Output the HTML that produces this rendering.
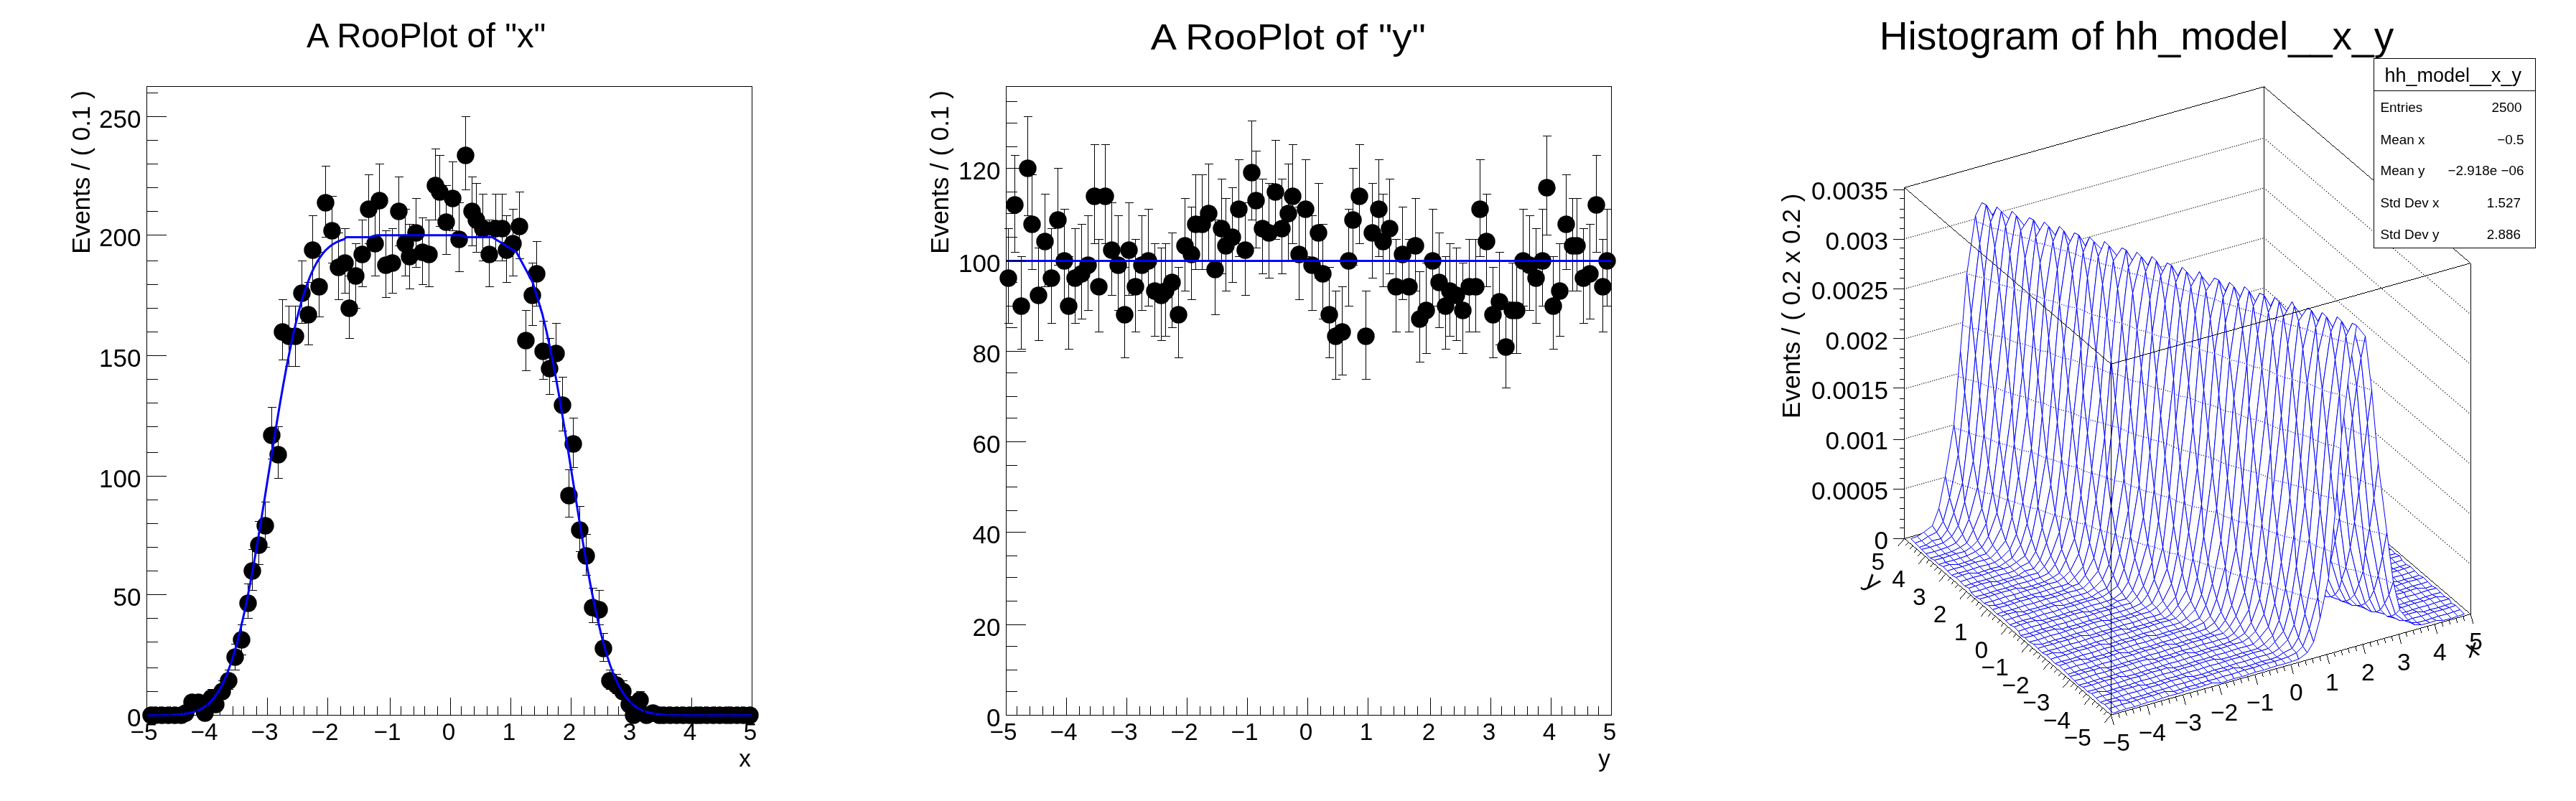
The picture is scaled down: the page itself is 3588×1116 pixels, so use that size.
<!DOCTYPE html>
<html><head><meta charset="utf-8"><title>rf301_composition</title>
<style>html,body{margin:0;padding:0;background:#fff}svg{display:block;will-change:transform}text{font-family:"Liberation Sans",sans-serif}</style></head>
<body>
<svg width="3588" height="1116" viewBox="0 0 3588 1116">
<path d="M258.5 984.5V996.5M252.5 984.5H265M252.5 996.5H265M267.5 969.5V987.5M261.5 969.5H274M261.5 987.5H274M276.5 969.5V987.5M270.5 969.5H283M270.5 987.5H283M285.5 984.5V996.5M279.5 984.5H292M279.5 996.5H292M294.5 960.5V981.5M288.5 960.5H301M288.5 981.5H301M300.5 972.5V990.5M294.5 972.5H307M294.5 990.5H307M309.5 948.5V972.5M303.5 948.5H316M303.5 972.5H316M318.5 933.5V960.5M312.5 933.5H325M312.5 960.5H325M327.5 897.5V933.5M321.5 897.5H334M321.5 933.5H334M336.5 870.5V912.5M330.5 870.5H343M330.5 912.5H343M345.5 813.5V861.5M339.5 813.5H352M339.5 861.5H352M351.5 765.5V822.5M345.5 765.5H358M345.5 822.5H358M360.5 726.5V786.5M354.5 726.5H367M354.5 786.5H367M369.5 699.5V762.5M363.5 699.5H376M363.5 762.5H376M378.5 567.5V639.5M372.5 567.5H385M372.5 639.5H385M387.5 594.5V666.5M381.5 594.5H394M381.5 666.5H394M393.5 417.5V501.5M387.5 417.5H400M387.5 501.5H400M402.5 426.5V510.5M396.5 426.5H409M396.5 510.5H409M411.5 426.5V510.5M405.5 426.5H418M405.5 510.5H418M420.5 363.5V450.5M414.5 363.5H427M414.5 450.5H427M429.5 393.5V480.5M423.5 393.5H436M423.5 480.5H436M435.5 300.5V393.5M429.5 300.5H442M429.5 393.5H442M444.5 351.5V441.5M438.5 351.5H451M438.5 441.5H451M453.5 231.5V330.5M447.5 231.5H460M447.5 330.5H460M462.5 273.5V366.5M456.5 273.5H469M456.5 366.5H469M471.5 324.5V417.5M465.5 324.5H478M465.5 417.5H478M480.5 318.5V408.5M474.5 318.5H487M474.5 408.5H487M486.5 384.5V471.5M480.5 384.5H493M480.5 471.5H493M495.5 339.5V429.5M489.5 339.5H502M489.5 429.5H502M504.5 306.5V399.5M498.5 306.5H511M498.5 399.5H511M513.5 243.5V339.5M507.5 243.5H520M507.5 339.5H520M522.5 291.5V384.5M516.5 291.5H529M516.5 384.5H529M528.5 228.5V327.5M522.5 228.5H535M522.5 327.5H535M537.5 321.5V414.5M531.5 321.5H544M531.5 414.5H544M546.5 318.5V408.5M540.5 318.5H553M540.5 408.5H553M555.5 246.5V342.5M549.5 246.5H562M549.5 342.5H562M564.5 291.5V384.5M558.5 291.5H571M558.5 384.5H571M570.5 312.5V402.5M564.5 312.5H577M564.5 402.5H577M579.5 276.5V372.5M573.5 276.5H586M573.5 372.5H586M588.5 303.5V396.5M582.5 303.5H595M582.5 396.5H595M597.5 306.5V399.5M591.5 306.5H604M591.5 399.5H604M606.5 207.5V306.5M600.5 207.5H613M600.5 306.5H613M612.5 216.5V315.5M606.5 216.5H619M606.5 315.5H619M621.5 258.5V354.5M615.5 258.5H628M615.5 354.5H628M630.5 225.5V321.5M624.5 225.5H637M624.5 321.5H637M639.5 282.5V378.5M633.5 282.5H646M633.5 378.5H646M648.5 162.5V264.5M642.5 162.5H655M642.5 264.5H655M657.5 246.5V342.5M651.5 246.5H664M651.5 342.5H664M663.5 255.5V351.5M657.5 255.5H670M657.5 351.5H670M672.5 270.5V363.5M666.5 270.5H679M666.5 363.5H679M681.5 306.5V399.5M675.5 306.5H688M675.5 399.5H688M690.5 270.5V363.5M684.5 270.5H697M684.5 363.5H697M699.5 270.5V363.5M693.5 270.5H706M693.5 363.5H706M705.5 300.5V393.5M699.5 300.5H712M699.5 393.5H712M714.5 291.5V384.5M708.5 291.5H721M708.5 384.5H721M723.5 267.5V360.5M717.5 267.5H730M717.5 360.5H730M732.5 432.5V516.5M726.5 432.5H739M726.5 516.5H739M741.5 366.5V453.5M735.5 366.5H748M735.5 453.5H748M747.5 336.5V426.5M741.5 336.5H754M741.5 426.5H754M756.5 447.5V528.5M750.5 447.5H763M750.5 528.5H763M765.5 471.5V549.5M759.5 471.5H772M759.5 549.5H772M774.5 450.5V531.5M768.5 450.5H781M768.5 531.5H781M783.5 525.5V600.5M777.5 525.5H790M777.5 600.5H790M792.5 654.5V720.5M786.5 654.5H799M786.5 720.5H799M798.5 582.5V651.5M792.5 582.5H805M792.5 651.5H805M807.5 705.5V768.5M801.5 705.5H814M801.5 768.5H814M816.5 744.5V801.5M810.5 744.5H823M810.5 801.5H823M825.5 819.5V867.5M819.5 819.5H832M819.5 867.5H832M834.5 822.5V870.5M828.5 822.5H841M828.5 870.5H841M840.5 882.5V921.5M834.5 882.5H847M834.5 921.5H847M849.5 933.5V960.5M843.5 933.5H856M843.5 960.5H856M858.5 939.5V966.5M852.5 939.5H865M852.5 966.5H865M867.5 948.5V972.5M861.5 948.5H874M861.5 972.5H874M876.5 972.5V990.5M870.5 972.5H883M870.5 990.5H883M891.5 963.5V984.5M885.5 963.5H898M885.5 984.5H898M909.5 984.5V996.5M903.5 984.5H916M903.5 996.5H916" fill="none" stroke="#000" stroke-width="1" shape-rendering="crispEdges"/>
<g fill="#000"><circle cx="210.5" cy="996.5" r="12.2"/><circle cx="216.5" cy="996.5" r="12.2"/><circle cx="225.5" cy="996.5" r="12.2"/><circle cx="234.5" cy="996.5" r="12.2"/><circle cx="243.5" cy="996.5" r="12.2"/><circle cx="252.5" cy="996.5" r="12.2"/><circle cx="258.5" cy="993.5" r="12.2"/><circle cx="267.5" cy="978.5" r="12.2"/><circle cx="276.5" cy="978.5" r="12.2"/><circle cx="285.5" cy="993.5" r="12.2"/><circle cx="294.5" cy="972.5" r="12.2"/><circle cx="300.5" cy="981.5" r="12.2"/><circle cx="309.5" cy="963.5" r="12.2"/><circle cx="318.5" cy="948.5" r="12.2"/><circle cx="327.5" cy="915.5" r="12.2"/><circle cx="336.5" cy="891.5" r="12.2"/><circle cx="345.5" cy="840.5" r="12.2"/><circle cx="351.5" cy="795.5" r="12.2"/><circle cx="360.5" cy="759.5" r="12.2"/><circle cx="369.5" cy="732.5" r="12.2"/><circle cx="378.5" cy="606.5" r="12.2"/><circle cx="387.5" cy="633.5" r="12.2"/><circle cx="393.5" cy="462.5" r="12.2"/><circle cx="402.5" cy="468.5" r="12.2"/><circle cx="411.5" cy="468.5" r="12.2"/><circle cx="420.5" cy="408.5" r="12.2"/><circle cx="429.5" cy="438.5" r="12.2"/><circle cx="435.5" cy="348.5" r="12.2"/><circle cx="444.5" cy="399.5" r="12.2"/><circle cx="453.5" cy="282.5" r="12.2"/><circle cx="462.5" cy="321.5" r="12.2"/><circle cx="471.5" cy="372.5" r="12.2"/><circle cx="480.5" cy="366.5" r="12.2"/><circle cx="486.5" cy="429.5" r="12.2"/><circle cx="495.5" cy="384.5" r="12.2"/><circle cx="504.5" cy="354.5" r="12.2"/><circle cx="513.5" cy="291.5" r="12.2"/><circle cx="522.5" cy="339.5" r="12.2"/><circle cx="528.5" cy="279.5" r="12.2"/><circle cx="537.5" cy="369.5" r="12.2"/><circle cx="546.5" cy="366.5" r="12.2"/><circle cx="555.5" cy="294.5" r="12.2"/><circle cx="564.5" cy="339.5" r="12.2"/><circle cx="570.5" cy="357.5" r="12.2"/><circle cx="579.5" cy="324.5" r="12.2"/><circle cx="588.5" cy="351.5" r="12.2"/><circle cx="597.5" cy="354.5" r="12.2"/><circle cx="606.5" cy="258.5" r="12.2"/><circle cx="612.5" cy="267.5" r="12.2"/><circle cx="621.5" cy="309.5" r="12.2"/><circle cx="630.5" cy="276.5" r="12.2"/><circle cx="639.5" cy="333.5" r="12.2"/><circle cx="648.5" cy="216.5" r="12.2"/><circle cx="657.5" cy="294.5" r="12.2"/><circle cx="663.5" cy="306.5" r="12.2"/><circle cx="672.5" cy="318.5" r="12.2"/><circle cx="681.5" cy="354.5" r="12.2"/><circle cx="690.5" cy="318.5" r="12.2"/><circle cx="699.5" cy="318.5" r="12.2"/><circle cx="705.5" cy="348.5" r="12.2"/><circle cx="714.5" cy="339.5" r="12.2"/><circle cx="723.5" cy="315.5" r="12.2"/><circle cx="732.5" cy="474.5" r="12.2"/><circle cx="741.5" cy="411.5" r="12.2"/><circle cx="747.5" cy="381.5" r="12.2"/><circle cx="756.5" cy="489.5" r="12.2"/><circle cx="765.5" cy="513.5" r="12.2"/><circle cx="774.5" cy="492.5" r="12.2"/><circle cx="783.5" cy="564.5" r="12.2"/><circle cx="792.5" cy="690.5" r="12.2"/><circle cx="798.5" cy="618.5" r="12.2"/><circle cx="807.5" cy="738.5" r="12.2"/><circle cx="816.5" cy="774.5" r="12.2"/><circle cx="825.5" cy="846.5" r="12.2"/><circle cx="834.5" cy="849.5" r="12.2"/><circle cx="840.5" cy="903.5" r="12.2"/><circle cx="849.5" cy="948.5" r="12.2"/><circle cx="858.5" cy="954.5" r="12.2"/><circle cx="867.5" cy="963.5" r="12.2"/><circle cx="876.5" cy="981.5" r="12.2"/><circle cx="882.5" cy="996.5" r="12.2"/><circle cx="891.5" cy="975.5" r="12.2"/><circle cx="900.5" cy="996.5" r="12.2"/><circle cx="909.5" cy="993.5" r="12.2"/><circle cx="918.5" cy="996.5" r="12.2"/><circle cx="924.5" cy="996.5" r="12.2"/><circle cx="933.5" cy="996.5" r="12.2"/><circle cx="942.5" cy="996.5" r="12.2"/><circle cx="951.5" cy="996.5" r="12.2"/><circle cx="960.5" cy="996.5" r="12.2"/><circle cx="969.5" cy="996.5" r="12.2"/><circle cx="975.5" cy="996.5" r="12.2"/><circle cx="984.5" cy="996.5" r="12.2"/><circle cx="993.5" cy="996.5" r="12.2"/><circle cx="1002.5" cy="996.5" r="12.2"/><circle cx="1011.5" cy="996.5" r="12.2"/><circle cx="1017.5" cy="996.5" r="12.2"/><circle cx="1026.5" cy="996.5" r="12.2"/><circle cx="1035.5" cy="996.5" r="12.2"/><circle cx="1044.5" cy="996.5" r="12.2"/></g>
<path d="M205 996.4L209.2 996.4L213.4 996.4L217.7 996.4L221.9 996.4L226.1 996.3L230.3 996.2L234.5 996.1L238.7 996L243 995.8L247.2 995.6L251.4 995.2L255.6 994.8L259.8 994.1L264 993.4L268.2 992.3L272.5 991L276.7 989.3L280.9 987.2L285.1 984.5L289.3 981.3L293.5 977.3L297.8 972.5L302 966.7L306.2 959.9L310.4 951.9L314.6 942.6L318.8 931.9L323.1 919.7L327.3 906L331.5 890.6L335.7 873.7L339.9 855.1L344.1 835.1L348.4 813.5L352.6 790.6L356.8 766.6L361 741.6L365.2 715.8L369.4 689.5L373.6 662.9L377.9 636.4L382.1 610L386.3 584.3L390.5 559.2L394.7 535.2L398.9 512.3L403.2 490.8L407.4 470.7L411.6 452.2L415.8 435.2L420 419.9L424.2 406.1L428.5 394L432.7 383.3L436.9 373.9L441.1 365.9L445.3 359.1L449.5 353.3L453.7 348.5L458 344.6L462.2 341.3L466.4 338.7L470.6 336.5L474.8 334.8L479 333.5L482.1 330.5L515.8 330.5L524.6 327.8L641.8 327.8L651.1 330.5L685.6 330.5L719.3 351.3L741.9 393.3L755.4 437.5L761.5 463.1L765.7 482.6L769.9 503.5L774.2 525.9L778.4 549.5L782.6 574.2L786.8 599.7L791 625.8L795.2 652.3L799.5 678.9L803.7 705.3L807.9 731.3L812.1 756.7L816.3 781.2L820.5 804.5L824.7 826.6L829 847.3L833.2 866.4L837.4 884L841.6 900L845.8 914.4L850 927.2L854.3 938.5L858.5 948.3L862.7 956.8L866.9 964.1L871.1 970.3L875.3 975.5L879.6 979.8L883.8 983.3L888 986.2L892.2 988.5L896.4 990.4L900.6 991.8L904.8 993L909.1 993.9L913.3 994.5L917.5 995L921.7 995.4L925.9 995.7L930.1 995.9L934.4 996.1L938.6 996.2L942.8 996.3L947 996.3L951.2 996.4L955.4 996.4L959.7 996.4L963.9 996.4L968.1 996.4L972.3 996.4L976.5 996.5L980.7 996.5L985 996.5L989.2 996.5L993.4 996.5L997.6 996.5L1001.8 996.5L1006 996.5L1010.2 996.5L1014.5 996.5L1018.7 996.5L1022.9 996.5L1027.1 996.5L1031.3 996.5L1035.5 996.5L1039.8 996.5L1044 996.5L1048.2 996.5" fill="none" stroke="#0000ff" stroke-width="3" stroke-linejoin="round"/>
<path d="M204.5 120.5H1047.5V996.5H204.5ZM204.5 996.5V971.5M222.5 996.5V983.5M237.5 996.5V983.5M255.5 996.5V983.5M273.5 996.5V983.5M288.5 996.5V971.5M306.5 996.5V983.5M324.5 996.5V983.5M339.5 996.5V983.5M357.5 996.5V983.5M372.5 996.5V971.5M390.5 996.5V983.5M408.5 996.5V983.5M423.5 996.5V983.5M441.5 996.5V983.5M456.5 996.5V971.5M474.5 996.5V983.5M492.5 996.5V983.5M507.5 996.5V983.5M525.5 996.5V983.5M543.5 996.5V971.5M558.5 996.5V983.5M576.5 996.5V983.5M591.5 996.5V983.5M609.5 996.5V983.5M627.5 996.5V971.5M642.5 996.5V983.5M660.5 996.5V983.5M678.5 996.5V983.5M693.5 996.5V983.5M711.5 996.5V971.5M726.5 996.5V983.5M744.5 996.5V983.5M762.5 996.5V983.5M777.5 996.5V983.5M795.5 996.5V971.5M813.5 996.5V983.5M828.5 996.5V983.5M846.5 996.5V983.5M861.5 996.5V983.5M879.5 996.5V971.5M897.5 996.5V983.5M912.5 996.5V983.5M930.5 996.5V983.5M948.5 996.5V983.5M963.5 996.5V971.5M981.5 996.5V983.5M996.5 996.5V983.5M1014.5 996.5V983.5M1032.5 996.5V983.5M1047.5 996.5V971.5M204.5 996.5H231.5M204.5 963.5H219.5M204.5 930.5H219.5M204.5 894.5H219.5M204.5 861.5H219.5M204.5 828.5H231.5M204.5 795.5H219.5M204.5 762.5H219.5M204.5 729.5H219.5M204.5 696.5H219.5M204.5 663.5H231.5M204.5 630.5H219.5M204.5 594.5H219.5M204.5 561.5H219.5M204.5 528.5H219.5M204.5 495.5H231.5M204.5 462.5H219.5M204.5 429.5H219.5M204.5 396.5H219.5M204.5 363.5H219.5M204.5 327.5H231.5M204.5 294.5H219.5M204.5 261.5H219.5M204.5 228.5H219.5M204.5 195.5H219.5M204.5 162.5H231.5M204.5 129.5H219.5" fill="none" stroke="#000" stroke-width="1" shape-rendering="crispEdges"/>
<g font-size="35" fill="#000"><text x="200.5" y="1030.5" text-anchor="middle" font-size="33.3">−5</text><text x="284.5" y="1030.5" text-anchor="middle" font-size="33.3">−4</text><text x="368.5" y="1030.5" text-anchor="middle" font-size="33.3">−3</text><text x="452.5" y="1030.5" text-anchor="middle" font-size="33.3">−2</text><text x="539.5" y="1030.5" text-anchor="middle" font-size="33.3">−1</text><text x="625" y="1030.5" text-anchor="middle" font-size="33.3">0</text><text x="709" y="1030.5" text-anchor="middle" font-size="33.3">1</text><text x="793" y="1030.5" text-anchor="middle" font-size="33.3">2</text><text x="877" y="1030.5" text-anchor="middle" font-size="33.3">3</text><text x="961" y="1030.5" text-anchor="middle" font-size="33.3">4</text><text x="1045" y="1030.5" text-anchor="middle" font-size="33.3">5</text><text x="196.5" y="1011.9" text-anchor="end">0</text><text x="196.5" y="843.9" text-anchor="end">50</text><text x="196.5" y="678.9" text-anchor="end">100</text><text x="196.5" y="510.9" text-anchor="end">150</text><text x="196.5" y="342.9" text-anchor="end">200</text><text x="196.5" y="177.9" text-anchor="end">250</text><text x="1046" y="1068" text-anchor="end" font-size="33.3">x</text><text transform="translate(125.3,126.1) rotate(-90)" text-anchor="end">Events / ( 0.1 )</text></g>
<text transform="translate(593.7,65.6) scale(1.0,1)" font-size="47.3" text-anchor="middle" fill="#000">A RooPlot of "x"</text>
<path d="M1404.5 318.5V450.5M1398.5 318.5H1411M1398.5 450.5H1411M1413.5 216.5V351.5M1407.5 216.5H1420M1407.5 351.5H1420M1422.5 357.5V486.5M1416.5 357.5H1429M1416.5 486.5H1429M1431.5 162.5V300.5M1425.5 162.5H1438M1425.5 300.5H1438M1437.5 243.5V375.5M1431.5 243.5H1444M1431.5 375.5H1444M1446.5 345.5V474.5M1440.5 345.5H1453M1440.5 474.5H1453M1455.5 270.5V399.5M1449.5 270.5H1462M1449.5 399.5H1462M1464.5 318.5V450.5M1458.5 318.5H1471M1458.5 450.5H1471M1473.5 234.5V369.5M1467.5 234.5H1480M1467.5 369.5H1480M1482.5 291.5V426.5M1476.5 291.5H1489M1476.5 426.5H1489M1488.5 357.5V486.5M1482.5 357.5H1495M1482.5 486.5H1495M1497.5 318.5V450.5M1491.5 318.5H1504M1491.5 450.5H1504M1506.5 312.5V444.5M1500.5 312.5H1513M1500.5 444.5H1513M1515.5 300.5V432.5M1509.5 300.5H1522M1509.5 432.5H1522M1524.5 201.5V339.5M1518.5 201.5H1531M1518.5 339.5H1531M1530.5 333.5V462.5M1524.5 333.5H1537M1524.5 462.5H1537M1539.5 201.5V339.5M1533.5 201.5H1546M1533.5 339.5H1546M1548.5 282.5V411.5M1542.5 282.5H1555M1542.5 411.5H1555M1557.5 300.5V432.5M1551.5 300.5H1564M1551.5 432.5H1564M1566.5 372.5V498.5M1560.5 372.5H1573M1560.5 498.5H1573M1572.5 282.5V411.5M1566.5 282.5H1579M1566.5 411.5H1579M1581.5 333.5V462.5M1575.5 333.5H1588M1575.5 462.5H1588M1590.5 300.5V432.5M1584.5 300.5H1597M1584.5 432.5H1597M1599.5 291.5V426.5M1593.5 291.5H1606M1593.5 426.5H1606M1608.5 339.5V468.5M1602.5 339.5H1615M1602.5 468.5H1615M1617.5 345.5V474.5M1611.5 345.5H1624M1611.5 474.5H1624M1623.5 339.5V468.5M1617.5 339.5H1630M1617.5 468.5H1630M1632.5 324.5V456.5M1626.5 324.5H1639M1626.5 456.5H1639M1641.5 372.5V498.5M1635.5 372.5H1648M1635.5 498.5H1648M1650.5 276.5V405.5M1644.5 276.5H1657M1644.5 405.5H1657M1659.5 288.5V417.5M1653.5 288.5H1666M1653.5 417.5H1666M1665.5 243.5V375.5M1659.5 243.5H1672M1659.5 375.5H1672M1674.5 243.5V375.5M1668.5 243.5H1681M1668.5 375.5H1681M1683.5 228.5V363.5M1677.5 228.5H1690M1677.5 363.5H1690M1692.5 306.5V438.5M1686.5 306.5H1699M1686.5 438.5H1699M1701.5 249.5V381.5M1695.5 249.5H1708M1695.5 381.5H1708M1707.5 276.5V405.5M1701.5 276.5H1714M1701.5 405.5H1714M1716.5 261.5V393.5M1710.5 261.5H1723M1710.5 393.5H1723M1725.5 222.5V357.5M1719.5 222.5H1732M1719.5 357.5H1732M1734.5 282.5V411.5M1728.5 282.5H1741M1728.5 411.5H1741M1743.5 168.5V306.5M1737.5 168.5H1750M1737.5 306.5H1750M1749.5 210.5V345.5M1743.5 210.5H1756M1743.5 345.5H1756M1758.5 249.5V381.5M1752.5 249.5H1765M1752.5 381.5H1765M1767.5 255.5V387.5M1761.5 255.5H1774M1761.5 387.5H1774M1776.5 195.5V333.5M1770.5 195.5H1783M1770.5 333.5H1783M1785.5 249.5V381.5M1779.5 249.5H1792M1779.5 381.5H1792M1794.5 228.5V363.5M1788.5 228.5H1801M1788.5 363.5H1801M1800.5 201.5V339.5M1794.5 201.5H1807M1794.5 339.5H1807M1809.5 288.5V417.5M1803.5 288.5H1816M1803.5 417.5H1816M1818.5 222.5V357.5M1812.5 222.5H1825M1812.5 357.5H1825M1827.5 300.5V432.5M1821.5 300.5H1834M1821.5 432.5H1834M1836.5 255.5V387.5M1830.5 255.5H1843M1830.5 387.5H1843M1842.5 312.5V444.5M1836.5 312.5H1849M1836.5 444.5H1849M1851.5 372.5V498.5M1845.5 372.5H1858M1845.5 498.5H1858M1860.5 405.5V528.5M1854.5 405.5H1867M1854.5 528.5H1867M1869.5 399.5V522.5M1863.5 399.5H1876M1863.5 522.5H1876M1878.5 291.5V426.5M1872.5 291.5H1885M1872.5 426.5H1885M1884.5 234.5V369.5M1878.5 234.5H1891M1878.5 369.5H1891M1893.5 201.5V339.5M1887.5 201.5H1900M1887.5 339.5H1900M1902.5 405.5V528.5M1896.5 405.5H1909M1896.5 528.5H1909M1911.5 255.5V387.5M1905.5 255.5H1918M1905.5 387.5H1918M1920.5 222.5V357.5M1914.5 222.5H1927M1914.5 357.5H1927M1926.5 270.5V399.5M1920.5 270.5H1933M1920.5 399.5H1933M1935.5 249.5V381.5M1929.5 249.5H1942M1929.5 381.5H1942M1944.5 333.5V462.5M1938.5 333.5H1951M1938.5 462.5H1951M1953.5 288.5V417.5M1947.5 288.5H1960M1947.5 417.5H1960M1962.5 333.5V462.5M1956.5 333.5H1969M1956.5 462.5H1969M1971.5 276.5V405.5M1965.5 276.5H1978M1965.5 405.5H1978M1977.5 378.5V504.5M1971.5 378.5H1984M1971.5 504.5H1984M1986.5 366.5V492.5M1980.5 366.5H1993M1980.5 492.5H1993M1995.5 291.5V426.5M1989.5 291.5H2002M1989.5 426.5H2002M2004.5 324.5V456.5M1998.5 324.5H2011M1998.5 456.5H2011M2013.5 357.5V486.5M2007.5 357.5H2020M2007.5 486.5H2020M2019.5 339.5V468.5M2013.5 339.5H2026M2013.5 468.5H2026M2028.5 345.5V474.5M2022.5 345.5H2035M2022.5 474.5H2035M2037.5 366.5V492.5M2031.5 366.5H2044M2031.5 492.5H2044M2046.5 333.5V462.5M2040.5 333.5H2053M2040.5 462.5H2053M2055.5 333.5V462.5M2049.5 333.5H2062M2049.5 462.5H2062M2061.5 222.5V357.5M2055.5 222.5H2068M2055.5 357.5H2068M2070.5 270.5V399.5M2064.5 270.5H2077M2064.5 399.5H2077M2079.5 372.5V498.5M2073.5 372.5H2086M2073.5 498.5H2086M2088.5 351.5V480.5M2082.5 351.5H2095M2082.5 480.5H2095M2097.5 420.5V540.5M2091.5 420.5H2104M2091.5 540.5H2104M2106.5 366.5V492.5M2100.5 366.5H2113M2100.5 492.5H2113M2112.5 366.5V492.5M2106.5 366.5H2119M2106.5 492.5H2119M2121.5 291.5V426.5M2115.5 291.5H2128M2115.5 426.5H2128M2130.5 300.5V432.5M2124.5 300.5H2137M2124.5 432.5H2137M2139.5 318.5V450.5M2133.5 318.5H2146M2133.5 450.5H2146M2148.5 291.5V426.5M2142.5 291.5H2155M2142.5 426.5H2155M2154.5 189.5V327.5M2148.5 189.5H2161M2148.5 327.5H2161M2163.5 357.5V486.5M2157.5 357.5H2170M2157.5 486.5H2170M2172.5 339.5V468.5M2166.5 339.5H2179M2166.5 468.5H2179M2181.5 243.5V375.5M2175.5 243.5H2188M2175.5 375.5H2188M2190.5 276.5V405.5M2184.5 276.5H2197M2184.5 405.5H2197M2196.5 276.5V405.5M2190.5 276.5H2203M2190.5 405.5H2203M2205.5 318.5V450.5M2199.5 318.5H2212M2199.5 450.5H2212M2214.5 312.5V444.5M2208.5 312.5H2221M2208.5 444.5H2221M2223.5 216.5V351.5M2217.5 216.5H2230M2217.5 351.5H2230M2232.5 333.5V462.5M2226.5 333.5H2239M2226.5 462.5H2239M2238.5 291.5V426.5M2232.5 291.5H2245M2232.5 426.5H2245" fill="none" stroke="#000" stroke-width="1" shape-rendering="crispEdges"/>
<g fill="#000"><circle cx="1404.5" cy="387.5" r="12.2"/><circle cx="1413.5" cy="285.5" r="12.2"/><circle cx="1422.5" cy="426.5" r="12.2"/><circle cx="1431.5" cy="234.5" r="12.2"/><circle cx="1437.5" cy="312.5" r="12.2"/><circle cx="1446.5" cy="411.5" r="12.2"/><circle cx="1455.5" cy="336.5" r="12.2"/><circle cx="1464.5" cy="387.5" r="12.2"/><circle cx="1473.5" cy="306.5" r="12.2"/><circle cx="1482.5" cy="363.5" r="12.2"/><circle cx="1488.5" cy="426.5" r="12.2"/><circle cx="1497.5" cy="387.5" r="12.2"/><circle cx="1506.5" cy="381.5" r="12.2"/><circle cx="1515.5" cy="369.5" r="12.2"/><circle cx="1524.5" cy="273.5" r="12.2"/><circle cx="1530.5" cy="399.5" r="12.2"/><circle cx="1539.5" cy="273.5" r="12.2"/><circle cx="1548.5" cy="348.5" r="12.2"/><circle cx="1557.5" cy="369.5" r="12.2"/><circle cx="1566.5" cy="438.5" r="12.2"/><circle cx="1572.5" cy="348.5" r="12.2"/><circle cx="1581.5" cy="399.5" r="12.2"/><circle cx="1590.5" cy="369.5" r="12.2"/><circle cx="1599.5" cy="363.5" r="12.2"/><circle cx="1608.5" cy="405.5" r="12.2"/><circle cx="1617.5" cy="411.5" r="12.2"/><circle cx="1623.5" cy="405.5" r="12.2"/><circle cx="1632.5" cy="393.5" r="12.2"/><circle cx="1641.5" cy="438.5" r="12.2"/><circle cx="1650.5" cy="342.5" r="12.2"/><circle cx="1659.5" cy="354.5" r="12.2"/><circle cx="1665.5" cy="312.5" r="12.2"/><circle cx="1674.5" cy="312.5" r="12.2"/><circle cx="1683.5" cy="297.5" r="12.2"/><circle cx="1692.5" cy="375.5" r="12.2"/><circle cx="1701.5" cy="318.5" r="12.2"/><circle cx="1707.5" cy="342.5" r="12.2"/><circle cx="1716.5" cy="330.5" r="12.2"/><circle cx="1725.5" cy="291.5" r="12.2"/><circle cx="1734.5" cy="348.5" r="12.2"/><circle cx="1743.5" cy="240.5" r="12.2"/><circle cx="1749.5" cy="279.5" r="12.2"/><circle cx="1758.5" cy="318.5" r="12.2"/><circle cx="1767.5" cy="324.5" r="12.2"/><circle cx="1776.5" cy="267.5" r="12.2"/><circle cx="1785.5" cy="318.5" r="12.2"/><circle cx="1794.5" cy="297.5" r="12.2"/><circle cx="1800.5" cy="273.5" r="12.2"/><circle cx="1809.5" cy="354.5" r="12.2"/><circle cx="1818.5" cy="291.5" r="12.2"/><circle cx="1827.5" cy="369.5" r="12.2"/><circle cx="1836.5" cy="324.5" r="12.2"/><circle cx="1842.5" cy="381.5" r="12.2"/><circle cx="1851.5" cy="438.5" r="12.2"/><circle cx="1860.5" cy="468.5" r="12.2"/><circle cx="1869.5" cy="462.5" r="12.2"/><circle cx="1878.5" cy="363.5" r="12.2"/><circle cx="1884.5" cy="306.5" r="12.2"/><circle cx="1893.5" cy="273.5" r="12.2"/><circle cx="1902.5" cy="468.5" r="12.2"/><circle cx="1911.5" cy="324.5" r="12.2"/><circle cx="1920.5" cy="291.5" r="12.2"/><circle cx="1926.5" cy="336.5" r="12.2"/><circle cx="1935.5" cy="318.5" r="12.2"/><circle cx="1944.5" cy="399.5" r="12.2"/><circle cx="1953.5" cy="354.5" r="12.2"/><circle cx="1962.5" cy="399.5" r="12.2"/><circle cx="1971.5" cy="342.5" r="12.2"/><circle cx="1977.5" cy="444.5" r="12.2"/><circle cx="1986.5" cy="432.5" r="12.2"/><circle cx="1995.5" cy="363.5" r="12.2"/><circle cx="2004.5" cy="393.5" r="12.2"/><circle cx="2013.5" cy="426.5" r="12.2"/><circle cx="2019.5" cy="405.5" r="12.2"/><circle cx="2028.5" cy="411.5" r="12.2"/><circle cx="2037.5" cy="432.5" r="12.2"/><circle cx="2046.5" cy="399.5" r="12.2"/><circle cx="2055.5" cy="399.5" r="12.2"/><circle cx="2061.5" cy="291.5" r="12.2"/><circle cx="2070.5" cy="336.5" r="12.2"/><circle cx="2079.5" cy="438.5" r="12.2"/><circle cx="2088.5" cy="420.5" r="12.2"/><circle cx="2097.5" cy="483.5" r="12.2"/><circle cx="2106.5" cy="432.5" r="12.2"/><circle cx="2112.5" cy="432.5" r="12.2"/><circle cx="2121.5" cy="363.5" r="12.2"/><circle cx="2130.5" cy="369.5" r="12.2"/><circle cx="2139.5" cy="387.5" r="12.2"/><circle cx="2148.5" cy="363.5" r="12.2"/><circle cx="2154.5" cy="261.5" r="12.2"/><circle cx="2163.5" cy="426.5" r="12.2"/><circle cx="2172.5" cy="405.5" r="12.2"/><circle cx="2181.5" cy="312.5" r="12.2"/><circle cx="2190.5" cy="342.5" r="12.2"/><circle cx="2196.5" cy="342.5" r="12.2"/><circle cx="2205.5" cy="387.5" r="12.2"/><circle cx="2214.5" cy="381.5" r="12.2"/><circle cx="2223.5" cy="285.5" r="12.2"/><circle cx="2232.5" cy="399.5" r="12.2"/><circle cx="2238.5" cy="363.5" r="12.2"/></g>
<path d="M1401.5 363.5L2244.5 363.5" fill="none" stroke="#0000ff" stroke-width="3" stroke-linejoin="round"/>
<path d="M1401.5 120.5H2244.5V996.5H1401.5ZM1401.5 996.5V971.5M1416.5 996.5V983.5M1434.5 996.5V983.5M1452.5 996.5V983.5M1467.5 996.5V983.5M1485.5 996.5V971.5M1503.5 996.5V983.5M1518.5 996.5V983.5M1536.5 996.5V983.5M1551.5 996.5V983.5M1569.5 996.5V971.5M1587.5 996.5V983.5M1602.5 996.5V983.5M1620.5 996.5V983.5M1638.5 996.5V983.5M1653.5 996.5V971.5M1671.5 996.5V983.5M1686.5 996.5V983.5M1704.5 996.5V983.5M1722.5 996.5V983.5M1737.5 996.5V971.5M1755.5 996.5V983.5M1773.5 996.5V983.5M1788.5 996.5V983.5M1806.5 996.5V983.5M1821.5 996.5V971.5M1839.5 996.5V983.5M1857.5 996.5V983.5M1872.5 996.5V983.5M1890.5 996.5V983.5M1905.5 996.5V971.5M1923.5 996.5V983.5M1941.5 996.5V983.5M1956.5 996.5V983.5M1974.5 996.5V983.5M1992.5 996.5V971.5M2007.5 996.5V983.5M2025.5 996.5V983.5M2040.5 996.5V983.5M2058.5 996.5V983.5M2076.5 996.5V971.5M2091.5 996.5V983.5M2109.5 996.5V983.5M2127.5 996.5V983.5M2142.5 996.5V983.5M2160.5 996.5V971.5M2175.5 996.5V983.5M2193.5 996.5V983.5M2211.5 996.5V983.5M2226.5 996.5V983.5M2244.5 996.5V971.5M1401.5 996.5H1428.5M1401.5 963.5H1416.5M1401.5 933.5H1416.5M1401.5 900.5H1416.5M1401.5 870.5H1428.5M1401.5 837.5H1416.5M1401.5 804.5H1416.5M1401.5 774.5H1416.5M1401.5 741.5H1428.5M1401.5 711.5H1416.5M1401.5 678.5H1416.5M1401.5 648.5H1416.5M1401.5 615.5H1428.5M1401.5 582.5H1416.5M1401.5 552.5H1416.5M1401.5 519.5H1416.5M1401.5 489.5H1428.5M1401.5 456.5H1416.5M1401.5 426.5H1416.5M1401.5 393.5H1416.5M1401.5 363.5H1428.5M1401.5 330.5H1416.5M1401.5 297.5H1416.5M1401.5 267.5H1416.5M1401.5 234.5H1428.5M1401.5 204.5H1416.5M1401.5 171.5H1416.5M1401.5 141.5H1416.5" fill="none" stroke="#000" stroke-width="1" shape-rendering="crispEdges"/>
<g font-size="35" fill="#000"><text x="1397.5" y="1030.5" text-anchor="middle" font-size="33.3">−5</text><text x="1481.5" y="1030.5" text-anchor="middle" font-size="33.3">−4</text><text x="1565.5" y="1030.5" text-anchor="middle" font-size="33.3">−3</text><text x="1649.5" y="1030.5" text-anchor="middle" font-size="33.3">−2</text><text x="1733.5" y="1030.5" text-anchor="middle" font-size="33.3">−1</text><text x="1819" y="1030.5" text-anchor="middle" font-size="33.3">0</text><text x="1903" y="1030.5" text-anchor="middle" font-size="33.3">1</text><text x="1990" y="1030.5" text-anchor="middle" font-size="33.3">2</text><text x="2074" y="1030.5" text-anchor="middle" font-size="33.3">3</text><text x="2158" y="1030.5" text-anchor="middle" font-size="33.3">4</text><text x="2242" y="1030.5" text-anchor="middle" font-size="33.3">5</text><text x="1393.5" y="1011.9" text-anchor="end">0</text><text x="1393.5" y="885.9" text-anchor="end">20</text><text x="1393.5" y="756.9" text-anchor="end">40</text><text x="1393.5" y="630.9" text-anchor="end">60</text><text x="1393.5" y="504.9" text-anchor="end">80</text><text x="1393.5" y="378.9" text-anchor="end">100</text><text x="1393.5" y="249.9" text-anchor="end">120</text><text x="2243" y="1068" text-anchor="end" font-size="33.3">y</text><text transform="translate(1321.3,126.1) rotate(-90)" text-anchor="end">Events / ( 0.1 )</text></g>
<text transform="translate(1794.3,68.9) scale(1.105,1)" font-size="49.2" text-anchor="middle" fill="#000">A RooPlot of "y"</text>
<path d="M2652.7 750.4L3153.4 609.9M3153.4 609.9L3441.1 855.7M2652.7 261.4L3153.4 120.9M3153.4 120.9L3441.1 366.7M3153.4 609.9L3153.4 120.9M3441.1 855.7L3441.1 366.7" fill="none" stroke="#000" stroke-width="0.99" shape-rendering="crispEdges"/>
<path d="M2652.7 680.8L3153.4 540.3M2652.7 611.2L3153.4 470.7M2652.7 541.6L3153.4 401.1M2652.7 472L3153.4 331.5M2652.7 402.4L3153.4 261.9M2652.7 332.8L3153.4 192.3" fill="none" stroke="#000" stroke-width="1.35" stroke-dasharray="0.01 3.11" stroke-linecap="round"/>
<path d="M3153.4 540.3L3441.1 786.1M3153.4 470.7L3441.1 716.5M3153.4 401.1L3441.1 646.9M3153.4 331.5L3441.1 577.3M3153.4 261.9L3441.1 507.7M3153.4 192.3L3441.1 438.1" fill="none" stroke="#000" stroke-width="1.35" stroke-dasharray="0.01 3.94" stroke-linecap="round"/>
<style>.l{fill:none;stroke-dasharray:0.01 3.2;stroke-width:1.35;stroke-linecap:round;shape-rendering:auto}</style>
<g fill="#fff" stroke="#0000ff" stroke-width="0.99" stroke-linejoin="round" shape-rendering="crispEdges"><path d="M3147.5 621.5L3156.5 618.5L3150.5 612.5L3141.5 615.5z"/><path d="M3135.5 624.5L3147.5 621.5L3141.5 615.5L3132.5 618.5z"/><path d="M3126.5 627.5L3135.5 624.5L3132.5 618.5L3120.5 621.5z"/><path d="M3117.5 630.5L3126.5 627.5L3120.5 621.5L3111.5 624.5z"/><path d="M3105.5 633.5L3117.5 630.5L3111.5 624.5L3102.5 627.5z"/><path d="M3096.5 636.5L3105.5 633.5L3102.5 627.5L3090.5 630.5z"/><path d="M3087.5 639.5L3096.5 636.5L3090.5 630.5L3081.5 633.5z"/><path d="M3075.5 642.5L3087.5 639.5L3081.5 633.5L3072.5 636.5z"/><path d="M3066.5 642.5L3075.5 642.5L3072.5 636.5L3060.5 639.5z"/><path d="M3057.5 645.5L3066.5 642.5L3060.5 639.5L3051.5 642.5z"/><path d="M3045.5 648.5L3057.5 645.5L3051.5 642.5L3042.5 645.5z"/><path d="M3036.5 651.5L3045.5 648.5L3042.5 645.5L3030.5 648.5z"/><path d="M3027.5 654.5L3036.5 651.5L3030.5 648.5L3021.5 651.5z"/><path d="M3015.5 657.5L3027.5 654.5L3021.5 651.5L3012.5 654.5z"/><path d="M3006.5 660.5L3015.5 657.5L3012.5 654.5L3000.5 654.5z"/><path d="M2997.5 663.5L3006.5 660.5L3000.5 654.5L2991.5 657.5z"/><path d="M2985.5 666.5L2997.5 663.5L2991.5 657.5L2982.5 660.5z"/><path d="M2976.5 669.5L2985.5 666.5L2982.5 660.5L2970.5 663.5z"/><path d="M2967.5 672.5L2976.5 669.5L2970.5 663.5L2961.5 666.5z"/><path d="M2955.5 675.5L2967.5 672.5L2961.5 666.5L2949.5 669.5z"/><path d="M2946.5 678.5L2955.5 675.5L2949.5 669.5L2940.5 672.5z"/><path d="M2937.5 681.5L2946.5 678.5L2940.5 672.5L2931.5 675.5z"/><path d="M2925.5 684.5L2937.5 681.5L2931.5 675.5L2919.5 678.5z"/><path d="M2916.5 687.5L2925.5 684.5L2919.5 678.5L2910.5 681.5z"/><path d="M2907.5 687.5L2916.5 687.5L2910.5 681.5L2901.5 684.5z"/><path d="M2895.5 690.5L2907.5 687.5L2901.5 684.5L2889.5 687.5z"/><path d="M2886.5 693.5L2895.5 690.5L2889.5 687.5L2880.5 690.5z"/><path d="M2877.5 696.5L2886.5 693.5L2880.5 690.5L2871.5 693.5z"/><path d="M2865.5 699.5L2877.5 696.5L2871.5 693.5L2859.5 696.5z"/><path d="M2856.5 702.5L2865.5 699.5L2859.5 696.5L2850.5 696.5z"/><path d="M2847.5 702.5L2856.5 702.5L2850.5 696.5L2841.5 699.5z"/><path d="M2835.5 696.5L2847.5 702.5L2841.5 699.5L2829.5 696.5z"/><path d="M2826.5 678.5L2835.5 696.5L2829.5 696.5L2820.5 687.5z"/><path d="M2817.5 642.5L2826.5 678.5L2820.5 687.5L2811.5 660.5z"/><path class="l" d="M2818.3 645.5L2816.6 645.1"/><path d="M2805.5 573.5L2817.5 642.5L2811.5 660.5L2799.5 606.5z"/><path class="l" d="M2816.6 645.1L2807.1 640.5"/><path class="l" d="M2806.3 578.4L2804.7 577.7"/><path d="M2796.5 477.5L2805.5 573.5L2799.5 606.5L2790.5 525.5z"/><path class="l" d="M2804.7 577.7L2795.9 574.1"/><path class="l" d="M2799.6 510.5L2792.6 508.8"/><path d="M2787.5 375.5L2796.5 477.5L2790.5 525.5L2781.5 420.5z"/><path class="l" d="M2792.6 508.8L2789 507.6"/><path class="l" d="M2793.4 442.8L2783 438.3"/><path d="M2775.5 300.5L2787.5 375.5L2781.5 420.5L2769.5 327.5z"/><path class="l" d="M2787.5 375.2L2775 370.3"/><path class="l" d="M2776.6 307.4L2774.2 306.4"/><path d="M2766.5 285.5L2775.5 300.5L2769.5 327.5L2760.5 282.5z"/><path class="l" d="M2774.2 306.4L2764.9 304.5"/><path d="M2757.5 339.5L2766.5 285.5L2760.5 282.5L2751.5 300.5z"/><path class="l" d="M2762.1 311.9L2752.8 309"/><path d="M2745.5 438.5L2757.5 339.5L2751.5 300.5L2739.5 381.5z"/><path class="l" d="M2752 385.1L2739.5 381.2"/><path class="l" d="M2752.8 309L2750.4 308"/><path d="M2736.5 546.5L2745.5 438.5L2739.5 381.5L2730.5 489.5z"/><path class="l" d="M2738 528.1L2734.4 526.7"/><path class="l" d="M2744 456.8L2733.6 452.7"/><path d="M2727.5 633.5L2736.5 546.5L2730.5 489.5L2721.5 591.5z"/><path class="l" d="M2731.1 598.7L2722.3 596.8"/><path class="l" d="M2734.4 526.7L2727.4 524.5"/><path d="M2715.5 693.5L2727.5 633.5L2721.5 591.5L2709.5 663.5z"/><path class="l" d="M2719.9 671.3L2710.4 667.8"/><path class="l" d="M2722.3 596.8L2720.7 596.6"/><path d="M2706.5 726.5L2715.5 693.5L2709.5 663.5L2700.5 708.5z"/><path class="l" d="M2710.4 667.8L2708.7 667.3"/><path d="M2697.5 741.5L2706.5 726.5L2700.5 708.5L2691.5 732.5z"/><path d="M2685.5 747.5L2697.5 741.5L2691.5 732.5L2679.5 741.5z"/><path d="M2676.5 753.5L2685.5 747.5L2679.5 741.5L2670.5 747.5z"/><path d="M2667.5 756.5L2676.5 753.5L2670.5 747.5L2661.5 750.5z"/><path d="M3153.5 627.5L3162.5 624.5L3156.5 618.5L3147.5 621.5z"/><path d="M3141.5 630.5L3153.5 627.5L3147.5 621.5L3135.5 624.5z"/><path d="M3132.5 633.5L3141.5 630.5L3135.5 624.5L3126.5 627.5z"/><path d="M3123.5 633.5L3132.5 633.5L3126.5 627.5L3117.5 630.5z"/><path d="M3111.5 636.5L3123.5 633.5L3117.5 630.5L3105.5 633.5z"/><path d="M3102.5 639.5L3111.5 636.5L3105.5 633.5L3096.5 636.5z"/><path d="M3093.5 642.5L3102.5 639.5L3096.5 636.5L3087.5 639.5z"/><path d="M3081.5 645.5L3093.5 642.5L3087.5 639.5L3075.5 642.5z"/><path d="M3072.5 648.5L3081.5 645.5L3075.5 642.5L3066.5 642.5z"/><path d="M3063.5 651.5L3072.5 648.5L3066.5 642.5L3057.5 645.5z"/><path d="M3051.5 654.5L3063.5 651.5L3057.5 645.5L3045.5 648.5z"/><path d="M3042.5 657.5L3051.5 654.5L3045.5 648.5L3036.5 651.5z"/><path d="M3033.5 660.5L3042.5 657.5L3036.5 651.5L3027.5 654.5z"/><path d="M3021.5 663.5L3033.5 660.5L3027.5 654.5L3015.5 657.5z"/><path d="M3012.5 666.5L3021.5 663.5L3015.5 657.5L3006.5 660.5z"/><path d="M3003.5 669.5L3012.5 666.5L3006.5 660.5L2997.5 663.5z"/><path d="M2991.5 672.5L3003.5 669.5L2997.5 663.5L2985.5 666.5z"/><path d="M2982.5 675.5L2991.5 672.5L2985.5 666.5L2976.5 669.5z"/><path d="M2973.5 675.5L2982.5 675.5L2976.5 669.5L2967.5 672.5z"/><path d="M2961.5 678.5L2973.5 675.5L2967.5 672.5L2955.5 675.5z"/><path d="M2952.5 681.5L2961.5 678.5L2955.5 675.5L2946.5 678.5z"/><path d="M2943.5 684.5L2952.5 681.5L2946.5 678.5L2937.5 681.5z"/><path d="M2931.5 687.5L2943.5 684.5L2937.5 681.5L2925.5 684.5z"/><path d="M2922.5 690.5L2931.5 687.5L2925.5 684.5L2916.5 687.5z"/><path d="M2913.5 693.5L2922.5 690.5L2916.5 687.5L2907.5 687.5z"/><path d="M2901.5 696.5L2913.5 693.5L2907.5 687.5L2895.5 690.5z"/><path d="M2892.5 699.5L2901.5 696.5L2895.5 690.5L2886.5 693.5z"/><path d="M2883.5 702.5L2892.5 699.5L2886.5 693.5L2877.5 696.5z"/><path d="M2871.5 705.5L2883.5 702.5L2877.5 696.5L2865.5 699.5z"/><path d="M2862.5 705.5L2871.5 705.5L2865.5 699.5L2856.5 702.5z"/><path d="M2853.5 705.5L2862.5 705.5L2856.5 702.5L2847.5 702.5z"/><path d="M2841.5 693.5L2853.5 705.5L2847.5 702.5L2835.5 696.5z"/><path d="M2832.5 666.5L2841.5 693.5L2835.5 696.5L2826.5 678.5z"/><path d="M2823.5 615.5L2832.5 666.5L2826.5 678.5L2817.5 642.5z"/><path class="l" d="M2829.2 647.6L2818.3 645.5"/><path d="M2811.5 531.5L2823.5 615.5L2817.5 642.5L2805.5 573.5z"/><path class="l" d="M2818.7 581.9L2806.3 578.4"/><path d="M2802.5 429.5L2811.5 531.5L2805.5 573.5L2796.5 477.5z"/><path class="l" d="M2810 514.1L2799.6 510.5"/><path class="l" d="M2804 446.8L2800.5 445.5"/><path d="M2793.5 336.5L2802.5 429.5L2796.5 477.5L2787.5 375.5z"/><path class="l" d="M2800.5 445.5L2793.4 442.8"/><path class="l" d="M2797.6 379.3L2787.5 375.3"/><path d="M2781.5 288.5L2793.5 336.5L2787.5 375.5L2775.5 300.5z"/><path class="l" d="M2787.5 375.3L2787.5 375.2"/><path class="l" d="M2787.4 312L2776.6 307.4"/><path d="M2772.5 309.5L2781.5 288.5L2775.5 300.5L2766.5 285.5z"/><path d="M2763.5 387.5L2772.5 309.5L2766.5 285.5L2757.5 339.5z"/><path class="l" d="M2763.5 387.2L2763.5 387.2"/><path class="l" d="M2771.7 316.7L2762.1 311.9"/><path d="M2751.5 495.5L2763.5 387.5L2757.5 339.5L2745.5 438.5z"/><path class="l" d="M2755.6 458.7L2747.5 457.5"/><path class="l" d="M2763.5 387.2L2752 385.1"/><path d="M2742.5 597.5L2751.5 495.5L2745.5 438.5L2736.5 546.5z"/><path class="l" d="M2748.4 530.5L2738 528.1"/><path class="l" d="M2747.5 457.5L2744 456.8"/><path d="M2733.5 672.5L2742.5 597.5L2736.5 546.5L2727.5 633.5z"/><path class="l" d="M2741.9 602.8L2731.1 598.7"/><path d="M2721.5 714.5L2733.5 672.5L2727.5 633.5L2715.5 693.5z"/><path class="l" d="M2732.5 676L2719.9 671.3"/><path d="M2712.5 738.5L2721.5 714.5L2715.5 693.5L2706.5 726.5z"/><path d="M2703.5 750.5L2712.5 738.5L2706.5 726.5L2697.5 741.5z"/><path d="M2691.5 753.5L2703.5 750.5L2697.5 741.5L2685.5 747.5z"/><path d="M2682.5 759.5L2691.5 753.5L2685.5 747.5L2676.5 753.5z"/><path d="M2673.5 762.5L2682.5 759.5L2676.5 753.5L2667.5 756.5z"/><path d="M3159.5 630.5L3168.5 627.5L3162.5 624.5L3153.5 627.5z"/><path d="M3147.5 633.5L3159.5 630.5L3153.5 627.5L3141.5 630.5z"/><path d="M3138.5 636.5L3147.5 633.5L3141.5 630.5L3132.5 633.5z"/><path d="M3129.5 639.5L3138.5 636.5L3132.5 633.5L3123.5 633.5z"/><path d="M3117.5 642.5L3129.5 639.5L3123.5 633.5L3111.5 636.5z"/><path d="M3108.5 645.5L3117.5 642.5L3111.5 636.5L3102.5 639.5z"/><path d="M3099.5 648.5L3108.5 645.5L3102.5 639.5L3093.5 642.5z"/><path d="M3087.5 651.5L3099.5 648.5L3093.5 642.5L3081.5 645.5z"/><path d="M3078.5 654.5L3087.5 651.5L3081.5 645.5L3072.5 648.5z"/><path d="M3069.5 657.5L3078.5 654.5L3072.5 648.5L3063.5 651.5z"/><path d="M3057.5 660.5L3069.5 657.5L3063.5 651.5L3051.5 654.5z"/><path d="M3048.5 663.5L3057.5 660.5L3051.5 654.5L3042.5 657.5z"/><path d="M3039.5 666.5L3048.5 663.5L3042.5 657.5L3033.5 660.5z"/><path d="M3027.5 666.5L3039.5 666.5L3033.5 660.5L3021.5 663.5z"/><path d="M3018.5 669.5L3027.5 666.5L3021.5 663.5L3012.5 666.5z"/><path d="M3009.5 672.5L3018.5 669.5L3012.5 666.5L3003.5 669.5z"/><path d="M2997.5 675.5L3009.5 672.5L3003.5 669.5L2991.5 672.5z"/><path d="M2988.5 678.5L2997.5 675.5L2991.5 672.5L2982.5 675.5z"/><path d="M2979.5 681.5L2988.5 678.5L2982.5 675.5L2973.5 675.5z"/><path d="M2967.5 684.5L2979.5 681.5L2973.5 675.5L2961.5 678.5z"/><path d="M2958.5 687.5L2967.5 684.5L2961.5 678.5L2952.5 681.5z"/><path d="M2949.5 690.5L2958.5 687.5L2952.5 681.5L2943.5 684.5z"/><path d="M2937.5 693.5L2949.5 690.5L2943.5 684.5L2931.5 687.5z"/><path d="M2928.5 696.5L2937.5 693.5L2931.5 687.5L2922.5 690.5z"/><path d="M2919.5 699.5L2928.5 696.5L2922.5 690.5L2913.5 693.5z"/><path d="M2907.5 702.5L2919.5 699.5L2913.5 693.5L2901.5 696.5z"/><path d="M2898.5 705.5L2907.5 702.5L2901.5 696.5L2892.5 699.5z"/><path d="M2889.5 705.5L2898.5 705.5L2892.5 699.5L2883.5 702.5z"/><path d="M2877.5 708.5L2889.5 705.5L2883.5 702.5L2871.5 705.5z"/><path d="M2868.5 708.5L2877.5 708.5L2871.5 705.5L2862.5 705.5z"/><path d="M2859.5 705.5L2868.5 708.5L2862.5 705.5L2853.5 705.5z"/><path d="M2847.5 687.5L2859.5 705.5L2853.5 705.5L2841.5 693.5z"/><path d="M2838.5 648.5L2847.5 687.5L2841.5 693.5L2832.5 666.5z"/><path class="l" d="M2839.3 651.8L2837.6 651.1"/><path d="M2829.5 579.5L2838.5 648.5L2832.5 666.5L2823.5 615.5z"/><path class="l" d="M2837.6 651.1L2829.2 647.6"/><path class="l" d="M2830.1 584.4L2828.7 584.1"/><path d="M2817.5 483.5L2829.5 579.5L2823.5 615.5L2811.5 531.5z"/><path class="l" d="M2828.7 584.1L2818.7 581.9"/><path class="l" d="M2821.6 516.5L2813.6 514.8"/><path d="M2808.5 381.5L2817.5 483.5L2811.5 531.5L2802.5 429.5z"/><path class="l" d="M2813.6 514.8L2810 514.1"/><path class="l" d="M2814.4 448.8L2804 446.8"/><path d="M2799.5 306.5L2808.5 381.5L2802.5 429.5L2793.5 336.5z"/><path class="l" d="M2808.5 381.2L2797.6 379.3"/><path class="l" d="M2800.3 313.4L2798.2 313"/><path d="M2787.5 294.5L2799.5 306.5L2793.5 336.5L2781.5 288.5z"/><path class="l" d="M2798.2 313L2787.4 312"/><path d="M2778.5 345.5L2787.5 294.5L2781.5 288.5L2772.5 309.5z"/><path class="l" d="M2783.1 319.4L2773.8 317.3"/><path d="M2766.5 444.5L2778.5 345.5L2772.5 309.5L2763.5 387.5z"/><path class="l" d="M2773 391.1L2763.5 387.2"/><path class="l" d="M2773.8 317.3L2771.7 316.7"/><path d="M2757.5 552.5L2766.5 444.5L2763.5 387.5L2751.5 495.5z"/><path class="l" d="M2759 534.1L2755.4 532.7"/><path class="l" d="M2765 462.8L2755.6 458.7"/><path d="M2748.5 642.5L2757.5 552.5L2751.5 495.5L2742.5 597.5z"/><path class="l" d="M2752.1 606.5L2743.3 603.2"/><path class="l" d="M2755.4 532.7L2748.4 530.5"/><path d="M2736.5 699.5L2748.5 642.5L2742.5 597.5L2733.5 672.5z"/><path class="l" d="M2740.9 678.4L2733.9 676.4"/><path class="l" d="M2743.3 603.2L2741.9 602.8"/><path d="M2727.5 732.5L2736.5 699.5L2733.5 672.5L2721.5 714.5z"/><path class="l" d="M2733.9 676.4L2732.5 676"/><path d="M2718.5 747.5L2727.5 732.5L2721.5 714.5L2712.5 738.5z"/><path d="M2706.5 756.5L2718.5 747.5L2712.5 738.5L2703.5 750.5z"/><path d="M2697.5 759.5L2706.5 756.5L2703.5 750.5L2691.5 753.5z"/><path d="M2688.5 762.5L2697.5 759.5L2691.5 753.5L2682.5 759.5z"/><path d="M2676.5 765.5L2688.5 762.5L2682.5 759.5L2673.5 762.5z"/><path d="M3165.5 636.5L3174.5 633.5L3168.5 627.5L3159.5 630.5z"/><path d="M3153.5 639.5L3165.5 636.5L3159.5 630.5L3147.5 633.5z"/><path d="M3144.5 642.5L3153.5 639.5L3147.5 633.5L3138.5 636.5z"/><path d="M3135.5 645.5L3144.5 642.5L3138.5 636.5L3129.5 639.5z"/><path d="M3123.5 648.5L3135.5 645.5L3129.5 639.5L3117.5 642.5z"/><path d="M3114.5 651.5L3123.5 648.5L3117.5 642.5L3108.5 645.5z"/><path d="M3105.5 654.5L3114.5 651.5L3108.5 645.5L3099.5 648.5z"/><path d="M3093.5 654.5L3105.5 654.5L3099.5 648.5L3087.5 651.5z"/><path d="M3084.5 657.5L3093.5 654.5L3087.5 651.5L3078.5 654.5z"/><path d="M3075.5 660.5L3084.5 657.5L3078.5 654.5L3069.5 657.5z"/><path d="M3063.5 663.5L3075.5 660.5L3069.5 657.5L3057.5 660.5z"/><path d="M3054.5 666.5L3063.5 663.5L3057.5 660.5L3048.5 663.5z"/><path d="M3045.5 669.5L3054.5 666.5L3048.5 663.5L3039.5 666.5z"/><path d="M3033.5 672.5L3045.5 669.5L3039.5 666.5L3027.5 666.5z"/><path d="M3024.5 675.5L3033.5 672.5L3027.5 666.5L3018.5 669.5z"/><path d="M3015.5 678.5L3024.5 675.5L3018.5 669.5L3009.5 672.5z"/><path d="M3003.5 681.5L3015.5 678.5L3009.5 672.5L2997.5 675.5z"/><path d="M2994.5 684.5L3003.5 681.5L2997.5 675.5L2988.5 678.5z"/><path d="M2985.5 687.5L2994.5 684.5L2988.5 678.5L2979.5 681.5z"/><path d="M2973.5 690.5L2985.5 687.5L2979.5 681.5L2967.5 684.5z"/><path d="M2964.5 693.5L2973.5 690.5L2967.5 684.5L2958.5 687.5z"/><path d="M2952.5 696.5L2964.5 693.5L2958.5 687.5L2949.5 690.5z"/><path d="M2943.5 699.5L2952.5 696.5L2949.5 690.5L2937.5 693.5z"/><path d="M2934.5 699.5L2943.5 699.5L2937.5 693.5L2928.5 696.5z"/><path d="M2922.5 702.5L2934.5 699.5L2928.5 696.5L2919.5 699.5z"/><path d="M2913.5 705.5L2922.5 702.5L2919.5 699.5L2907.5 702.5z"/><path d="M2904.5 708.5L2913.5 705.5L2907.5 702.5L2898.5 705.5z"/><path d="M2892.5 711.5L2904.5 708.5L2898.5 705.5L2889.5 705.5z"/><path d="M2883.5 711.5L2892.5 711.5L2889.5 705.5L2877.5 708.5z"/><path d="M2874.5 711.5L2883.5 711.5L2877.5 708.5L2868.5 708.5z"/><path d="M2862.5 702.5L2874.5 711.5L2868.5 708.5L2859.5 705.5z"/><path d="M2853.5 675.5L2862.5 702.5L2859.5 705.5L2847.5 687.5z"/><path d="M2844.5 621.5L2853.5 675.5L2847.5 687.5L2838.5 648.5z"/><path class="l" d="M2850.2 655.5L2839.3 651.8"/><path d="M2832.5 537.5L2844.5 621.5L2838.5 648.5L2829.5 579.5z"/><path class="l" d="M2839.7 587.9L2830.1 584.4"/><path d="M2823.5 435.5L2832.5 537.5L2829.5 579.5L2817.5 483.5z"/><path class="l" d="M2831 520.1L2821.6 516.5"/><path class="l" d="M2825 452.8L2821.5 451.5"/><path d="M2814.5 342.5L2823.5 435.5L2817.5 483.5L2808.5 381.5z"/><path class="l" d="M2821.5 451.5L2814.4 448.8"/><path class="l" d="M2818.6 385.3L2808.5 381.3"/><path d="M2802.5 294.5L2814.5 342.5L2808.5 381.5L2799.5 306.5z"/><path class="l" d="M2808.5 381.3L2808.5 381.2"/><path class="l" d="M2808.4 318L2800.3 313.4"/><path d="M2793.5 315.5L2802.5 294.5L2799.5 306.5L2787.5 294.5z"/><path d="M2784.5 396.5L2793.5 315.5L2787.5 294.5L2778.5 345.5z"/><path class="l" d="M2784.5 396.2L2784.5 396.2"/><path class="l" d="M2792.7 323L2783.1 319.4"/><path d="M2772.5 504.5L2784.5 396.5L2778.5 345.5L2766.5 444.5z"/><path class="l" d="M2776.6 467.7L2768.5 464.5"/><path class="l" d="M2784.5 396.2L2773 391.1"/><path d="M2763.5 603.5L2772.5 504.5L2766.5 444.5L2757.5 552.5z"/><path class="l" d="M2769.4 538.5L2759 534.1"/><path class="l" d="M2768.5 464.5L2765 462.8"/><path d="M2754.5 678.5L2763.5 603.5L2757.5 552.5L2748.5 642.5z"/><path class="l" d="M2762.9 608.8L2752.1 606.5"/><path d="M2742.5 723.5L2754.5 678.5L2748.5 642.5L2736.5 699.5z"/><path class="l" d="M2753.5 682.3L2740.9 678.4"/><path d="M2733.5 744.5L2742.5 723.5L2736.5 699.5L2727.5 732.5z"/><path d="M2724.5 756.5L2733.5 744.5L2727.5 732.5L2718.5 747.5z"/><path d="M2712.5 762.5L2724.5 756.5L2718.5 747.5L2706.5 756.5z"/><path d="M2703.5 765.5L2712.5 762.5L2706.5 756.5L2697.5 759.5z"/><path d="M2694.5 768.5L2703.5 765.5L2697.5 759.5L2688.5 762.5z"/><path d="M2682.5 771.5L2694.5 768.5L2688.5 762.5L2676.5 765.5z"/><path d="M3171.5 642.5L3180.5 639.5L3174.5 633.5L3165.5 636.5z"/><path d="M3159.5 642.5L3171.5 642.5L3165.5 636.5L3153.5 639.5z"/><path d="M3150.5 645.5L3159.5 642.5L3153.5 639.5L3144.5 642.5z"/><path d="M3138.5 648.5L3150.5 645.5L3144.5 642.5L3135.5 645.5z"/><path d="M3129.5 651.5L3138.5 648.5L3135.5 645.5L3123.5 648.5z"/><path d="M3120.5 654.5L3129.5 651.5L3123.5 648.5L3114.5 651.5z"/><path d="M3108.5 657.5L3120.5 654.5L3114.5 651.5L3105.5 654.5z"/><path d="M3099.5 660.5L3108.5 657.5L3105.5 654.5L3093.5 654.5z"/><path d="M3090.5 663.5L3099.5 660.5L3093.5 654.5L3084.5 657.5z"/><path d="M3078.5 666.5L3090.5 663.5L3084.5 657.5L3075.5 660.5z"/><path d="M3069.5 669.5L3078.5 666.5L3075.5 660.5L3063.5 663.5z"/><path d="M3060.5 672.5L3069.5 669.5L3063.5 663.5L3054.5 666.5z"/><path d="M3048.5 675.5L3060.5 672.5L3054.5 666.5L3045.5 669.5z"/><path d="M3039.5 678.5L3048.5 675.5L3045.5 669.5L3033.5 672.5z"/><path d="M3030.5 681.5L3039.5 678.5L3033.5 672.5L3024.5 675.5z"/><path d="M3018.5 684.5L3030.5 681.5L3024.5 675.5L3015.5 678.5z"/><path d="M3009.5 687.5L3018.5 684.5L3015.5 678.5L3003.5 681.5z"/><path d="M3000.5 687.5L3009.5 687.5L3003.5 681.5L2994.5 684.5z"/><path d="M2988.5 690.5L3000.5 687.5L2994.5 684.5L2985.5 687.5z"/><path d="M2979.5 693.5L2988.5 690.5L2985.5 687.5L2973.5 690.5z"/><path d="M2970.5 696.5L2979.5 693.5L2973.5 690.5L2964.5 693.5z"/><path d="M2958.5 699.5L2970.5 696.5L2964.5 693.5L2952.5 696.5z"/><path d="M2949.5 702.5L2958.5 699.5L2952.5 696.5L2943.5 699.5z"/><path d="M2940.5 705.5L2949.5 702.5L2943.5 699.5L2934.5 699.5z"/><path d="M2928.5 708.5L2940.5 705.5L2934.5 699.5L2922.5 702.5z"/><path d="M2919.5 711.5L2928.5 708.5L2922.5 702.5L2913.5 705.5z"/><path d="M2910.5 714.5L2919.5 711.5L2913.5 705.5L2904.5 708.5z"/><path d="M2898.5 717.5L2910.5 714.5L2904.5 708.5L2892.5 711.5z"/><path d="M2889.5 717.5L2898.5 717.5L2892.5 711.5L2883.5 711.5z"/><path d="M2880.5 711.5L2889.5 717.5L2883.5 711.5L2874.5 711.5z"/><path d="M2868.5 693.5L2880.5 711.5L2874.5 711.5L2862.5 702.5z"/><path d="M2859.5 654.5L2868.5 693.5L2862.5 702.5L2853.5 675.5z"/><path class="l" d="M2860.3 657.8L2858.6 657.5"/><path d="M2850.5 585.5L2859.5 654.5L2853.5 675.5L2844.5 621.5z"/><path class="l" d="M2858.6 657.5L2850.2 655.5"/><path class="l" d="M2851.1 590.4L2849.7 590.1"/><path d="M2838.5 492.5L2850.5 585.5L2844.5 621.5L2832.5 537.5z"/><path class="l" d="M2849.7 590.1L2839.7 587.9"/><path class="l" d="M2842.6 524.5L2834.6 521.9"/><path d="M2829.5 387.5L2838.5 492.5L2832.5 537.5L2823.5 435.5z"/><path class="l" d="M2834.6 521.9L2831 520.1"/><path class="l" d="M2835.4 456.7L2825 452.8"/><path d="M2820.5 315.5L2829.5 387.5L2823.5 435.5L2814.5 342.5z"/><path class="l" d="M2829.5 387.2L2818.6 385.3"/><path class="l" d="M2821.3 322.1L2819.2 321.4"/><path d="M2808.5 300.5L2820.5 315.5L2814.5 342.5L2802.5 294.5z"/><path class="l" d="M2819.2 321.4L2808.4 318"/><path d="M2799.5 354.5L2808.5 300.5L2802.5 294.5L2793.5 315.5z"/><path class="l" d="M2804.1 326.9L2794.8 324"/><path d="M2790.5 450.5L2799.5 354.5L2793.5 315.5L2784.5 396.5z"/><path class="l" d="M2795.4 398.7L2784.5 396.2"/><path class="l" d="M2794.8 324L2792.7 323"/><path d="M2778.5 558.5L2790.5 450.5L2784.5 396.5L2772.5 504.5z"/><path class="l" d="M2780.5 540.1L2776.4 539.8"/><path class="l" d="M2788.5 468.8L2776.6 467.7"/><path d="M2769.5 648.5L2778.5 558.5L2772.5 504.5L2763.5 603.5z"/><path class="l" d="M2773.1 612.5L2764.3 609.2"/><path class="l" d="M2776.4 539.8L2769.4 538.5"/><path d="M2760.5 708.5L2769.5 648.5L2763.5 603.5L2754.5 678.5z"/><path class="l" d="M2763.8 686.3L2755.4 682.8"/><path class="l" d="M2764.3 609.2L2762.9 608.8"/><path d="M2748.5 738.5L2760.5 708.5L2754.5 678.5L2742.5 723.5z"/><path class="l" d="M2755.4 682.8L2753.5 682.3"/><path d="M2739.5 756.5L2748.5 738.5L2742.5 723.5L2733.5 744.5z"/><path d="M2730.5 762.5L2739.5 756.5L2733.5 744.5L2724.5 756.5z"/><path d="M2718.5 768.5L2730.5 762.5L2724.5 756.5L2712.5 762.5z"/><path d="M2709.5 771.5L2718.5 768.5L2712.5 762.5L2703.5 765.5z"/><path d="M2700.5 774.5L2709.5 771.5L2703.5 765.5L2694.5 768.5z"/><path d="M2688.5 777.5L2700.5 774.5L2694.5 768.5L2682.5 771.5z"/><path d="M3174.5 645.5L3186.5 642.5L3180.5 639.5L3171.5 642.5z"/><path d="M3165.5 648.5L3174.5 645.5L3171.5 642.5L3159.5 642.5z"/><path d="M3156.5 651.5L3165.5 648.5L3159.5 642.5L3150.5 645.5z"/><path d="M3144.5 654.5L3156.5 651.5L3150.5 645.5L3138.5 648.5z"/><path d="M3135.5 657.5L3144.5 654.5L3138.5 648.5L3129.5 651.5z"/><path d="M3126.5 660.5L3135.5 657.5L3129.5 651.5L3120.5 654.5z"/><path d="M3114.5 663.5L3126.5 660.5L3120.5 654.5L3108.5 657.5z"/><path d="M3105.5 666.5L3114.5 663.5L3108.5 657.5L3099.5 660.5z"/><path d="M3096.5 669.5L3105.5 666.5L3099.5 660.5L3090.5 663.5z"/><path d="M3084.5 672.5L3096.5 669.5L3090.5 663.5L3078.5 666.5z"/><path d="M3075.5 675.5L3084.5 672.5L3078.5 666.5L3069.5 669.5z"/><path d="M3066.5 675.5L3075.5 675.5L3069.5 669.5L3060.5 672.5z"/><path d="M3054.5 678.5L3066.5 675.5L3060.5 672.5L3048.5 675.5z"/><path d="M3045.5 681.5L3054.5 678.5L3048.5 675.5L3039.5 678.5z"/><path d="M3036.5 684.5L3045.5 681.5L3039.5 678.5L3030.5 681.5z"/><path d="M3024.5 687.5L3036.5 684.5L3030.5 681.5L3018.5 684.5z"/><path d="M3015.5 690.5L3024.5 687.5L3018.5 684.5L3009.5 687.5z"/><path d="M3006.5 693.5L3015.5 690.5L3009.5 687.5L3000.5 687.5z"/><path d="M2994.5 696.5L3006.5 693.5L3000.5 687.5L2988.5 690.5z"/><path d="M2985.5 699.5L2994.5 696.5L2988.5 690.5L2979.5 693.5z"/><path d="M2976.5 702.5L2985.5 699.5L2979.5 693.5L2970.5 696.5z"/><path d="M2964.5 705.5L2976.5 702.5L2970.5 696.5L2958.5 699.5z"/><path d="M2955.5 708.5L2964.5 705.5L2958.5 699.5L2949.5 702.5z"/><path d="M2946.5 711.5L2955.5 708.5L2949.5 702.5L2940.5 705.5z"/><path d="M2934.5 714.5L2946.5 711.5L2940.5 705.5L2928.5 708.5z"/><path d="M2925.5 717.5L2934.5 714.5L2928.5 708.5L2919.5 711.5z"/><path d="M2916.5 717.5L2925.5 717.5L2919.5 711.5L2910.5 714.5z"/><path d="M2904.5 720.5L2916.5 717.5L2910.5 714.5L2898.5 717.5z"/><path d="M2895.5 717.5L2904.5 720.5L2898.5 717.5L2889.5 717.5z"/><path d="M2886.5 708.5L2895.5 717.5L2889.5 717.5L2880.5 711.5z"/><path d="M2874.5 681.5L2886.5 708.5L2880.5 711.5L2868.5 693.5z"/><path d="M2865.5 627.5L2874.5 681.5L2868.5 693.5L2859.5 654.5z"/><path class="l" d="M2871.2 661.5L2860.3 657.8"/><path d="M2856.5 546.5L2865.5 627.5L2859.5 654.5L2850.5 585.5z"/><path class="l" d="M2861.9 595.1L2851.1 590.4"/><path d="M2844.5 441.5L2856.5 546.5L2850.5 585.5L2838.5 492.5z"/><path class="l" d="M2854.5 528.6L2842.6 524.5"/><path class="l" d="M2846.5 459.3L2842.5 458.5"/><path d="M2835.5 348.5L2844.5 441.5L2838.5 492.5L2829.5 387.5z"/><path class="l" d="M2842.5 458.5L2835.4 456.7"/><path class="l" d="M2839.6 391.3L2829.5 387.3"/><path d="M2826.5 303.5L2835.5 348.5L2829.5 387.5L2820.5 315.5z"/><path class="l" d="M2829.5 387.3L2829.5 387.2"/><path class="l" d="M2830.9 325.5L2821.3 322.1"/><path d="M2814.5 321.5L2826.5 303.5L2820.5 315.5L2808.5 300.5z"/><path d="M2805.5 402.5L2814.5 321.5L2808.5 300.5L2799.5 354.5z"/><path class="l" d="M2805.5 402.2L2805.5 402.2"/><path class="l" d="M2813.7 329L2804.1 326.9"/><path d="M2796.5 510.5L2805.5 402.5L2799.5 354.5L2790.5 450.5z"/><path class="l" d="M2799.6 473.7L2792.5 470.5"/><path class="l" d="M2805.5 402.2L2795.4 398.7"/><path d="M2784.5 612.5L2796.5 510.5L2790.5 450.5L2778.5 558.5z"/><path class="l" d="M2792.4 545.5L2780.5 540.1"/><path class="l" d="M2792.5 470.5L2788.5 468.8"/><path d="M2775.5 684.5L2784.5 612.5L2778.5 558.5L2769.5 648.5z"/><path class="l" d="M2783.9 617.6L2773.1 612.5"/><path d="M2766.5 729.5L2775.5 684.5L2769.5 648.5L2760.5 708.5z"/><path class="l" d="M2774.7 688.3L2763.8 686.3"/><path d="M2754.5 753.5L2766.5 729.5L2760.5 708.5L2748.5 738.5z"/><path d="M2745.5 762.5L2754.5 753.5L2748.5 738.5L2739.5 756.5z"/><path d="M2736.5 768.5L2745.5 762.5L2739.5 756.5L2730.5 762.5z"/><path d="M2724.5 771.5L2736.5 768.5L2730.5 762.5L2718.5 768.5z"/><path d="M2715.5 774.5L2724.5 771.5L2718.5 768.5L2709.5 771.5z"/><path d="M2706.5 777.5L2715.5 774.5L2709.5 771.5L2700.5 774.5z"/><path d="M2694.5 780.5L2706.5 777.5L2700.5 774.5L2688.5 777.5z"/><path d="M3180.5 651.5L3192.5 648.5L3186.5 642.5L3174.5 645.5z"/><path d="M3171.5 654.5L3180.5 651.5L3174.5 645.5L3165.5 648.5z"/><path d="M3162.5 657.5L3171.5 654.5L3165.5 648.5L3156.5 651.5z"/><path d="M3150.5 660.5L3162.5 657.5L3156.5 651.5L3144.5 654.5z"/><path d="M3141.5 663.5L3150.5 660.5L3144.5 654.5L3135.5 657.5z"/><path d="M3132.5 666.5L3141.5 663.5L3135.5 657.5L3126.5 660.5z"/><path d="M3120.5 666.5L3132.5 666.5L3126.5 660.5L3114.5 663.5z"/><path d="M3111.5 669.5L3120.5 666.5L3114.5 663.5L3105.5 666.5z"/><path d="M3102.5 672.5L3111.5 669.5L3105.5 666.5L3096.5 669.5z"/><path d="M3090.5 675.5L3102.5 672.5L3096.5 669.5L3084.5 672.5z"/><path d="M3081.5 678.5L3090.5 675.5L3084.5 672.5L3075.5 675.5z"/><path d="M3072.5 681.5L3081.5 678.5L3075.5 675.5L3066.5 675.5z"/><path d="M3060.5 684.5L3072.5 681.5L3066.5 675.5L3054.5 678.5z"/><path d="M3051.5 687.5L3060.5 684.5L3054.5 678.5L3045.5 681.5z"/><path d="M3042.5 690.5L3051.5 687.5L3045.5 681.5L3036.5 684.5z"/><path d="M3030.5 693.5L3042.5 690.5L3036.5 684.5L3024.5 687.5z"/><path d="M3021.5 696.5L3030.5 693.5L3024.5 687.5L3015.5 690.5z"/><path d="M3012.5 699.5L3021.5 696.5L3015.5 690.5L3006.5 693.5z"/><path d="M3000.5 702.5L3012.5 699.5L3006.5 693.5L2994.5 696.5z"/><path d="M2991.5 705.5L3000.5 702.5L2994.5 696.5L2985.5 699.5z"/><path d="M2982.5 708.5L2991.5 705.5L2985.5 699.5L2976.5 702.5z"/><path d="M2970.5 708.5L2982.5 708.5L2976.5 702.5L2964.5 705.5z"/><path d="M2961.5 711.5L2970.5 708.5L2964.5 705.5L2955.5 708.5z"/><path d="M2952.5 714.5L2961.5 711.5L2955.5 708.5L2946.5 711.5z"/><path d="M2940.5 717.5L2952.5 714.5L2946.5 711.5L2934.5 714.5z"/><path d="M2931.5 720.5L2940.5 717.5L2934.5 714.5L2925.5 717.5z"/><path d="M2922.5 723.5L2931.5 720.5L2925.5 717.5L2916.5 717.5z"/><path d="M2910.5 723.5L2922.5 723.5L2916.5 717.5L2904.5 720.5z"/><path d="M2901.5 717.5L2910.5 723.5L2904.5 720.5L2895.5 717.5z"/><path d="M2892.5 699.5L2901.5 717.5L2895.5 717.5L2886.5 708.5z"/><path d="M2880.5 663.5L2892.5 699.5L2886.5 708.5L2874.5 681.5z"/><path class="l" d="M2881.5 666.5L2879.6 666.1"/><path d="M2871.5 594.5L2880.5 663.5L2874.5 681.5L2865.5 627.5z"/><path class="l" d="M2879.6 666.1L2871.2 661.5"/><path class="l" d="M2872.1 599.4L2870.7 598.7"/><path d="M2862.5 498.5L2871.5 594.5L2865.5 627.5L2856.5 546.5z"/><path class="l" d="M2870.7 598.7L2861.9 595.1"/><path class="l" d="M2865.6 531.5L2858.6 529.8"/><path d="M2850.5 396.5L2862.5 498.5L2856.5 546.5L2844.5 441.5z"/><path class="l" d="M2858.6 529.8L2854.5 528.6"/><path class="l" d="M2858.4 463.8L2846.5 459.3"/><path d="M2841.5 321.5L2850.5 396.5L2844.5 441.5L2835.5 348.5z"/><path class="l" d="M2850.5 396.2L2839.6 391.3"/><path class="l" d="M2842.3 328.4L2840.2 327.4"/><path d="M2832.5 306.5L2841.5 321.5L2835.5 348.5L2826.5 303.5z"/><path class="l" d="M2840.2 327.4L2830.9 325.5"/><path d="M2820.5 360.5L2832.5 306.5L2826.5 303.5L2814.5 321.5z"/><path class="l" d="M2826.6 332.9L2815.8 330"/><path d="M2811.5 459.5L2820.5 360.5L2814.5 321.5L2805.5 402.5z"/><path class="l" d="M2816.4 406.1L2805.5 402.2"/><path class="l" d="M2815.8 330L2813.7 329"/><path d="M2802.5 567.5L2811.5 459.5L2805.5 402.5L2796.5 510.5z"/><path class="l" d="M2804 549.1L2800.4 547.7"/><path class="l" d="M2810 477.8L2799.6 473.7"/><path d="M2790.5 654.5L2802.5 567.5L2796.5 510.5L2784.5 612.5z"/><path class="l" d="M2795.3 619.7L2785.3 617.8"/><path class="l" d="M2800.4 547.7L2792.4 545.5"/><path d="M2781.5 714.5L2790.5 654.5L2784.5 612.5L2775.5 684.5z"/><path class="l" d="M2784.8 692.3L2776.4 688.8"/><path class="l" d="M2785.3 617.8L2783.9 617.6"/><path d="M2769.5 747.5L2781.5 714.5L2775.5 684.5L2766.5 729.5z"/><path class="l" d="M2776.4 688.8L2774.7 688.3"/><path d="M2760.5 762.5L2769.5 747.5L2766.5 729.5L2754.5 753.5z"/><path d="M2751.5 768.5L2760.5 762.5L2754.5 753.5L2745.5 762.5z"/><path d="M2739.5 774.5L2751.5 768.5L2745.5 762.5L2736.5 768.5z"/><path d="M2730.5 777.5L2739.5 774.5L2736.5 768.5L2724.5 771.5z"/><path d="M2721.5 780.5L2730.5 777.5L2724.5 771.5L2715.5 774.5z"/><path d="M2709.5 783.5L2721.5 780.5L2715.5 774.5L2706.5 777.5z"/><path d="M2700.5 786.5L2709.5 783.5L2706.5 777.5L2694.5 780.5z"/><path d="M3186.5 654.5L3198.5 654.5L3192.5 648.5L3180.5 651.5z"/><path d="M3177.5 657.5L3186.5 654.5L3180.5 651.5L3171.5 654.5z"/><path d="M3168.5 660.5L3177.5 657.5L3171.5 654.5L3162.5 657.5z"/><path d="M3156.5 663.5L3168.5 660.5L3162.5 657.5L3150.5 660.5z"/><path d="M3147.5 666.5L3156.5 663.5L3150.5 660.5L3141.5 663.5z"/><path d="M3138.5 669.5L3147.5 666.5L3141.5 663.5L3132.5 666.5z"/><path d="M3126.5 672.5L3138.5 669.5L3132.5 666.5L3120.5 666.5z"/><path d="M3117.5 675.5L3126.5 672.5L3120.5 666.5L3111.5 669.5z"/><path d="M3108.5 678.5L3117.5 675.5L3111.5 669.5L3102.5 672.5z"/><path d="M3096.5 681.5L3108.5 678.5L3102.5 672.5L3090.5 675.5z"/><path d="M3087.5 684.5L3096.5 681.5L3090.5 675.5L3081.5 678.5z"/><path d="M3078.5 687.5L3087.5 684.5L3081.5 678.5L3072.5 681.5z"/><path d="M3066.5 690.5L3078.5 687.5L3072.5 681.5L3060.5 684.5z"/><path d="M3057.5 693.5L3066.5 690.5L3060.5 684.5L3051.5 687.5z"/><path d="M3048.5 696.5L3057.5 693.5L3051.5 687.5L3042.5 690.5z"/><path d="M3036.5 699.5L3048.5 696.5L3042.5 690.5L3030.5 693.5z"/><path d="M3027.5 699.5L3036.5 699.5L3030.5 693.5L3021.5 696.5z"/><path d="M3018.5 702.5L3027.5 699.5L3021.5 696.5L3012.5 699.5z"/><path d="M3006.5 705.5L3018.5 702.5L3012.5 699.5L3000.5 702.5z"/><path d="M2997.5 708.5L3006.5 705.5L3000.5 702.5L2991.5 705.5z"/><path d="M2988.5 711.5L2997.5 708.5L2991.5 705.5L2982.5 708.5z"/><path d="M2976.5 714.5L2988.5 711.5L2982.5 708.5L2970.5 708.5z"/><path d="M2967.5 717.5L2976.5 714.5L2970.5 708.5L2961.5 711.5z"/><path d="M2955.5 720.5L2967.5 717.5L2961.5 711.5L2952.5 714.5z"/><path d="M2946.5 723.5L2955.5 720.5L2952.5 714.5L2940.5 717.5z"/><path d="M2937.5 726.5L2946.5 723.5L2940.5 717.5L2931.5 720.5z"/><path d="M2925.5 726.5L2937.5 726.5L2931.5 720.5L2922.5 723.5z"/><path d="M2916.5 726.5L2925.5 726.5L2922.5 723.5L2910.5 723.5z"/><path d="M2907.5 714.5L2916.5 726.5L2910.5 723.5L2901.5 717.5z"/><path d="M2895.5 687.5L2907.5 714.5L2901.5 717.5L2892.5 699.5z"/><path d="M2886.5 636.5L2895.5 687.5L2892.5 699.5L2880.5 663.5z"/><path class="l" d="M2892.2 668.6L2881.5 666.5"/><path d="M2877.5 552.5L2886.5 636.5L2880.5 663.5L2871.5 594.5z"/><path class="l" d="M2882.9 602.9L2872.1 599.4"/><path d="M2865.5 450.5L2877.5 552.5L2871.5 594.5L2862.5 498.5z"/><path class="l" d="M2875.5 535.1L2865.6 531.5"/><path class="l" d="M2867.5 467.8L2864.5 466.5"/><path d="M2856.5 357.5L2865.5 450.5L2862.5 498.5L2850.5 396.5z"/><path class="l" d="M2864.5 466.5L2858.4 463.8"/><path class="l" d="M2860.6 400.3L2850.5 396.3"/><path d="M2847.5 309.5L2856.5 357.5L2850.5 396.5L2841.5 321.5z"/><path class="l" d="M2850.5 396.3L2850.5 396.2"/><path class="l" d="M2851.9 333L2842.3 328.4"/><path d="M2835.5 330.5L2847.5 309.5L2841.5 321.5L2832.5 306.5z"/><path d="M2826.5 408.5L2835.5 330.5L2832.5 306.5L2820.5 360.5z"/><path class="l" d="M2826.5 408.2L2826.5 408.2"/><path class="l" d="M2834.7 337.7L2826.6 332.9"/><path d="M2817.5 516.5L2826.5 408.5L2820.5 360.5L2811.5 459.5z"/><path class="l" d="M2820.6 479.7L2813.5 478.5"/><path class="l" d="M2826.5 408.2L2816.4 406.1"/><path d="M2805.5 618.5L2817.5 516.5L2811.5 459.5L2802.5 567.5z"/><path class="l" d="M2813.4 551.5L2804 549.1"/><path class="l" d="M2813.5 478.5L2810 477.8"/><path d="M2796.5 693.5L2805.5 618.5L2802.5 567.5L2790.5 654.5z"/><path class="l" d="M2804.9 623.8L2795.3 619.7"/><path d="M2787.5 735.5L2796.5 693.5L2790.5 654.5L2781.5 714.5z"/><path class="l" d="M2795.7 697L2784.8 692.3"/><path d="M2775.5 759.5L2787.5 735.5L2781.5 714.5L2769.5 747.5z"/><path d="M2766.5 771.5L2775.5 759.5L2769.5 747.5L2760.5 762.5z"/><path d="M2757.5 774.5L2766.5 771.5L2760.5 762.5L2751.5 768.5z"/><path d="M2745.5 780.5L2757.5 774.5L2751.5 768.5L2739.5 774.5z"/><path d="M2736.5 783.5L2745.5 780.5L2739.5 774.5L2730.5 777.5z"/><path d="M2727.5 786.5L2736.5 783.5L2730.5 777.5L2721.5 780.5z"/><path d="M2715.5 786.5L2727.5 786.5L2721.5 780.5L2709.5 783.5z"/><path d="M2706.5 789.5L2715.5 786.5L2709.5 783.5L2700.5 786.5z"/><path d="M3192.5 660.5L3204.5 657.5L3198.5 654.5L3186.5 654.5z"/><path d="M3183.5 663.5L3192.5 660.5L3186.5 654.5L3177.5 657.5z"/><path d="M3174.5 666.5L3183.5 663.5L3177.5 657.5L3168.5 660.5z"/><path d="M3162.5 669.5L3174.5 666.5L3168.5 660.5L3156.5 663.5z"/><path d="M3153.5 672.5L3162.5 669.5L3156.5 663.5L3147.5 666.5z"/><path d="M3141.5 675.5L3153.5 672.5L3147.5 666.5L3138.5 669.5z"/><path d="M3132.5 678.5L3141.5 675.5L3138.5 669.5L3126.5 672.5z"/><path d="M3123.5 681.5L3132.5 678.5L3126.5 672.5L3117.5 675.5z"/><path d="M3111.5 684.5L3123.5 681.5L3117.5 675.5L3108.5 678.5z"/><path d="M3102.5 687.5L3111.5 684.5L3108.5 678.5L3096.5 681.5z"/><path d="M3093.5 687.5L3102.5 687.5L3096.5 681.5L3087.5 684.5z"/><path d="M3081.5 690.5L3093.5 687.5L3087.5 684.5L3078.5 687.5z"/><path d="M3072.5 693.5L3081.5 690.5L3078.5 687.5L3066.5 690.5z"/><path d="M3063.5 696.5L3072.5 693.5L3066.5 690.5L3057.5 693.5z"/><path d="M3051.5 699.5L3063.5 696.5L3057.5 693.5L3048.5 696.5z"/><path d="M3042.5 702.5L3051.5 699.5L3048.5 696.5L3036.5 699.5z"/><path d="M3033.5 705.5L3042.5 702.5L3036.5 699.5L3027.5 699.5z"/><path d="M3021.5 708.5L3033.5 705.5L3027.5 699.5L3018.5 702.5z"/><path d="M3012.5 711.5L3021.5 708.5L3018.5 702.5L3006.5 705.5z"/><path d="M3003.5 714.5L3012.5 711.5L3006.5 705.5L2997.5 708.5z"/><path d="M2991.5 717.5L3003.5 714.5L2997.5 708.5L2988.5 711.5z"/><path d="M2982.5 720.5L2991.5 717.5L2988.5 711.5L2976.5 714.5z"/><path d="M2973.5 723.5L2982.5 720.5L2976.5 714.5L2967.5 717.5z"/><path d="M2961.5 726.5L2973.5 723.5L2967.5 717.5L2955.5 720.5z"/><path d="M2952.5 729.5L2961.5 726.5L2955.5 720.5L2946.5 723.5z"/><path d="M2943.5 729.5L2952.5 729.5L2946.5 723.5L2937.5 726.5z"/><path d="M2931.5 729.5L2943.5 729.5L2937.5 726.5L2925.5 726.5z"/><path d="M2922.5 726.5L2931.5 729.5L2925.5 726.5L2916.5 726.5z"/><path d="M2913.5 708.5L2922.5 726.5L2916.5 726.5L2907.5 714.5z"/><path d="M2901.5 669.5L2913.5 708.5L2907.5 714.5L2895.5 687.5z"/><path class="l" d="M2902.5 672.8L2900.6 672.1"/><path d="M2892.5 600.5L2901.5 669.5L2895.5 687.5L2886.5 636.5z"/><path class="l" d="M2900.6 672.1L2892.2 668.6"/><path class="l" d="M2893.1 605.4L2891.7 605.1"/><path d="M2883.5 504.5L2892.5 600.5L2886.5 636.5L2877.5 552.5z"/><path class="l" d="M2891.7 605.1L2882.9 602.9"/><path class="l" d="M2886.6 537.5L2879.6 535.8"/><path d="M2871.5 402.5L2883.5 504.5L2877.5 552.5L2865.5 450.5z"/><path class="l" d="M2879.6 535.8L2875.5 535.1"/><path class="l" d="M2879.4 469.8L2867.5 467.8"/><path d="M2862.5 327.5L2871.5 402.5L2865.5 450.5L2856.5 357.5z"/><path class="l" d="M2871.5 402.2L2860.6 400.3"/><path class="l" d="M2863.3 334.4L2861.2 334"/><path d="M2853.5 315.5L2862.5 327.5L2856.5 357.5L2847.5 309.5z"/><path class="l" d="M2861.2 334L2851.9 333"/><path d="M2841.5 366.5L2853.5 315.5L2847.5 309.5L2835.5 330.5z"/><path class="l" d="M2847.6 340.4L2836.8 338.3"/><path d="M2832.5 465.5L2841.5 366.5L2835.5 330.5L2826.5 408.5z"/><path class="l" d="M2837.4 412.1L2826.5 408.2"/><path class="l" d="M2836.8 338.3L2834.7 337.7"/><path d="M2823.5 573.5L2832.5 465.5L2826.5 408.5L2817.5 516.5z"/><path class="l" d="M2825 555.1L2821.4 553.7"/><path class="l" d="M2831 483.8L2820.6 479.7"/><path d="M2811.5 663.5L2823.5 573.5L2817.5 516.5L2805.5 618.5z"/><path class="l" d="M2816.3 627.5L2806.3 624.2"/><path class="l" d="M2821.4 553.7L2813.4 551.5"/><path d="M2802.5 720.5L2811.5 663.5L2805.5 618.5L2796.5 693.5z"/><path class="l" d="M2805.8 699.4L2797.4 697.4"/><path class="l" d="M2806.3 624.2L2804.9 623.8"/><path d="M2793.5 753.5L2802.5 720.5L2796.5 693.5L2787.5 735.5z"/><path class="l" d="M2797.4 697.4L2795.7 697"/><path d="M2781.5 768.5L2793.5 753.5L2787.5 735.5L2775.5 759.5z"/><path d="M2772.5 777.5L2781.5 768.5L2775.5 759.5L2766.5 771.5z"/><path d="M2763.5 780.5L2772.5 777.5L2766.5 771.5L2757.5 774.5z"/><path d="M2751.5 783.5L2763.5 780.5L2757.5 774.5L2745.5 780.5z"/><path d="M2742.5 786.5L2751.5 783.5L2745.5 780.5L2736.5 783.5z"/><path d="M2733.5 789.5L2742.5 786.5L2736.5 783.5L2727.5 786.5z"/><path d="M2721.5 792.5L2733.5 789.5L2727.5 786.5L2715.5 786.5z"/><path d="M2712.5 795.5L2721.5 792.5L2715.5 786.5L2706.5 789.5z"/><path d="M3198.5 666.5L3207.5 663.5L3204.5 657.5L3192.5 660.5z"/><path d="M3189.5 669.5L3198.5 666.5L3192.5 660.5L3183.5 663.5z"/><path d="M3177.5 672.5L3189.5 669.5L3183.5 663.5L3174.5 666.5z"/><path d="M3168.5 675.5L3177.5 672.5L3174.5 666.5L3162.5 669.5z"/><path d="M3159.5 675.5L3168.5 675.5L3162.5 669.5L3153.5 672.5z"/><path d="M3147.5 678.5L3159.5 675.5L3153.5 672.5L3141.5 675.5z"/><path d="M3138.5 681.5L3147.5 678.5L3141.5 675.5L3132.5 678.5z"/><path d="M3129.5 684.5L3138.5 681.5L3132.5 678.5L3123.5 681.5z"/><path d="M3117.5 687.5L3129.5 684.5L3123.5 681.5L3111.5 684.5z"/><path d="M3108.5 690.5L3117.5 687.5L3111.5 684.5L3102.5 687.5z"/><path d="M3099.5 693.5L3108.5 690.5L3102.5 687.5L3093.5 687.5z"/><path d="M3087.5 696.5L3099.5 693.5L3093.5 687.5L3081.5 690.5z"/><path d="M3078.5 699.5L3087.5 696.5L3081.5 690.5L3072.5 693.5z"/><path d="M3069.5 702.5L3078.5 699.5L3072.5 693.5L3063.5 696.5z"/><path d="M3057.5 705.5L3069.5 702.5L3063.5 696.5L3051.5 699.5z"/><path d="M3048.5 708.5L3057.5 705.5L3051.5 699.5L3042.5 702.5z"/><path d="M3039.5 711.5L3048.5 708.5L3042.5 702.5L3033.5 705.5z"/><path d="M3027.5 714.5L3039.5 711.5L3033.5 705.5L3021.5 708.5z"/><path d="M3018.5 717.5L3027.5 714.5L3021.5 708.5L3012.5 711.5z"/><path d="M3009.5 720.5L3018.5 717.5L3012.5 711.5L3003.5 714.5z"/><path d="M2997.5 720.5L3009.5 720.5L3003.5 714.5L2991.5 717.5z"/><path d="M2988.5 723.5L2997.5 720.5L2991.5 717.5L2982.5 720.5z"/><path d="M2979.5 726.5L2988.5 723.5L2982.5 720.5L2973.5 723.5z"/><path d="M2967.5 729.5L2979.5 726.5L2973.5 723.5L2961.5 726.5z"/><path d="M2958.5 732.5L2967.5 729.5L2961.5 726.5L2952.5 729.5z"/><path d="M2949.5 735.5L2958.5 732.5L2952.5 729.5L2943.5 729.5z"/><path d="M2937.5 732.5L2949.5 735.5L2943.5 729.5L2931.5 729.5z"/><path d="M2928.5 723.5L2937.5 732.5L2931.5 729.5L2922.5 726.5z"/><path d="M2919.5 696.5L2928.5 723.5L2922.5 726.5L2913.5 708.5z"/><path d="M2907.5 642.5L2919.5 696.5L2913.5 708.5L2901.5 669.5z"/><path class="l" d="M2915.1 676.5L2902.5 672.8"/><path d="M2898.5 558.5L2907.5 642.5L2901.5 669.5L2892.5 600.5z"/><path class="l" d="M2903.9 608.9L2893.1 605.4"/><path d="M2889.5 456.5L2898.5 558.5L2892.5 600.5L2883.5 504.5z"/><path class="l" d="M2897 541.1L2886.6 537.5"/><path class="l" d="M2891 473.8L2887.5 472.5"/><path d="M2877.5 363.5L2889.5 456.5L2883.5 504.5L2871.5 402.5z"/><path class="l" d="M2887.5 472.5L2879.4 469.8"/><path class="l" d="M2883 406.3L2871.5 402.3"/><path d="M2868.5 315.5L2877.5 363.5L2871.5 402.5L2862.5 327.5z"/><path class="l" d="M2871.5 402.3L2871.5 402.2"/><path class="l" d="M2872.9 339L2863.3 334.4"/><path d="M2859.5 336.5L2868.5 315.5L2862.5 327.5L2853.5 315.5z"/><path d="M2847.5 417.5L2859.5 336.5L2853.5 315.5L2841.5 366.5z"/><path class="l" d="M2847.5 417.2L2847.5 417.2"/><path class="l" d="M2858.4 344L2847.6 340.4"/><path d="M2838.5 525.5L2847.5 417.5L2841.5 366.5L2832.5 465.5z"/><path class="l" d="M2841.6 488.7L2834.5 485.5"/><path class="l" d="M2847.5 417.2L2837.4 412.1"/><path d="M2829.5 624.5L2838.5 525.5L2832.5 465.5L2823.5 573.5z"/><path class="l" d="M2835.4 559.5L2825 555.1"/><path class="l" d="M2834.5 485.5L2831 483.8"/><path d="M2817.5 699.5L2829.5 624.5L2823.5 573.5L2811.5 663.5z"/><path class="l" d="M2828.7 629.8L2816.3 627.5"/><path d="M2808.5 744.5L2817.5 699.5L2811.5 663.5L2802.5 720.5z"/><path class="l" d="M2816.7 703.3L2805.8 699.4"/><path d="M2799.5 765.5L2808.5 744.5L2802.5 720.5L2793.5 753.5z"/><path d="M2787.5 777.5L2799.5 765.5L2793.5 753.5L2781.5 768.5z"/><path d="M2778.5 783.5L2787.5 777.5L2781.5 768.5L2772.5 777.5z"/><path d="M2769.5 786.5L2778.5 783.5L2772.5 777.5L2763.5 780.5z"/><path d="M2757.5 789.5L2769.5 786.5L2763.5 780.5L2751.5 783.5z"/><path d="M2748.5 792.5L2757.5 789.5L2751.5 783.5L2742.5 786.5z"/><path d="M2739.5 795.5L2748.5 792.5L2742.5 786.5L2733.5 789.5z"/><path d="M2727.5 798.5L2739.5 795.5L2733.5 789.5L2721.5 792.5z"/><path d="M2718.5 801.5L2727.5 798.5L2721.5 792.5L2712.5 795.5z"/><path d="M3204.5 669.5L3213.5 666.5L3207.5 663.5L3198.5 666.5z"/><path d="M3195.5 672.5L3204.5 669.5L3198.5 666.5L3189.5 669.5z"/><path d="M3183.5 675.5L3195.5 672.5L3189.5 669.5L3177.5 672.5z"/><path d="M3174.5 678.5L3183.5 675.5L3177.5 672.5L3168.5 675.5z"/><path d="M3165.5 681.5L3174.5 678.5L3168.5 675.5L3159.5 675.5z"/><path d="M3153.5 684.5L3165.5 681.5L3159.5 675.5L3147.5 678.5z"/><path d="M3144.5 687.5L3153.5 684.5L3147.5 678.5L3138.5 681.5z"/><path d="M3135.5 690.5L3144.5 687.5L3138.5 681.5L3129.5 684.5z"/><path d="M3123.5 693.5L3135.5 690.5L3129.5 684.5L3117.5 687.5z"/><path d="M3114.5 696.5L3123.5 693.5L3117.5 687.5L3108.5 690.5z"/><path d="M3105.5 699.5L3114.5 696.5L3108.5 690.5L3099.5 693.5z"/><path d="M3093.5 702.5L3105.5 699.5L3099.5 693.5L3087.5 696.5z"/><path d="M3084.5 705.5L3093.5 702.5L3087.5 696.5L3078.5 699.5z"/><path d="M3075.5 708.5L3084.5 705.5L3078.5 699.5L3069.5 702.5z"/><path d="M3063.5 708.5L3075.5 708.5L3069.5 702.5L3057.5 705.5z"/><path d="M3054.5 711.5L3063.5 708.5L3057.5 705.5L3048.5 708.5z"/><path d="M3045.5 714.5L3054.5 711.5L3048.5 708.5L3039.5 711.5z"/><path d="M3033.5 717.5L3045.5 714.5L3039.5 711.5L3027.5 714.5z"/><path d="M3024.5 720.5L3033.5 717.5L3027.5 714.5L3018.5 717.5z"/><path d="M3015.5 723.5L3024.5 720.5L3018.5 717.5L3009.5 720.5z"/><path d="M3003.5 726.5L3015.5 723.5L3009.5 720.5L2997.5 720.5z"/><path d="M2994.5 729.5L3003.5 726.5L2997.5 720.5L2988.5 723.5z"/><path d="M2985.5 732.5L2994.5 729.5L2988.5 723.5L2979.5 726.5z"/><path d="M2973.5 735.5L2985.5 732.5L2979.5 726.5L2967.5 729.5z"/><path d="M2964.5 738.5L2973.5 735.5L2967.5 729.5L2958.5 732.5z"/><path d="M2955.5 738.5L2964.5 738.5L2958.5 732.5L2949.5 735.5z"/><path d="M2943.5 732.5L2955.5 738.5L2949.5 735.5L2937.5 732.5z"/><path d="M2934.5 714.5L2943.5 732.5L2937.5 732.5L2928.5 723.5z"/><path d="M2925.5 675.5L2934.5 714.5L2928.5 723.5L2919.5 696.5z"/><path class="l" d="M2926.3 678.8L2924.6 678.5"/><path d="M2913.5 606.5L2925.5 675.5L2919.5 696.5L2907.5 642.5z"/><path class="l" d="M2924.6 678.5L2915.1 676.5"/><path class="l" d="M2914.3 611.4L2912.7 611.1"/><path d="M2904.5 513.5L2913.5 606.5L2907.5 642.5L2898.5 558.5z"/><path class="l" d="M2912.7 611.1L2903.9 608.9"/><path class="l" d="M2907.6 545.5L2900.6 542.9"/><path d="M2895.5 411.5L2904.5 513.5L2898.5 558.5L2889.5 456.5z"/><path class="l" d="M2900.6 542.9L2897 541.1"/><path class="l" d="M2901.4 478.8L2891 473.8"/><path d="M2883.5 336.5L2895.5 411.5L2889.5 456.5L2877.5 363.5z"/><path class="l" d="M2895.5 411.2L2883 406.3"/><path class="l" d="M2884.6 343.4L2882.2 342.4"/><path d="M2874.5 321.5L2883.5 336.5L2877.5 363.5L2868.5 315.5z"/><path class="l" d="M2882.2 342.4L2872.9 339"/><path d="M2865.5 375.5L2874.5 321.5L2868.5 315.5L2859.5 336.5z"/><path class="l" d="M2870.1 347.9L2860.8 345"/><path d="M2853.5 471.5L2865.5 375.5L2859.5 336.5L2847.5 417.5z"/><path class="l" d="M2860 419.7L2847.5 417.2"/><path class="l" d="M2860.8 345L2858.4 344"/><path d="M2844.5 579.5L2853.5 471.5L2847.5 417.5L2838.5 525.5z"/><path class="l" d="M2846 561.1L2842.4 560.8"/><path class="l" d="M2852 489.8L2841.6 488.7"/><path d="M2835.5 669.5L2844.5 579.5L2838.5 525.5L2829.5 624.5z"/><path class="l" d="M2839.1 633.5L2830.3 630.2"/><path class="l" d="M2842.4 560.8L2835.4 559.5"/><path d="M2823.5 729.5L2835.5 669.5L2829.5 624.5L2817.5 699.5z"/><path class="l" d="M2827.9 707.3L2818.4 703.8"/><path class="l" d="M2830.3 630.2L2828.7 629.8"/><path d="M2814.5 759.5L2823.5 729.5L2817.5 699.5L2808.5 744.5z"/><path class="l" d="M2818.4 703.8L2816.7 703.3"/><path d="M2802.5 777.5L2814.5 759.5L2808.5 744.5L2799.5 765.5z"/><path d="M2793.5 783.5L2802.5 777.5L2799.5 765.5L2787.5 777.5z"/><path d="M2784.5 789.5L2793.5 783.5L2787.5 777.5L2778.5 783.5z"/><path d="M2772.5 792.5L2784.5 789.5L2778.5 783.5L2769.5 786.5z"/><path d="M2763.5 795.5L2772.5 792.5L2769.5 786.5L2757.5 789.5z"/><path d="M2754.5 798.5L2763.5 795.5L2757.5 789.5L2748.5 792.5z"/><path d="M2742.5 798.5L2754.5 798.5L2748.5 792.5L2739.5 795.5z"/><path d="M2733.5 801.5L2742.5 798.5L2739.5 795.5L2727.5 798.5z"/><path d="M2724.5 804.5L2733.5 801.5L2727.5 798.5L2718.5 801.5z"/><path d="M3210.5 675.5L3219.5 672.5L3213.5 666.5L3204.5 669.5z"/><path d="M3201.5 678.5L3210.5 675.5L3204.5 669.5L3195.5 672.5z"/><path d="M3189.5 681.5L3201.5 678.5L3195.5 672.5L3183.5 675.5z"/><path d="M3180.5 684.5L3189.5 681.5L3183.5 675.5L3174.5 678.5z"/><path d="M3171.5 687.5L3180.5 684.5L3174.5 678.5L3165.5 681.5z"/><path d="M3159.5 690.5L3171.5 687.5L3165.5 681.5L3153.5 684.5z"/><path d="M3150.5 693.5L3159.5 690.5L3153.5 684.5L3144.5 687.5z"/><path d="M3141.5 696.5L3150.5 693.5L3144.5 687.5L3135.5 690.5z"/><path d="M3129.5 699.5L3141.5 696.5L3135.5 690.5L3123.5 693.5z"/><path d="M3120.5 699.5L3129.5 699.5L3123.5 693.5L3114.5 696.5z"/><path d="M3111.5 702.5L3120.5 699.5L3114.5 696.5L3105.5 699.5z"/><path d="M3099.5 705.5L3111.5 702.5L3105.5 699.5L3093.5 702.5z"/><path d="M3090.5 708.5L3099.5 705.5L3093.5 702.5L3084.5 705.5z"/><path d="M3081.5 711.5L3090.5 708.5L3084.5 705.5L3075.5 708.5z"/><path d="M3069.5 714.5L3081.5 711.5L3075.5 708.5L3063.5 708.5z"/><path d="M3060.5 717.5L3069.5 714.5L3063.5 708.5L3054.5 711.5z"/><path d="M3051.5 720.5L3060.5 717.5L3054.5 711.5L3045.5 714.5z"/><path d="M3039.5 723.5L3051.5 720.5L3045.5 714.5L3033.5 717.5z"/><path d="M3030.5 726.5L3039.5 723.5L3033.5 717.5L3024.5 720.5z"/><path d="M3021.5 729.5L3030.5 726.5L3024.5 720.5L3015.5 723.5z"/><path d="M3009.5 732.5L3021.5 729.5L3015.5 723.5L3003.5 726.5z"/><path d="M3000.5 735.5L3009.5 732.5L3003.5 726.5L2994.5 729.5z"/><path d="M2988.5 738.5L3000.5 735.5L2994.5 729.5L2985.5 732.5z"/><path d="M2979.5 738.5L2988.5 738.5L2985.5 732.5L2973.5 735.5z"/><path d="M2970.5 741.5L2979.5 738.5L2973.5 735.5L2964.5 738.5z"/><path d="M2958.5 738.5L2970.5 741.5L2964.5 738.5L2955.5 738.5z"/><path d="M2949.5 729.5L2958.5 738.5L2955.5 738.5L2943.5 732.5z"/><path d="M2940.5 702.5L2949.5 729.5L2943.5 732.5L2934.5 714.5z"/><path d="M2928.5 648.5L2940.5 702.5L2934.5 714.5L2925.5 675.5z"/><path class="l" d="M2936.1 682.5L2926.3 678.8"/><path d="M2919.5 567.5L2928.5 648.5L2925.5 675.5L2913.5 606.5z"/><path class="l" d="M2924.9 616.1L2914.3 611.4"/><path d="M2910.5 462.5L2919.5 567.5L2913.5 606.5L2904.5 513.5z"/><path class="l" d="M2918 549.6L2907.6 545.5"/><path class="l" d="M2912 480.3L2908.5 479.5"/><path d="M2898.5 369.5L2910.5 462.5L2904.5 513.5L2895.5 411.5z"/><path class="l" d="M2908.5 479.5L2901.4 478.8"/><path class="l" d="M2904 412.3L2895.5 411.2"/><path d="M2889.5 324.5L2898.5 369.5L2895.5 411.5L2883.5 336.5z"/><path class="l" d="M2895.5 411.2L2895.5 411.2"/><path class="l" d="M2893.9 346.5L2884.6 343.4"/><path d="M2880.5 342.5L2889.5 324.5L2883.5 336.5L2874.5 321.5z"/><path d="M2868.5 423.5L2880.5 342.5L2874.5 321.5L2865.5 375.5z"/><path class="l" d="M2868.5 423.2L2868.5 423.2"/><path class="l" d="M2879.4 350L2870.1 347.9"/><path d="M2859.5 531.5L2868.5 423.5L2865.5 375.5L2853.5 471.5z"/><path class="l" d="M2862.6 494.7L2855.5 491.5"/><path class="l" d="M2868.5 423.2L2860 419.7"/><path d="M2850.5 633.5L2859.5 531.5L2853.5 471.5L2844.5 579.5z"/><path class="l" d="M2856.4 566.5L2846 561.1"/><path class="l" d="M2855.5 491.5L2852 489.8"/><path d="M2838.5 705.5L2850.5 633.5L2844.5 579.5L2835.5 669.5z"/><path class="l" d="M2849.7 638.6L2839.1 633.5"/><path d="M2829.5 750.5L2838.5 705.5L2835.5 669.5L2823.5 729.5z"/><path class="l" d="M2837.7 709.3L2827.9 707.3"/><path d="M2820.5 774.5L2829.5 750.5L2823.5 729.5L2814.5 759.5z"/><path d="M2808.5 783.5L2820.5 774.5L2814.5 759.5L2802.5 777.5z"/><path d="M2799.5 789.5L2808.5 783.5L2802.5 777.5L2793.5 783.5z"/><path d="M2790.5 792.5L2799.5 789.5L2793.5 783.5L2784.5 789.5z"/><path d="M2778.5 795.5L2790.5 792.5L2784.5 789.5L2772.5 792.5z"/><path d="M2769.5 798.5L2778.5 795.5L2772.5 792.5L2763.5 795.5z"/><path d="M2760.5 801.5L2769.5 798.5L2763.5 795.5L2754.5 798.5z"/><path d="M2748.5 804.5L2760.5 801.5L2754.5 798.5L2742.5 798.5z"/><path d="M2739.5 807.5L2748.5 804.5L2742.5 798.5L2733.5 801.5z"/><path d="M2730.5 810.5L2739.5 807.5L2733.5 801.5L2724.5 804.5z"/><path d="M3216.5 681.5L3225.5 678.5L3219.5 672.5L3210.5 675.5z"/><path d="M3207.5 684.5L3216.5 681.5L3210.5 675.5L3201.5 678.5z"/><path d="M3195.5 687.5L3207.5 684.5L3201.5 678.5L3189.5 681.5z"/><path d="M3186.5 687.5L3195.5 687.5L3189.5 681.5L3180.5 684.5z"/><path d="M3177.5 690.5L3186.5 687.5L3180.5 684.5L3171.5 687.5z"/><path d="M3165.5 693.5L3177.5 690.5L3171.5 687.5L3159.5 690.5z"/><path d="M3156.5 696.5L3165.5 693.5L3159.5 690.5L3150.5 693.5z"/><path d="M3144.5 699.5L3156.5 696.5L3150.5 693.5L3141.5 696.5z"/><path d="M3135.5 702.5L3144.5 699.5L3141.5 696.5L3129.5 699.5z"/><path d="M3126.5 705.5L3135.5 702.5L3129.5 699.5L3120.5 699.5z"/><path d="M3114.5 708.5L3126.5 705.5L3120.5 699.5L3111.5 702.5z"/><path d="M3105.5 711.5L3114.5 708.5L3111.5 702.5L3099.5 705.5z"/><path d="M3096.5 714.5L3105.5 711.5L3099.5 705.5L3090.5 708.5z"/><path d="M3084.5 717.5L3096.5 714.5L3090.5 708.5L3081.5 711.5z"/><path d="M3075.5 720.5L3084.5 717.5L3081.5 711.5L3069.5 714.5z"/><path d="M3066.5 723.5L3075.5 720.5L3069.5 714.5L3060.5 717.5z"/><path d="M3054.5 726.5L3066.5 723.5L3060.5 717.5L3051.5 720.5z"/><path d="M3045.5 729.5L3054.5 726.5L3051.5 720.5L3039.5 723.5z"/><path d="M3036.5 732.5L3045.5 729.5L3039.5 723.5L3030.5 726.5z"/><path d="M3024.5 732.5L3036.5 732.5L3030.5 726.5L3021.5 729.5z"/><path d="M3015.5 735.5L3024.5 732.5L3021.5 729.5L3009.5 732.5z"/><path d="M3006.5 738.5L3015.5 735.5L3009.5 732.5L3000.5 735.5z"/><path d="M2994.5 741.5L3006.5 738.5L3000.5 735.5L2988.5 738.5z"/><path d="M2985.5 744.5L2994.5 741.5L2988.5 738.5L2979.5 738.5z"/><path d="M2976.5 744.5L2985.5 744.5L2979.5 738.5L2970.5 741.5z"/><path d="M2964.5 738.5L2976.5 744.5L2970.5 741.5L2958.5 738.5z"/><path d="M2955.5 720.5L2964.5 738.5L2958.5 738.5L2949.5 729.5z"/><path d="M2946.5 684.5L2955.5 720.5L2949.5 729.5L2940.5 702.5z"/><path class="l" d="M2947.3 687.5L2945.6 687.1"/><path d="M2934.5 615.5L2946.5 684.5L2940.5 702.5L2928.5 648.5z"/><path class="l" d="M2945.6 687.1L2936.1 682.5"/><path class="l" d="M2935.3 620.4L2933.7 619.7"/><path d="M2925.5 519.5L2934.5 615.5L2928.5 648.5L2919.5 567.5z"/><path class="l" d="M2933.7 619.7L2924.9 616.1"/><path class="l" d="M2928.6 552.5L2921.6 550.8"/><path d="M2916.5 417.5L2925.5 519.5L2919.5 567.5L2910.5 462.5z"/><path class="l" d="M2921.6 550.8L2918 549.6"/><path class="l" d="M2922.4 484.8L2912 480.3"/><path d="M2904.5 342.5L2916.5 417.5L2910.5 462.5L2898.5 369.5z"/><path class="l" d="M2916.5 417.2L2904 412.3"/><path class="l" d="M2905.6 349.4L2903.2 348.4"/><path d="M2895.5 327.5L2904.5 342.5L2898.5 369.5L2889.5 324.5z"/><path class="l" d="M2903.2 348.4L2893.9 346.5"/><path d="M2886.5 381.5L2895.5 327.5L2889.5 324.5L2880.5 342.5z"/><path class="l" d="M2891.1 353.9L2881.8 351"/><path d="M2874.5 480.5L2886.5 381.5L2880.5 342.5L2868.5 423.5z"/><path class="l" d="M2881 427.1L2868.5 423.2"/><path class="l" d="M2881.8 351L2879.4 350"/><path d="M2865.5 588.5L2874.5 480.5L2868.5 423.5L2859.5 531.5z"/><path class="l" d="M2867 570.1L2863.4 568.7"/><path class="l" d="M2873 498.8L2862.6 494.7"/><path d="M2856.5 675.5L2865.5 588.5L2859.5 531.5L2850.5 633.5z"/><path class="l" d="M2860.1 640.7L2851.3 638.8"/><path class="l" d="M2863.4 568.7L2856.4 566.5"/><path d="M2844.5 735.5L2856.5 675.5L2850.5 633.5L2838.5 705.5z"/><path class="l" d="M2848.9 713.3L2839.4 709.8"/><path class="l" d="M2851.3 638.8L2849.7 638.6"/><path d="M2835.5 768.5L2844.5 735.5L2838.5 705.5L2829.5 750.5z"/><path class="l" d="M2839.4 709.8L2837.7 709.3"/><path d="M2826.5 783.5L2835.5 768.5L2829.5 750.5L2820.5 774.5z"/><path d="M2814.5 789.5L2826.5 783.5L2820.5 774.5L2808.5 783.5z"/><path d="M2805.5 795.5L2814.5 789.5L2808.5 783.5L2799.5 789.5z"/><path d="M2796.5 798.5L2805.5 795.5L2799.5 789.5L2790.5 792.5z"/><path d="M2784.5 801.5L2796.5 798.5L2790.5 792.5L2778.5 795.5z"/><path d="M2775.5 804.5L2784.5 801.5L2778.5 795.5L2769.5 798.5z"/><path d="M2766.5 807.5L2775.5 804.5L2769.5 798.5L2760.5 801.5z"/><path d="M2754.5 810.5L2766.5 807.5L2760.5 801.5L2748.5 804.5z"/><path d="M2745.5 813.5L2754.5 810.5L2748.5 804.5L2739.5 807.5z"/><path d="M2736.5 816.5L2745.5 813.5L2739.5 807.5L2730.5 810.5z"/><path d="M3222.5 684.5L3231.5 681.5L3225.5 678.5L3216.5 681.5z"/><path d="M3210.5 687.5L3222.5 684.5L3216.5 681.5L3207.5 684.5z"/><path d="M3201.5 690.5L3210.5 687.5L3207.5 684.5L3195.5 687.5z"/><path d="M3192.5 693.5L3201.5 690.5L3195.5 687.5L3186.5 687.5z"/><path d="M3180.5 696.5L3192.5 693.5L3186.5 687.5L3177.5 690.5z"/><path d="M3171.5 699.5L3180.5 696.5L3177.5 690.5L3165.5 693.5z"/><path d="M3162.5 702.5L3171.5 699.5L3165.5 693.5L3156.5 696.5z"/><path d="M3150.5 705.5L3162.5 702.5L3156.5 696.5L3144.5 699.5z"/><path d="M3141.5 708.5L3150.5 705.5L3144.5 699.5L3135.5 702.5z"/><path d="M3132.5 711.5L3141.5 708.5L3135.5 702.5L3126.5 705.5z"/><path d="M3120.5 714.5L3132.5 711.5L3126.5 705.5L3114.5 708.5z"/><path d="M3111.5 717.5L3120.5 714.5L3114.5 708.5L3105.5 711.5z"/><path d="M3102.5 720.5L3111.5 717.5L3105.5 711.5L3096.5 714.5z"/><path d="M3090.5 720.5L3102.5 720.5L3096.5 714.5L3084.5 717.5z"/><path d="M3081.5 723.5L3090.5 720.5L3084.5 717.5L3075.5 720.5z"/><path d="M3072.5 726.5L3081.5 723.5L3075.5 720.5L3066.5 723.5z"/><path d="M3060.5 729.5L3072.5 726.5L3066.5 723.5L3054.5 726.5z"/><path d="M3051.5 732.5L3060.5 729.5L3054.5 726.5L3045.5 729.5z"/><path d="M3042.5 735.5L3051.5 732.5L3045.5 729.5L3036.5 732.5z"/><path d="M3030.5 738.5L3042.5 735.5L3036.5 732.5L3024.5 732.5z"/><path d="M3021.5 741.5L3030.5 738.5L3024.5 732.5L3015.5 735.5z"/><path d="M3012.5 744.5L3021.5 741.5L3015.5 735.5L3006.5 738.5z"/><path d="M3000.5 747.5L3012.5 744.5L3006.5 738.5L2994.5 741.5z"/><path d="M2991.5 747.5L3000.5 747.5L2994.5 741.5L2985.5 744.5z"/><path d="M2982.5 747.5L2991.5 747.5L2985.5 744.5L2976.5 744.5z"/><path d="M2970.5 735.5L2982.5 747.5L2976.5 744.5L2964.5 738.5z"/><path d="M2961.5 708.5L2970.5 735.5L2964.5 738.5L2955.5 720.5z"/><path d="M2952.5 657.5L2961.5 708.5L2955.5 720.5L2946.5 684.5z"/><path class="l" d="M2958.2 689.6L2947.3 687.5"/><path d="M2940.5 573.5L2952.5 657.5L2946.5 684.5L2934.5 615.5z"/><path class="l" d="M2947.7 623.9L2935.3 620.4"/><path d="M2931.5 471.5L2940.5 573.5L2934.5 615.5L2925.5 519.5z"/><path class="l" d="M2939 556.1L2928.6 552.5"/><path class="l" d="M2933 488.8L2929.5 487.5"/><path d="M2922.5 378.5L2931.5 471.5L2925.5 519.5L2916.5 417.5z"/><path class="l" d="M2929.5 487.5L2922.4 484.8"/><path class="l" d="M2926.6 421.3L2916.5 417.3"/><path d="M2910.5 330.5L2922.5 378.5L2916.5 417.5L2904.5 342.5z"/><path class="l" d="M2916.5 417.3L2916.5 417.2"/><path class="l" d="M2916.4 354L2905.6 349.4"/><path d="M2901.5 351.5L2910.5 330.5L2904.5 342.5L2895.5 327.5z"/><path d="M2892.5 429.5L2901.5 351.5L2895.5 327.5L2886.5 381.5z"/><path class="l" d="M2892.5 429.2L2892.5 429.2"/><path class="l" d="M2900.7 358.7L2891.1 353.9"/><path d="M2880.5 537.5L2892.5 429.5L2886.5 381.5L2874.5 480.5z"/><path class="l" d="M2884.6 500.7L2876.5 499.5"/><path class="l" d="M2892.5 429.2L2881 427.1"/><path d="M2871.5 639.5L2880.5 537.5L2874.5 480.5L2865.5 588.5z"/><path class="l" d="M2877.4 572.5L2867 570.1"/><path class="l" d="M2876.5 499.5L2873 498.8"/><path d="M2862.5 714.5L2871.5 639.5L2865.5 588.5L2856.5 675.5z"/><path class="l" d="M2870.9 644.8L2860.1 640.7"/><path d="M2850.5 756.5L2862.5 714.5L2856.5 675.5L2844.5 735.5z"/><path class="l" d="M2861.5 718L2848.9 713.3"/><path d="M2841.5 780.5L2850.5 756.5L2844.5 735.5L2835.5 768.5z"/><path d="M2832.5 792.5L2841.5 780.5L2835.5 768.5L2826.5 783.5z"/><path d="M2820.5 795.5L2832.5 792.5L2826.5 783.5L2814.5 789.5z"/><path d="M2811.5 801.5L2820.5 795.5L2814.5 789.5L2805.5 795.5z"/><path d="M2802.5 804.5L2811.5 801.5L2805.5 795.5L2796.5 798.5z"/><path d="M2790.5 807.5L2802.5 804.5L2796.5 798.5L2784.5 801.5z"/><path d="M2781.5 810.5L2790.5 807.5L2784.5 801.5L2775.5 804.5z"/><path d="M2772.5 810.5L2781.5 810.5L2775.5 804.5L2766.5 807.5z"/><path d="M2760.5 813.5L2772.5 810.5L2766.5 807.5L2754.5 810.5z"/><path d="M2751.5 816.5L2760.5 813.5L2754.5 810.5L2745.5 813.5z"/><path d="M2742.5 819.5L2751.5 816.5L2745.5 813.5L2736.5 816.5z"/><path d="M3228.5 690.5L3237.5 687.5L3231.5 681.5L3222.5 684.5z"/><path d="M3216.5 693.5L3228.5 690.5L3222.5 684.5L3210.5 687.5z"/><path d="M3207.5 696.5L3216.5 693.5L3210.5 687.5L3201.5 690.5z"/><path d="M3198.5 699.5L3207.5 696.5L3201.5 690.5L3192.5 693.5z"/><path d="M3186.5 702.5L3198.5 699.5L3192.5 693.5L3180.5 696.5z"/><path d="M3177.5 705.5L3186.5 702.5L3180.5 696.5L3171.5 699.5z"/><path d="M3168.5 708.5L3177.5 705.5L3171.5 699.5L3162.5 702.5z"/><path d="M3156.5 708.5L3168.5 708.5L3162.5 702.5L3150.5 705.5z"/><path d="M3147.5 711.5L3156.5 708.5L3150.5 705.5L3141.5 708.5z"/><path d="M3138.5 714.5L3147.5 711.5L3141.5 708.5L3132.5 711.5z"/><path d="M3126.5 717.5L3138.5 714.5L3132.5 711.5L3120.5 714.5z"/><path d="M3117.5 720.5L3126.5 717.5L3120.5 714.5L3111.5 717.5z"/><path d="M3108.5 723.5L3117.5 720.5L3111.5 717.5L3102.5 720.5z"/><path d="M3096.5 726.5L3108.5 723.5L3102.5 720.5L3090.5 720.5z"/><path d="M3087.5 729.5L3096.5 726.5L3090.5 720.5L3081.5 723.5z"/><path d="M3078.5 732.5L3087.5 729.5L3081.5 723.5L3072.5 726.5z"/><path d="M3066.5 735.5L3078.5 732.5L3072.5 726.5L3060.5 729.5z"/><path d="M3057.5 738.5L3066.5 735.5L3060.5 729.5L3051.5 732.5z"/><path d="M3048.5 741.5L3057.5 738.5L3051.5 732.5L3042.5 735.5z"/><path d="M3036.5 744.5L3048.5 741.5L3042.5 735.5L3030.5 738.5z"/><path d="M3027.5 747.5L3036.5 744.5L3030.5 738.5L3021.5 741.5z"/><path d="M3018.5 750.5L3027.5 747.5L3021.5 741.5L3012.5 744.5z"/><path d="M3006.5 750.5L3018.5 750.5L3012.5 744.5L3000.5 747.5z"/><path d="M2997.5 750.5L3006.5 750.5L3000.5 747.5L2991.5 747.5z"/><path d="M2988.5 747.5L2997.5 750.5L2991.5 747.5L2982.5 747.5z"/><path d="M2976.5 729.5L2988.5 747.5L2982.5 747.5L2970.5 735.5z"/><path d="M2967.5 690.5L2976.5 729.5L2970.5 735.5L2961.5 708.5z"/><path class="l" d="M2968.3 693.8L2966.6 693.1"/><path d="M2958.5 621.5L2967.5 690.5L2961.5 708.5L2952.5 657.5z"/><path class="l" d="M2966.6 693.1L2958.2 689.6"/><path class="l" d="M2959.1 626.4L2957.7 626.1"/><path d="M2946.5 525.5L2958.5 621.5L2952.5 657.5L2940.5 573.5z"/><path class="l" d="M2957.7 626.1L2947.7 623.9"/><path class="l" d="M2950.6 558.5L2942.6 556.8"/><path d="M2937.5 423.5L2946.5 525.5L2940.5 573.5L2931.5 471.5z"/><path class="l" d="M2942.6 556.8L2939 556.1"/><path class="l" d="M2943.4 490.8L2933 488.8"/><path d="M2928.5 348.5L2937.5 423.5L2931.5 471.5L2922.5 378.5z"/><path class="l" d="M2937.5 423.2L2926.6 421.3"/><path class="l" d="M2929.3 355.4L2927.2 355"/><path d="M2916.5 336.5L2928.5 348.5L2922.5 378.5L2910.5 330.5z"/><path class="l" d="M2927.2 355L2916.4 354"/><path d="M2907.5 387.5L2916.5 336.5L2910.5 330.5L2901.5 351.5z"/><path class="l" d="M2912.1 361.4L2902.8 359.3"/><path d="M2898.5 486.5L2907.5 387.5L2901.5 351.5L2892.5 429.5z"/><path class="l" d="M2903.4 433.1L2892.5 429.2"/><path class="l" d="M2902.8 359.3L2900.7 358.7"/><path d="M2886.5 594.5L2898.5 486.5L2892.5 429.5L2880.5 537.5z"/><path class="l" d="M2888.5 576.1L2884.4 574.7"/><path class="l" d="M2896.5 504.8L2884.6 500.7"/><path d="M2877.5 684.5L2886.5 594.5L2880.5 537.5L2871.5 639.5z"/><path class="l" d="M2881.1 648.5L2872.3 645.2"/><path class="l" d="M2884.4 574.7L2877.4 572.5"/><path d="M2868.5 741.5L2877.5 684.5L2871.5 639.5L2862.5 714.5z"/><path class="l" d="M2871.8 720.4L2863.4 718.4"/><path class="l" d="M2872.3 645.2L2870.9 644.8"/><path d="M2856.5 774.5L2868.5 741.5L2862.5 714.5L2850.5 756.5z"/><path class="l" d="M2863.4 718.4L2861.5 718"/><path d="M2847.5 789.5L2856.5 774.5L2850.5 756.5L2841.5 780.5z"/><path d="M2838.5 798.5L2847.5 789.5L2841.5 780.5L2832.5 792.5z"/><path d="M2826.5 801.5L2838.5 798.5L2832.5 792.5L2820.5 795.5z"/><path d="M2817.5 804.5L2826.5 801.5L2820.5 795.5L2811.5 801.5z"/><path d="M2805.5 807.5L2817.5 804.5L2811.5 801.5L2802.5 804.5z"/><path d="M2796.5 810.5L2805.5 807.5L2802.5 804.5L2790.5 807.5z"/><path d="M2787.5 813.5L2796.5 810.5L2790.5 807.5L2781.5 810.5z"/><path d="M2775.5 816.5L2787.5 813.5L2781.5 810.5L2772.5 810.5z"/><path d="M2766.5 819.5L2775.5 816.5L2772.5 810.5L2760.5 813.5z"/><path d="M2757.5 822.5L2766.5 819.5L2760.5 813.5L2751.5 816.5z"/><path d="M2745.5 825.5L2757.5 822.5L2751.5 816.5L2742.5 819.5z"/><path d="M3234.5 696.5L3243.5 693.5L3237.5 687.5L3228.5 690.5z"/><path d="M3222.5 699.5L3234.5 696.5L3228.5 690.5L3216.5 693.5z"/><path d="M3213.5 699.5L3222.5 699.5L3216.5 693.5L3207.5 696.5z"/><path d="M3204.5 702.5L3213.5 699.5L3207.5 696.5L3198.5 699.5z"/><path d="M3192.5 705.5L3204.5 702.5L3198.5 699.5L3186.5 702.5z"/><path d="M3183.5 708.5L3192.5 705.5L3186.5 702.5L3177.5 705.5z"/><path d="M3174.5 711.5L3183.5 708.5L3177.5 705.5L3168.5 708.5z"/><path d="M3162.5 714.5L3174.5 711.5L3168.5 708.5L3156.5 708.5z"/><path d="M3153.5 717.5L3162.5 714.5L3156.5 708.5L3147.5 711.5z"/><path d="M3144.5 720.5L3153.5 717.5L3147.5 711.5L3138.5 714.5z"/><path d="M3132.5 723.5L3144.5 720.5L3138.5 714.5L3126.5 717.5z"/><path d="M3123.5 726.5L3132.5 723.5L3126.5 717.5L3117.5 720.5z"/><path d="M3114.5 729.5L3123.5 726.5L3117.5 720.5L3108.5 723.5z"/><path d="M3102.5 732.5L3114.5 729.5L3108.5 723.5L3096.5 726.5z"/><path d="M3093.5 735.5L3102.5 732.5L3096.5 726.5L3087.5 729.5z"/><path d="M3084.5 738.5L3093.5 735.5L3087.5 729.5L3078.5 732.5z"/><path d="M3072.5 741.5L3084.5 738.5L3078.5 732.5L3066.5 735.5z"/><path d="M3063.5 741.5L3072.5 741.5L3066.5 735.5L3057.5 738.5z"/><path d="M3054.5 744.5L3063.5 741.5L3057.5 738.5L3048.5 741.5z"/><path d="M3042.5 747.5L3054.5 744.5L3048.5 741.5L3036.5 744.5z"/><path d="M3033.5 750.5L3042.5 747.5L3036.5 744.5L3027.5 747.5z"/><path d="M3024.5 753.5L3033.5 750.5L3027.5 747.5L3018.5 750.5z"/><path d="M3012.5 756.5L3024.5 753.5L3018.5 750.5L3006.5 750.5z"/><path d="M3003.5 753.5L3012.5 756.5L3006.5 750.5L2997.5 750.5z"/><path d="M2991.5 744.5L3003.5 753.5L2997.5 750.5L2988.5 747.5z"/><path d="M2982.5 717.5L2991.5 744.5L2988.5 747.5L2976.5 729.5z"/><path d="M2973.5 663.5L2982.5 717.5L2976.5 729.5L2967.5 690.5z"/><path class="l" d="M2979.2 697.5L2968.3 693.8"/><path d="M2961.5 579.5L2973.5 663.5L2967.5 690.5L2958.5 621.5z"/><path class="l" d="M2968.7 629.9L2959.1 626.4"/><path d="M2952.5 477.5L2961.5 579.5L2958.5 621.5L2946.5 525.5z"/><path class="l" d="M2960 562.1L2950.6 558.5"/><path class="l" d="M2954 494.8L2950.5 493.5"/><path d="M2943.5 384.5L2952.5 477.5L2946.5 525.5L2937.5 423.5z"/><path class="l" d="M2950.5 493.5L2943.4 490.8"/><path class="l" d="M2947.6 427.3L2937.5 423.3"/><path d="M2931.5 336.5L2943.5 384.5L2937.5 423.5L2928.5 348.5z"/><path class="l" d="M2937.5 423.3L2937.5 423.2"/><path class="l" d="M2937.4 360L2929.3 355.4"/><path d="M2922.5 357.5L2931.5 336.5L2928.5 348.5L2916.5 336.5z"/><path d="M2913.5 438.5L2922.5 357.5L2916.5 336.5L2907.5 387.5z"/><path class="l" d="M2913.5 438.2L2913.5 438.2"/><path class="l" d="M2921.7 365L2912.1 361.4"/><path d="M2901.5 546.5L2913.5 438.5L2907.5 387.5L2898.5 486.5z"/><path class="l" d="M2905.6 509.7L2899.5 506.5"/><path class="l" d="M2913.5 438.2L2903.4 433.1"/><path d="M2892.5 645.5L2901.5 546.5L2898.5 486.5L2886.5 594.5z"/><path class="l" d="M2898.4 580.5L2888.5 576.1"/><path class="l" d="M2899.5 506.5L2896.5 504.8"/><path d="M2883.5 720.5L2892.5 645.5L2886.5 594.5L2877.5 684.5z"/><path class="l" d="M2891.9 650.8L2881.1 648.5"/><path d="M2871.5 765.5L2883.5 720.5L2877.5 684.5L2868.5 741.5z"/><path class="l" d="M2882.5 724.3L2871.8 720.4"/><path d="M2862.5 786.5L2871.5 765.5L2868.5 741.5L2856.5 774.5z"/><path d="M2853.5 798.5L2862.5 786.5L2856.5 774.5L2847.5 789.5z"/><path d="M2841.5 804.5L2853.5 798.5L2847.5 789.5L2838.5 798.5z"/><path d="M2832.5 807.5L2841.5 804.5L2838.5 798.5L2826.5 801.5z"/><path d="M2823.5 810.5L2832.5 807.5L2826.5 801.5L2817.5 804.5z"/><path d="M2811.5 813.5L2823.5 810.5L2817.5 804.5L2805.5 807.5z"/><path d="M2802.5 816.5L2811.5 813.5L2805.5 807.5L2796.5 810.5z"/><path d="M2793.5 819.5L2802.5 816.5L2796.5 810.5L2787.5 813.5z"/><path d="M2781.5 822.5L2793.5 819.5L2787.5 813.5L2775.5 816.5z"/><path d="M2772.5 825.5L2781.5 822.5L2775.5 816.5L2766.5 819.5z"/><path d="M2763.5 828.5L2772.5 825.5L2766.5 819.5L2757.5 822.5z"/><path d="M2751.5 831.5L2763.5 828.5L2757.5 822.5L2745.5 825.5z"/><path d="M3240.5 699.5L3249.5 696.5L3243.5 693.5L3234.5 696.5z"/><path d="M3228.5 702.5L3240.5 699.5L3234.5 696.5L3222.5 699.5z"/><path d="M3219.5 705.5L3228.5 702.5L3222.5 699.5L3213.5 699.5z"/><path d="M3210.5 708.5L3219.5 705.5L3213.5 699.5L3204.5 702.5z"/><path d="M3198.5 711.5L3210.5 708.5L3204.5 702.5L3192.5 705.5z"/><path d="M3189.5 714.5L3198.5 711.5L3192.5 705.5L3183.5 708.5z"/><path d="M3177.5 717.5L3189.5 714.5L3183.5 708.5L3174.5 711.5z"/><path d="M3168.5 720.5L3177.5 717.5L3174.5 711.5L3162.5 714.5z"/><path d="M3159.5 723.5L3168.5 720.5L3162.5 714.5L3153.5 717.5z"/><path d="M3147.5 726.5L3159.5 723.5L3153.5 717.5L3144.5 720.5z"/><path d="M3138.5 729.5L3147.5 726.5L3144.5 720.5L3132.5 723.5z"/><path d="M3129.5 732.5L3138.5 729.5L3132.5 723.5L3123.5 726.5z"/><path d="M3117.5 732.5L3129.5 732.5L3123.5 726.5L3114.5 729.5z"/><path d="M3108.5 735.5L3117.5 732.5L3114.5 729.5L3102.5 732.5z"/><path d="M3099.5 738.5L3108.5 735.5L3102.5 732.5L3093.5 735.5z"/><path d="M3087.5 741.5L3099.5 738.5L3093.5 735.5L3084.5 738.5z"/><path d="M3078.5 744.5L3087.5 741.5L3084.5 738.5L3072.5 741.5z"/><path d="M3069.5 747.5L3078.5 744.5L3072.5 741.5L3063.5 741.5z"/><path d="M3057.5 750.5L3069.5 747.5L3063.5 741.5L3054.5 744.5z"/><path d="M3048.5 753.5L3057.5 750.5L3054.5 744.5L3042.5 747.5z"/><path d="M3039.5 756.5L3048.5 753.5L3042.5 747.5L3033.5 750.5z"/><path d="M3027.5 759.5L3039.5 756.5L3033.5 750.5L3024.5 753.5z"/><path d="M3018.5 759.5L3027.5 759.5L3024.5 753.5L3012.5 756.5z"/><path d="M3009.5 753.5L3018.5 759.5L3012.5 756.5L3003.5 753.5z"/><path d="M2997.5 735.5L3009.5 753.5L3003.5 753.5L2991.5 744.5z"/><path d="M2988.5 696.5L2997.5 735.5L2991.5 744.5L2982.5 717.5z"/><path class="l" d="M2989.3 699.8L2987.6 699.5"/><path d="M2979.5 627.5L2988.5 696.5L2982.5 717.5L2973.5 663.5z"/><path class="l" d="M2987.6 699.5L2979.2 697.5"/><path class="l" d="M2980.1 632.4L2978.7 632.1"/><path d="M2967.5 534.5L2979.5 627.5L2973.5 663.5L2961.5 579.5z"/><path class="l" d="M2978.7 632.1L2968.7 629.9"/><path class="l" d="M2971.6 566.5L2963.6 563.9"/><path d="M2958.5 432.5L2967.5 534.5L2961.5 579.5L2952.5 477.5z"/><path class="l" d="M2963.6 563.9L2960 562.1"/><path class="l" d="M2964.4 499.8L2954 494.8"/><path d="M2949.5 357.5L2958.5 432.5L2952.5 477.5L2943.5 384.5z"/><path class="l" d="M2958.5 432.2L2947.6 427.3"/><path class="l" d="M2950.3 364.4L2948.2 363.4"/><path d="M2937.5 342.5L2949.5 357.5L2943.5 384.5L2931.5 336.5z"/><path class="l" d="M2948.2 363.4L2937.4 360"/><path d="M2928.5 396.5L2937.5 342.5L2931.5 336.5L2922.5 357.5z"/><path class="l" d="M2933.1 368.9L2923.8 366"/><path d="M2919.5 492.5L2928.5 396.5L2922.5 357.5L2913.5 438.5z"/><path class="l" d="M2924.4 440.7L2913.5 438.2"/><path class="l" d="M2923.8 366L2921.7 365"/><path d="M2907.5 603.5L2919.5 492.5L2913.5 438.5L2901.5 546.5z"/><path class="l" d="M2909.5 584.6L2905.4 583.7"/><path class="l" d="M2917.5 511.3L2905.6 509.7"/><path d="M2898.5 690.5L2907.5 603.5L2901.5 546.5L2892.5 645.5z"/><path class="l" d="M2902.1 655.7L2893.3 651.2"/><path class="l" d="M2905.4 583.7L2898.4 580.5"/><path d="M2889.5 750.5L2898.5 690.5L2892.5 645.5L2883.5 720.5z"/><path class="l" d="M2892.8 728.3L2884.4 724.8"/><path class="l" d="M2893.3 651.2L2891.9 650.8"/><path d="M2877.5 780.5L2889.5 750.5L2883.5 720.5L2871.5 765.5z"/><path class="l" d="M2884.4 724.8L2882.5 724.3"/><path d="M2868.5 798.5L2877.5 780.5L2871.5 765.5L2862.5 786.5z"/><path d="M2859.5 804.5L2868.5 798.5L2862.5 786.5L2853.5 798.5z"/><path d="M2847.5 810.5L2859.5 804.5L2853.5 798.5L2841.5 804.5z"/><path d="M2838.5 813.5L2847.5 810.5L2841.5 804.5L2832.5 807.5z"/><path d="M2829.5 816.5L2838.5 813.5L2832.5 807.5L2823.5 810.5z"/><path d="M2817.5 819.5L2829.5 816.5L2823.5 810.5L2811.5 813.5z"/><path d="M2808.5 819.5L2817.5 819.5L2811.5 813.5L2802.5 816.5z"/><path d="M2799.5 822.5L2808.5 819.5L2802.5 816.5L2793.5 819.5z"/><path d="M2787.5 825.5L2799.5 822.5L2793.5 819.5L2781.5 822.5z"/><path d="M2778.5 828.5L2787.5 825.5L2781.5 822.5L2772.5 825.5z"/><path d="M2769.5 831.5L2778.5 828.5L2772.5 825.5L2763.5 828.5z"/><path d="M2757.5 834.5L2769.5 831.5L2763.5 828.5L2751.5 831.5z"/><path d="M3243.5 705.5L3255.5 702.5L3249.5 696.5L3240.5 699.5z"/><path d="M3234.5 708.5L3243.5 705.5L3240.5 699.5L3228.5 702.5z"/><path d="M3225.5 711.5L3234.5 708.5L3228.5 702.5L3219.5 705.5z"/><path d="M3213.5 714.5L3225.5 711.5L3219.5 705.5L3210.5 708.5z"/><path d="M3204.5 717.5L3213.5 714.5L3210.5 708.5L3198.5 711.5z"/><path d="M3195.5 720.5L3204.5 717.5L3198.5 711.5L3189.5 714.5z"/><path d="M3183.5 720.5L3195.5 720.5L3189.5 714.5L3177.5 717.5z"/><path d="M3174.5 723.5L3183.5 720.5L3177.5 717.5L3168.5 720.5z"/><path d="M3165.5 726.5L3174.5 723.5L3168.5 720.5L3159.5 723.5z"/><path d="M3153.5 729.5L3165.5 726.5L3159.5 723.5L3147.5 726.5z"/><path d="M3144.5 732.5L3153.5 729.5L3147.5 726.5L3138.5 729.5z"/><path d="M3135.5 735.5L3144.5 732.5L3138.5 729.5L3129.5 732.5z"/><path d="M3123.5 738.5L3135.5 735.5L3129.5 732.5L3117.5 732.5z"/><path d="M3114.5 741.5L3123.5 738.5L3117.5 732.5L3108.5 735.5z"/><path d="M3105.5 744.5L3114.5 741.5L3108.5 735.5L3099.5 738.5z"/><path d="M3093.5 747.5L3105.5 744.5L3099.5 738.5L3087.5 741.5z"/><path d="M3084.5 750.5L3093.5 747.5L3087.5 741.5L3078.5 744.5z"/><path d="M3075.5 753.5L3084.5 750.5L3078.5 744.5L3069.5 747.5z"/><path d="M3063.5 756.5L3075.5 753.5L3069.5 747.5L3057.5 750.5z"/><path d="M3054.5 759.5L3063.5 756.5L3057.5 750.5L3048.5 753.5z"/><path d="M3045.5 759.5L3054.5 759.5L3048.5 753.5L3039.5 756.5z"/><path d="M3033.5 762.5L3045.5 759.5L3039.5 756.5L3027.5 759.5z"/><path d="M3024.5 759.5L3033.5 762.5L3027.5 759.5L3018.5 759.5z"/><path d="M3015.5 750.5L3024.5 759.5L3018.5 759.5L3009.5 753.5z"/><path d="M3003.5 723.5L3015.5 750.5L3009.5 753.5L2997.5 735.5z"/><path d="M2994.5 669.5L3003.5 723.5L2997.5 735.5L2988.5 696.5z"/><path class="l" d="M3000.2 703.5L2989.3 699.8"/><path d="M2985.5 588.5L2994.5 669.5L2988.5 696.5L2979.5 627.5z"/><path class="l" d="M2990.9 637.1L2980.1 632.4"/><path d="M2973.5 483.5L2985.5 588.5L2979.5 627.5L2967.5 534.5z"/><path class="l" d="M2983.5 570.6L2971.6 566.5"/><path class="l" d="M2975.5 501.3L2971.5 500.5"/><path d="M2964.5 390.5L2973.5 483.5L2967.5 534.5L2958.5 432.5z"/><path class="l" d="M2971.5 500.5L2964.4 499.8"/><path class="l" d="M2968.6 433.3L2958.5 432.2"/><path d="M2955.5 345.5L2964.5 390.5L2958.5 432.5L2949.5 357.5z"/><path class="l" d="M2958.5 432.2L2958.5 432.2"/><path class="l" d="M2959.9 367.5L2950.3 364.4"/><path d="M2943.5 363.5L2955.5 345.5L2949.5 357.5L2937.5 342.5z"/><path d="M2934.5 444.5L2943.5 363.5L2937.5 342.5L2928.5 396.5z"/><path class="l" d="M2934.5 444.2L2934.5 444.2"/><path class="l" d="M2942.7 371L2933.1 368.9"/><path d="M2925.5 552.5L2934.5 444.5L2928.5 396.5L2919.5 492.5z"/><path class="l" d="M2928.6 515.7L2921.5 512.5"/><path class="l" d="M2934.5 444.2L2924.4 440.7"/><path d="M2913.5 654.5L2925.5 552.5L2919.5 492.5L2907.5 603.5z"/><path class="l" d="M2921.4 587.5L2909.5 584.6"/><path class="l" d="M2921.5 512.5L2917.5 511.3"/><path d="M2904.5 726.5L2913.5 654.5L2907.5 603.5L2898.5 690.5z"/><path class="l" d="M2912.9 659.6L2902.1 655.7"/><path d="M2895.5 771.5L2904.5 726.5L2898.5 690.5L2889.5 750.5z"/><path class="l" d="M2903.7 730.3L2892.8 728.3"/><path d="M2883.5 795.5L2895.5 771.5L2889.5 750.5L2877.5 780.5z"/><path d="M2874.5 804.5L2883.5 795.5L2877.5 780.5L2868.5 798.5z"/><path d="M2865.5 810.5L2874.5 804.5L2868.5 798.5L2859.5 804.5z"/><path d="M2853.5 813.5L2865.5 810.5L2859.5 804.5L2847.5 810.5z"/><path d="M2844.5 816.5L2853.5 813.5L2847.5 810.5L2838.5 813.5z"/><path d="M2835.5 819.5L2844.5 816.5L2838.5 813.5L2829.5 816.5z"/><path d="M2823.5 822.5L2835.5 819.5L2829.5 816.5L2817.5 819.5z"/><path d="M2814.5 825.5L2823.5 822.5L2817.5 819.5L2808.5 819.5z"/><path d="M2805.5 828.5L2814.5 825.5L2808.5 819.5L2799.5 822.5z"/><path d="M2793.5 831.5L2805.5 828.5L2799.5 822.5L2787.5 825.5z"/><path d="M2784.5 834.5L2793.5 831.5L2787.5 825.5L2778.5 828.5z"/><path d="M2775.5 837.5L2784.5 834.5L2778.5 828.5L2769.5 831.5z"/><path d="M2763.5 840.5L2775.5 837.5L2769.5 831.5L2757.5 834.5z"/><path d="M3249.5 708.5L3261.5 708.5L3255.5 702.5L3243.5 705.5z"/><path d="M3240.5 711.5L3249.5 708.5L3243.5 705.5L3234.5 708.5z"/><path d="M3231.5 714.5L3240.5 711.5L3234.5 708.5L3225.5 711.5z"/><path d="M3219.5 717.5L3231.5 714.5L3225.5 711.5L3213.5 714.5z"/><path d="M3210.5 720.5L3219.5 717.5L3213.5 714.5L3204.5 717.5z"/><path d="M3201.5 723.5L3210.5 720.5L3204.5 717.5L3195.5 720.5z"/><path d="M3189.5 726.5L3201.5 723.5L3195.5 720.5L3183.5 720.5z"/><path d="M3180.5 729.5L3189.5 726.5L3183.5 720.5L3174.5 723.5z"/><path d="M3171.5 732.5L3180.5 729.5L3174.5 723.5L3165.5 726.5z"/><path d="M3159.5 735.5L3171.5 732.5L3165.5 726.5L3153.5 729.5z"/><path d="M3150.5 738.5L3159.5 735.5L3153.5 729.5L3144.5 732.5z"/><path d="M3141.5 741.5L3150.5 738.5L3144.5 732.5L3135.5 735.5z"/><path d="M3129.5 744.5L3141.5 741.5L3135.5 735.5L3123.5 738.5z"/><path d="M3120.5 747.5L3129.5 744.5L3123.5 738.5L3114.5 741.5z"/><path d="M3111.5 750.5L3120.5 747.5L3114.5 741.5L3105.5 744.5z"/><path d="M3099.5 753.5L3111.5 750.5L3105.5 744.5L3093.5 747.5z"/><path d="M3090.5 753.5L3099.5 753.5L3093.5 747.5L3084.5 750.5z"/><path d="M3081.5 756.5L3090.5 753.5L3084.5 750.5L3075.5 753.5z"/><path d="M3069.5 759.5L3081.5 756.5L3075.5 753.5L3063.5 756.5z"/><path d="M3060.5 762.5L3069.5 759.5L3063.5 756.5L3054.5 759.5z"/><path d="M3051.5 765.5L3060.5 762.5L3054.5 759.5L3045.5 759.5z"/><path d="M3039.5 765.5L3051.5 765.5L3045.5 759.5L3033.5 762.5z"/><path d="M3030.5 759.5L3039.5 765.5L3033.5 762.5L3024.5 759.5z"/><path d="M3021.5 744.5L3030.5 759.5L3024.5 759.5L3015.5 750.5z"/><path d="M3009.5 705.5L3021.5 744.5L3015.5 750.5L3003.5 723.5z"/><path class="l" d="M3010.5 708.8L3008.6 708.1"/><path d="M3000.5 636.5L3009.5 705.5L3003.5 723.5L2994.5 669.5z"/><path class="l" d="M3008.6 708.1L3000.2 703.5"/><path class="l" d="M3001.1 641.4L2999.7 640.7"/><path d="M2991.5 540.5L3000.5 636.5L2994.5 669.5L2985.5 588.5z"/><path class="l" d="M2999.7 640.7L2990.9 637.1"/><path class="l" d="M2994.6 573.5L2987.6 571.8"/><path d="M2979.5 438.5L2991.5 540.5L2985.5 588.5L2973.5 483.5z"/><path class="l" d="M2987.6 571.8L2983.5 570.6"/><path class="l" d="M2987.4 505.8L2975.5 501.3"/><path d="M2970.5 363.5L2979.5 438.5L2973.5 483.5L2964.5 390.5z"/><path class="l" d="M2979.5 438.2L2968.6 433.3"/><path class="l" d="M2971.3 370.4L2969.2 369.4"/><path d="M2961.5 348.5L2970.5 363.5L2964.5 390.5L2955.5 345.5z"/><path class="l" d="M2969.2 369.4L2959.9 367.5"/><path d="M2949.5 402.5L2961.5 348.5L2955.5 345.5L2943.5 363.5z"/><path class="l" d="M2955.6 374.9L2944.8 372"/><path d="M2940.5 501.5L2949.5 402.5L2943.5 363.5L2934.5 444.5z"/><path class="l" d="M2945.4 448.1L2934.5 444.2"/><path class="l" d="M2944.8 372L2942.7 371"/><path d="M2931.5 609.5L2940.5 501.5L2934.5 444.5L2925.5 552.5z"/><path class="l" d="M2933 591.1L2929.4 589.7"/><path class="l" d="M2939 519.8L2928.6 515.7"/><path d="M2919.5 696.5L2931.5 609.5L2925.5 552.5L2913.5 654.5z"/><path class="l" d="M2924.3 661.7L2914.3 659.8"/><path class="l" d="M2929.4 589.7L2921.4 587.5"/><path d="M2910.5 756.5L2919.5 696.5L2913.5 654.5L2904.5 726.5z"/><path class="l" d="M2913.8 734.3L2905.4 730.8"/><path class="l" d="M2914.3 659.8L2912.9 659.6"/><path d="M2901.5 789.5L2910.5 756.5L2904.5 726.5L2895.5 771.5z"/><path class="l" d="M2905.4 730.8L2903.7 730.3"/><path d="M2889.5 804.5L2901.5 789.5L2895.5 771.5L2883.5 795.5z"/><path d="M2880.5 813.5L2889.5 804.5L2883.5 795.5L2874.5 804.5z"/><path d="M2871.5 816.5L2880.5 813.5L2874.5 804.5L2865.5 810.5z"/><path d="M2859.5 819.5L2871.5 816.5L2865.5 810.5L2853.5 813.5z"/><path d="M2850.5 822.5L2859.5 819.5L2853.5 813.5L2844.5 816.5z"/><path d="M2841.5 825.5L2850.5 822.5L2844.5 816.5L2835.5 819.5z"/><path d="M2829.5 828.5L2841.5 825.5L2835.5 819.5L2823.5 822.5z"/><path d="M2820.5 831.5L2829.5 828.5L2823.5 822.5L2814.5 825.5z"/><path d="M2808.5 834.5L2820.5 831.5L2814.5 825.5L2805.5 828.5z"/><path d="M2799.5 837.5L2808.5 834.5L2805.5 828.5L2793.5 831.5z"/><path d="M2790.5 840.5L2799.5 837.5L2793.5 831.5L2784.5 834.5z"/><path d="M2778.5 843.5L2790.5 840.5L2784.5 834.5L2775.5 837.5z"/><path d="M2769.5 843.5L2778.5 843.5L2775.5 837.5L2763.5 840.5z"/><path d="M3255.5 714.5L3267.5 711.5L3261.5 708.5L3249.5 708.5z"/><path d="M3246.5 717.5L3255.5 714.5L3249.5 708.5L3240.5 711.5z"/><path d="M3237.5 720.5L3246.5 717.5L3240.5 711.5L3231.5 714.5z"/><path d="M3225.5 723.5L3237.5 720.5L3231.5 714.5L3219.5 717.5z"/><path d="M3216.5 726.5L3225.5 723.5L3219.5 717.5L3210.5 720.5z"/><path d="M3207.5 729.5L3216.5 726.5L3210.5 720.5L3201.5 723.5z"/><path d="M3195.5 732.5L3207.5 729.5L3201.5 723.5L3189.5 726.5z"/><path d="M3186.5 735.5L3195.5 732.5L3189.5 726.5L3180.5 729.5z"/><path d="M3177.5 738.5L3186.5 735.5L3180.5 729.5L3171.5 732.5z"/><path d="M3165.5 741.5L3177.5 738.5L3171.5 732.5L3159.5 735.5z"/><path d="M3156.5 741.5L3165.5 741.5L3159.5 735.5L3150.5 738.5z"/><path d="M3147.5 744.5L3156.5 741.5L3150.5 738.5L3141.5 741.5z"/><path d="M3135.5 747.5L3147.5 744.5L3141.5 741.5L3129.5 744.5z"/><path d="M3126.5 750.5L3135.5 747.5L3129.5 744.5L3120.5 747.5z"/><path d="M3117.5 753.5L3126.5 750.5L3120.5 747.5L3111.5 750.5z"/><path d="M3105.5 756.5L3117.5 753.5L3111.5 750.5L3099.5 753.5z"/><path d="M3096.5 759.5L3105.5 756.5L3099.5 753.5L3090.5 753.5z"/><path d="M3087.5 762.5L3096.5 759.5L3090.5 753.5L3081.5 756.5z"/><path d="M3075.5 765.5L3087.5 762.5L3081.5 756.5L3069.5 759.5z"/><path d="M3066.5 768.5L3075.5 765.5L3069.5 759.5L3060.5 762.5z"/><path d="M3057.5 768.5L3066.5 768.5L3060.5 762.5L3051.5 765.5z"/><path d="M3045.5 768.5L3057.5 768.5L3051.5 765.5L3039.5 765.5z"/><path d="M3036.5 756.5L3045.5 768.5L3039.5 765.5L3030.5 759.5z"/><path d="M3027.5 729.5L3036.5 756.5L3030.5 759.5L3021.5 744.5z"/><path d="M3015.5 678.5L3027.5 729.5L3021.5 744.5L3009.5 705.5z"/><path class="l" d="M3023.1 710.6L3010.5 708.8"/><path d="M3006.5 594.5L3015.5 678.5L3009.5 705.5L3000.5 636.5z"/><path class="l" d="M3011.9 644.9L3001.1 641.4"/><path d="M2994.5 492.5L3006.5 594.5L3000.5 636.5L2991.5 540.5z"/><path class="l" d="M3004.5 577.1L2994.6 573.5"/><path class="l" d="M2996.5 509.8L2993.5 508.5"/><path d="M2985.5 399.5L2994.5 492.5L2991.5 540.5L2979.5 438.5z"/><path class="l" d="M2993.5 508.5L2987.4 505.8"/><path class="l" d="M2989.6 442.3L2979.5 438.3"/><path d="M2976.5 351.5L2985.5 399.5L2979.5 438.5L2970.5 363.5z"/><path class="l" d="M2979.5 438.3L2979.5 438.2"/><path class="l" d="M2980.9 375L2971.3 370.4"/><path d="M2964.5 372.5L2976.5 351.5L2970.5 363.5L2961.5 348.5z"/><path d="M2955.5 450.5L2964.5 372.5L2961.5 348.5L2949.5 402.5z"/><path class="l" d="M2955.5 450.2L2955.5 450.2"/><path class="l" d="M2963.7 379.7L2955.6 374.9"/><path d="M2946.5 558.5L2955.5 450.5L2949.5 402.5L2940.5 501.5z"/><path class="l" d="M2949.6 521.7L2942.5 520.5"/><path class="l" d="M2955.5 450.2L2945.4 448.1"/><path d="M2934.5 660.5L2946.5 558.5L2940.5 501.5L2931.5 609.5z"/><path class="l" d="M2942.4 593.5L2933 591.1"/><path class="l" d="M2942.5 520.5L2939 519.8"/><path d="M2925.5 735.5L2934.5 660.5L2931.5 609.5L2919.5 696.5z"/><path class="l" d="M2933.9 665.8L2924.3 661.7"/><path d="M2916.5 777.5L2925.5 735.5L2919.5 696.5L2910.5 756.5z"/><path class="l" d="M2924.7 739L2913.8 734.3"/><path d="M2904.5 801.5L2916.5 777.5L2910.5 756.5L2901.5 789.5z"/><path d="M2895.5 813.5L2904.5 801.5L2901.5 789.5L2889.5 804.5z"/><path d="M2886.5 816.5L2895.5 813.5L2889.5 804.5L2880.5 813.5z"/><path d="M2874.5 822.5L2886.5 816.5L2880.5 813.5L2871.5 816.5z"/><path d="M2865.5 825.5L2874.5 822.5L2871.5 816.5L2859.5 819.5z"/><path d="M2856.5 828.5L2865.5 825.5L2859.5 819.5L2850.5 822.5z"/><path d="M2844.5 831.5L2856.5 828.5L2850.5 822.5L2841.5 825.5z"/><path d="M2835.5 831.5L2844.5 831.5L2841.5 825.5L2829.5 828.5z"/><path d="M2826.5 834.5L2835.5 831.5L2829.5 828.5L2820.5 831.5z"/><path d="M2814.5 837.5L2826.5 834.5L2820.5 831.5L2808.5 834.5z"/><path d="M2805.5 840.5L2814.5 837.5L2808.5 834.5L2799.5 837.5z"/><path d="M2796.5 843.5L2805.5 840.5L2799.5 837.5L2790.5 840.5z"/><path d="M2784.5 846.5L2796.5 843.5L2790.5 840.5L2778.5 843.5z"/><path d="M2775.5 849.5L2784.5 846.5L2778.5 843.5L2769.5 843.5z"/><path d="M3261.5 720.5L3273.5 717.5L3267.5 711.5L3255.5 714.5z"/><path d="M3252.5 723.5L3261.5 720.5L3255.5 714.5L3246.5 717.5z"/><path d="M3243.5 726.5L3252.5 723.5L3246.5 717.5L3237.5 720.5z"/><path d="M3231.5 729.5L3243.5 726.5L3237.5 720.5L3225.5 723.5z"/><path d="M3222.5 732.5L3231.5 729.5L3225.5 723.5L3216.5 726.5z"/><path d="M3213.5 732.5L3222.5 732.5L3216.5 726.5L3207.5 729.5z"/><path d="M3201.5 735.5L3213.5 732.5L3207.5 729.5L3195.5 732.5z"/><path d="M3192.5 738.5L3201.5 735.5L3195.5 732.5L3186.5 735.5z"/><path d="M3180.5 741.5L3192.5 738.5L3186.5 735.5L3177.5 738.5z"/><path d="M3171.5 744.5L3180.5 741.5L3177.5 738.5L3165.5 741.5z"/><path d="M3162.5 747.5L3171.5 744.5L3165.5 741.5L3156.5 741.5z"/><path d="M3150.5 750.5L3162.5 747.5L3156.5 741.5L3147.5 744.5z"/><path d="M3141.5 753.5L3150.5 750.5L3147.5 744.5L3135.5 747.5z"/><path d="M3132.5 756.5L3141.5 753.5L3135.5 747.5L3126.5 750.5z"/><path d="M3120.5 759.5L3132.5 756.5L3126.5 750.5L3117.5 753.5z"/><path d="M3111.5 762.5L3120.5 759.5L3117.5 753.5L3105.5 756.5z"/><path d="M3102.5 765.5L3111.5 762.5L3105.5 756.5L3096.5 759.5z"/><path d="M3090.5 768.5L3102.5 765.5L3096.5 759.5L3087.5 762.5z"/><path d="M3081.5 771.5L3090.5 768.5L3087.5 762.5L3075.5 765.5z"/><path d="M3072.5 771.5L3081.5 771.5L3075.5 765.5L3066.5 768.5z"/><path d="M3060.5 771.5L3072.5 771.5L3066.5 768.5L3057.5 768.5z"/><path d="M3051.5 768.5L3060.5 771.5L3057.5 768.5L3045.5 768.5z"/><path d="M3042.5 750.5L3051.5 768.5L3045.5 768.5L3036.5 756.5z"/><path d="M3030.5 711.5L3042.5 750.5L3036.5 756.5L3027.5 729.5z"/><path class="l" d="M3031.5 714.8L3030.1 714.1"/><path d="M3021.5 642.5L3030.5 711.5L3027.5 729.5L3015.5 678.5z"/><path class="l" d="M3030.1 714.1L3023.1 710.6"/><path class="l" d="M3022.1 647.4L3020.7 647.1"/><path d="M3012.5 546.5L3021.5 642.5L3015.5 678.5L3006.5 594.5z"/><path class="l" d="M3020.7 647.1L3011.9 644.9"/><path class="l" d="M3015.6 579.5L3008.6 577.8"/><path d="M3000.5 444.5L3012.5 546.5L3006.5 594.5L2994.5 492.5z"/><path class="l" d="M3008.6 577.8L3004.5 577.1"/><path class="l" d="M3008.4 511.8L2996.5 509.8"/><path d="M2991.5 369.5L3000.5 444.5L2994.5 492.5L2985.5 399.5z"/><path class="l" d="M3000.5 444.2L2989.6 442.3"/><path class="l" d="M2992.3 376.4L2990.2 376"/><path d="M2982.5 357.5L2991.5 369.5L2985.5 399.5L2976.5 351.5z"/><path class="l" d="M2990.2 376L2980.9 375"/><path d="M2970.5 408.5L2982.5 357.5L2976.5 351.5L2964.5 372.5z"/><path class="l" d="M2976.6 382.4L2965.8 380.3"/><path d="M2961.5 507.5L2970.5 408.5L2964.5 372.5L2955.5 450.5z"/><path class="l" d="M2966.4 454.1L2955.5 450.2"/><path class="l" d="M2965.8 380.3L2963.7 379.7"/><path d="M2952.5 615.5L2961.5 507.5L2955.5 450.5L2946.5 558.5z"/><path class="l" d="M2954 597.1L2950.4 595.7"/><path class="l" d="M2960 525.8L2949.6 521.7"/><path d="M2940.5 705.5L2952.5 615.5L2946.5 558.5L2934.5 660.5z"/><path class="l" d="M2945.3 669.5L2935.3 666.2"/><path class="l" d="M2950.4 595.7L2942.4 593.5"/><path d="M2931.5 762.5L2940.5 705.5L2934.5 660.5L2925.5 735.5z"/><path class="l" d="M2934.8 741.4L2926.4 739.4"/><path class="l" d="M2935.3 666.2L2933.9 665.8"/><path d="M2922.5 795.5L2931.5 762.5L2925.5 735.5L2916.5 777.5z"/><path class="l" d="M2926.4 739.4L2924.7 739"/><path d="M2910.5 810.5L2922.5 795.5L2916.5 777.5L2904.5 801.5z"/><path d="M2901.5 819.5L2910.5 810.5L2904.5 801.5L2895.5 813.5z"/><path d="M2892.5 822.5L2901.5 819.5L2895.5 813.5L2886.5 816.5z"/><path d="M2880.5 825.5L2892.5 822.5L2886.5 816.5L2874.5 822.5z"/><path d="M2871.5 828.5L2880.5 825.5L2874.5 822.5L2865.5 825.5z"/><path d="M2862.5 831.5L2871.5 828.5L2865.5 825.5L2856.5 828.5z"/><path d="M2850.5 834.5L2862.5 831.5L2856.5 828.5L2844.5 831.5z"/><path d="M2841.5 837.5L2850.5 834.5L2844.5 831.5L2835.5 831.5z"/><path d="M2832.5 840.5L2841.5 837.5L2835.5 831.5L2826.5 834.5z"/><path d="M2820.5 843.5L2832.5 840.5L2826.5 834.5L2814.5 837.5z"/><path d="M2811.5 846.5L2820.5 843.5L2814.5 837.5L2805.5 840.5z"/><path d="M2802.5 849.5L2811.5 846.5L2805.5 840.5L2796.5 843.5z"/><path d="M2790.5 852.5L2802.5 849.5L2796.5 843.5L2784.5 846.5z"/><path d="M2781.5 855.5L2790.5 852.5L2784.5 846.5L2775.5 849.5z"/><path d="M3267.5 723.5L3276.5 720.5L3273.5 717.5L3261.5 720.5z"/><path d="M3258.5 726.5L3267.5 723.5L3261.5 720.5L3252.5 723.5z"/><path d="M3246.5 729.5L3258.5 726.5L3252.5 723.5L3243.5 726.5z"/><path d="M3237.5 732.5L3246.5 729.5L3243.5 726.5L3231.5 729.5z"/><path d="M3228.5 735.5L3237.5 732.5L3231.5 729.5L3222.5 732.5z"/><path d="M3216.5 738.5L3228.5 735.5L3222.5 732.5L3213.5 732.5z"/><path d="M3207.5 741.5L3216.5 738.5L3213.5 732.5L3201.5 735.5z"/><path d="M3198.5 744.5L3207.5 741.5L3201.5 735.5L3192.5 738.5z"/><path d="M3186.5 747.5L3198.5 744.5L3192.5 738.5L3180.5 741.5z"/><path d="M3177.5 750.5L3186.5 747.5L3180.5 741.5L3171.5 744.5z"/><path d="M3168.5 753.5L3177.5 750.5L3171.5 744.5L3162.5 747.5z"/><path d="M3156.5 756.5L3168.5 753.5L3162.5 747.5L3150.5 750.5z"/><path d="M3147.5 759.5L3156.5 756.5L3150.5 750.5L3141.5 753.5z"/><path d="M3138.5 762.5L3147.5 759.5L3141.5 753.5L3132.5 756.5z"/><path d="M3126.5 765.5L3138.5 762.5L3132.5 756.5L3120.5 759.5z"/><path d="M3117.5 765.5L3126.5 765.5L3120.5 759.5L3111.5 762.5z"/><path d="M3108.5 768.5L3117.5 765.5L3111.5 762.5L3102.5 765.5z"/><path d="M3096.5 771.5L3108.5 768.5L3102.5 765.5L3090.5 768.5z"/><path d="M3087.5 774.5L3096.5 771.5L3090.5 768.5L3081.5 771.5z"/><path d="M3078.5 777.5L3087.5 774.5L3081.5 771.5L3072.5 771.5z"/><path d="M3066.5 774.5L3078.5 777.5L3072.5 771.5L3060.5 771.5z"/><path d="M3057.5 765.5L3066.5 774.5L3060.5 771.5L3051.5 768.5z"/><path d="M3048.5 738.5L3057.5 765.5L3051.5 768.5L3042.5 750.5z"/><path d="M3036.5 684.5L3048.5 738.5L3042.5 750.5L3030.5 711.5z"/><path class="l" d="M3044.1 718.5L3031.5 714.8"/><path d="M3027.5 600.5L3036.5 684.5L3030.5 711.5L3021.5 642.5z"/><path class="l" d="M3032.9 650.9L3022.1 647.4"/><path d="M3018.5 498.5L3027.5 600.5L3021.5 642.5L3012.5 546.5z"/><path class="l" d="M3026 583.1L3015.6 579.5"/><path class="l" d="M3020 515.8L3016.5 514.5"/><path d="M3006.5 405.5L3018.5 498.5L3012.5 546.5L3000.5 444.5z"/><path class="l" d="M3016.5 514.5L3008.4 511.8"/><path class="l" d="M3012 448.3L3000.5 444.3"/><path d="M2997.5 357.5L3006.5 405.5L3000.5 444.5L2991.5 369.5z"/><path class="l" d="M3000.5 444.3L3000.5 444.2"/><path class="l" d="M3001.9 381L2992.3 376.4"/><path d="M2988.5 378.5L2997.5 357.5L2991.5 369.5L2982.5 357.5z"/><path d="M2976.5 459.5L2988.5 378.5L2982.5 357.5L2970.5 408.5z"/><path class="l" d="M2976.5 459.2L2976.5 459.2"/><path class="l" d="M2987.4 386L2976.6 382.4"/><path d="M2967.5 567.5L2976.5 459.5L2970.5 408.5L2961.5 507.5z"/><path class="l" d="M2970.6 530.7L2963.5 527.5"/><path class="l" d="M2976.5 459.2L2966.4 454.1"/><path d="M2958.5 666.5L2967.5 567.5L2961.5 507.5L2952.5 615.5z"/><path class="l" d="M2964.4 601.5L2954 597.1"/><path class="l" d="M2963.5 527.5L2960 525.8"/><path d="M2946.5 741.5L2958.5 666.5L2952.5 615.5L2940.5 705.5z"/><path class="l" d="M2957.7 671.8L2945.3 669.5"/><path d="M2937.5 786.5L2946.5 741.5L2940.5 705.5L2931.5 762.5z"/><path class="l" d="M2945.7 745.3L2934.8 741.4"/><path d="M2928.5 807.5L2937.5 786.5L2931.5 762.5L2922.5 795.5z"/><path d="M2916.5 819.5L2928.5 807.5L2922.5 795.5L2910.5 810.5z"/><path d="M2907.5 825.5L2916.5 819.5L2910.5 810.5L2901.5 819.5z"/><path d="M2898.5 828.5L2907.5 825.5L2901.5 819.5L2892.5 822.5z"/><path d="M2886.5 831.5L2898.5 828.5L2892.5 822.5L2880.5 825.5z"/><path d="M2877.5 834.5L2886.5 831.5L2880.5 825.5L2871.5 828.5z"/><path d="M2868.5 837.5L2877.5 834.5L2871.5 828.5L2862.5 831.5z"/><path d="M2856.5 840.5L2868.5 837.5L2862.5 831.5L2850.5 834.5z"/><path d="M2847.5 843.5L2856.5 840.5L2850.5 834.5L2841.5 837.5z"/><path d="M2838.5 846.5L2847.5 843.5L2841.5 837.5L2832.5 840.5z"/><path d="M2826.5 849.5L2838.5 846.5L2832.5 840.5L2820.5 843.5z"/><path d="M2817.5 852.5L2826.5 849.5L2820.5 843.5L2811.5 846.5z"/><path d="M2808.5 852.5L2817.5 852.5L2811.5 846.5L2802.5 849.5z"/><path d="M2796.5 855.5L2808.5 852.5L2802.5 849.5L2790.5 852.5z"/><path d="M2787.5 858.5L2796.5 855.5L2790.5 852.5L2781.5 855.5z"/><path d="M3273.5 729.5L3282.5 726.5L3276.5 720.5L3267.5 723.5z"/><path d="M3264.5 732.5L3273.5 729.5L3267.5 723.5L3258.5 726.5z"/><path d="M3252.5 735.5L3264.5 732.5L3258.5 726.5L3246.5 729.5z"/><path d="M3243.5 738.5L3252.5 735.5L3246.5 729.5L3237.5 732.5z"/><path d="M3234.5 741.5L3243.5 738.5L3237.5 732.5L3228.5 735.5z"/><path d="M3222.5 744.5L3234.5 741.5L3228.5 735.5L3216.5 738.5z"/><path d="M3213.5 747.5L3222.5 744.5L3216.5 738.5L3207.5 741.5z"/><path d="M3204.5 750.5L3213.5 747.5L3207.5 741.5L3198.5 744.5z"/><path d="M3192.5 753.5L3204.5 750.5L3198.5 744.5L3186.5 747.5z"/><path d="M3183.5 753.5L3192.5 753.5L3186.5 747.5L3177.5 750.5z"/><path d="M3174.5 756.5L3183.5 753.5L3177.5 750.5L3168.5 753.5z"/><path d="M3162.5 759.5L3174.5 756.5L3168.5 753.5L3156.5 756.5z"/><path d="M3153.5 762.5L3162.5 759.5L3156.5 756.5L3147.5 759.5z"/><path d="M3144.5 765.5L3153.5 762.5L3147.5 759.5L3138.5 762.5z"/><path d="M3132.5 768.5L3144.5 765.5L3138.5 762.5L3126.5 765.5z"/><path d="M3123.5 771.5L3132.5 768.5L3126.5 765.5L3117.5 765.5z"/><path d="M3114.5 774.5L3123.5 771.5L3117.5 765.5L3108.5 768.5z"/><path d="M3102.5 777.5L3114.5 774.5L3108.5 768.5L3096.5 771.5z"/><path d="M3093.5 780.5L3102.5 777.5L3096.5 771.5L3087.5 774.5z"/><path d="M3084.5 780.5L3093.5 780.5L3087.5 774.5L3078.5 777.5z"/><path d="M3072.5 774.5L3084.5 780.5L3078.5 777.5L3066.5 774.5z"/><path d="M3063.5 756.5L3072.5 774.5L3066.5 774.5L3057.5 765.5z"/><path d="M3054.5 717.5L3063.5 756.5L3057.5 765.5L3048.5 738.5z"/><path class="l" d="M3055.3 720.8L3053.6 720.5"/><path d="M3042.5 651.5L3054.5 717.5L3048.5 738.5L3036.5 684.5z"/><path class="l" d="M3053.6 720.5L3044.1 718.5"/><path class="l" d="M3043.3 656.2L3041.7 655.7"/><path d="M3033.5 555.5L3042.5 651.5L3036.5 684.5L3027.5 600.5z"/><path class="l" d="M3041.7 655.7L3032.9 650.9"/><path class="l" d="M3036.6 588.5L3029.6 584.9"/><path d="M3024.5 453.5L3033.5 555.5L3027.5 600.5L3018.5 498.5z"/><path class="l" d="M3029.6 584.9L3026 583.1"/><path class="l" d="M3030.4 520.8L3020 515.8"/><path d="M3012.5 378.5L3024.5 453.5L3018.5 498.5L3006.5 405.5z"/><path class="l" d="M3024.5 453.2L3012 448.3"/><path class="l" d="M3013.6 385.4L3011.2 384.4"/><path d="M3003.5 363.5L3012.5 378.5L3006.5 405.5L2997.5 357.5z"/><path class="l" d="M3011.2 384.4L3001.9 381"/><path d="M2994.5 417.5L3003.5 363.5L2997.5 357.5L2988.5 378.5z"/><path class="l" d="M2999.1 389.9L2989.8 387"/><path d="M2982.5 513.5L2994.5 417.5L2988.5 378.5L2976.5 459.5z"/><path class="l" d="M2989 461.7L2976.5 459.2"/><path class="l" d="M2989.8 387L2987.4 386"/><path d="M2973.5 624.5L2982.5 513.5L2976.5 459.5L2967.5 567.5z"/><path class="l" d="M2975 605.6L2971.4 604.7"/><path class="l" d="M2981 532.3L2970.6 530.7"/><path d="M2964.5 711.5L2973.5 624.5L2967.5 567.5L2958.5 666.5z"/><path class="l" d="M2968.1 676.7L2959.3 672.2"/><path class="l" d="M2971.4 604.7L2964.4 601.5"/><path d="M2952.5 771.5L2964.5 711.5L2958.5 666.5L2946.5 741.5z"/><path class="l" d="M2956.9 749.3L2947.4 745.8"/><path class="l" d="M2959.3 672.2L2957.7 671.8"/><path d="M2943.5 801.5L2952.5 771.5L2946.5 741.5L2937.5 786.5z"/><path class="l" d="M2947.4 745.8L2945.7 745.3"/><path d="M2934.5 819.5L2943.5 801.5L2937.5 786.5L2928.5 807.5z"/><path d="M2922.5 825.5L2934.5 819.5L2928.5 807.5L2916.5 819.5z"/><path d="M2913.5 831.5L2922.5 825.5L2916.5 819.5L2907.5 825.5z"/><path d="M2904.5 834.5L2913.5 831.5L2907.5 825.5L2898.5 828.5z"/><path d="M2892.5 837.5L2904.5 834.5L2898.5 828.5L2886.5 831.5z"/><path d="M2883.5 840.5L2892.5 837.5L2886.5 831.5L2877.5 834.5z"/><path d="M2874.5 843.5L2883.5 840.5L2877.5 834.5L2868.5 837.5z"/><path d="M2862.5 843.5L2874.5 843.5L2868.5 837.5L2856.5 840.5z"/><path d="M2853.5 846.5L2862.5 843.5L2856.5 840.5L2847.5 843.5z"/><path d="M2841.5 849.5L2853.5 846.5L2847.5 843.5L2838.5 846.5z"/><path d="M2832.5 852.5L2841.5 849.5L2838.5 846.5L2826.5 849.5z"/><path d="M2823.5 855.5L2832.5 852.5L2826.5 849.5L2817.5 852.5z"/><path d="M2811.5 858.5L2823.5 855.5L2817.5 852.5L2808.5 852.5z"/><path d="M2802.5 861.5L2811.5 858.5L2808.5 852.5L2796.5 855.5z"/><path d="M2793.5 864.5L2802.5 861.5L2796.5 855.5L2787.5 858.5z"/><path d="M3279.5 735.5L3288.5 732.5L3282.5 726.5L3273.5 729.5z"/><path d="M3270.5 738.5L3279.5 735.5L3273.5 729.5L3264.5 732.5z"/><path d="M3258.5 741.5L3270.5 738.5L3264.5 732.5L3252.5 735.5z"/><path d="M3249.5 741.5L3258.5 741.5L3252.5 735.5L3243.5 738.5z"/><path d="M3240.5 744.5L3249.5 741.5L3243.5 738.5L3234.5 741.5z"/><path d="M3228.5 747.5L3240.5 744.5L3234.5 741.5L3222.5 744.5z"/><path d="M3219.5 750.5L3228.5 747.5L3222.5 744.5L3213.5 747.5z"/><path d="M3210.5 753.5L3219.5 750.5L3213.5 747.5L3204.5 750.5z"/><path d="M3198.5 756.5L3210.5 753.5L3204.5 750.5L3192.5 753.5z"/><path d="M3189.5 759.5L3198.5 756.5L3192.5 753.5L3183.5 753.5z"/><path d="M3180.5 762.5L3189.5 759.5L3183.5 753.5L3174.5 756.5z"/><path d="M3168.5 765.5L3180.5 762.5L3174.5 756.5L3162.5 759.5z"/><path d="M3159.5 768.5L3168.5 765.5L3162.5 759.5L3153.5 762.5z"/><path d="M3150.5 771.5L3159.5 768.5L3153.5 762.5L3144.5 765.5z"/><path d="M3138.5 774.5L3150.5 771.5L3144.5 765.5L3132.5 768.5z"/><path d="M3129.5 777.5L3138.5 774.5L3132.5 768.5L3123.5 771.5z"/><path d="M3120.5 780.5L3129.5 777.5L3123.5 771.5L3114.5 774.5z"/><path d="M3108.5 780.5L3120.5 780.5L3114.5 774.5L3102.5 777.5z"/><path d="M3099.5 783.5L3108.5 780.5L3102.5 777.5L3093.5 780.5z"/><path d="M3090.5 780.5L3099.5 783.5L3093.5 780.5L3084.5 780.5z"/><path d="M3078.5 771.5L3090.5 780.5L3084.5 780.5L3072.5 774.5z"/><path d="M3069.5 744.5L3078.5 771.5L3072.5 774.5L3063.5 756.5z"/><path d="M3060.5 690.5L3069.5 744.5L3063.5 756.5L3054.5 717.5z"/><path class="l" d="M3066.2 724.5L3055.3 720.8"/><path d="M3048.5 609.5L3060.5 690.5L3054.5 717.5L3042.5 651.5z"/><path class="l" d="M3055.7 658.1L3043.3 656.2"/><path d="M3039.5 504.5L3048.5 609.5L3042.5 651.5L3033.5 555.5z"/><path class="l" d="M3047 591.6L3036.6 588.5"/><path class="l" d="M3041 522.3L3037.5 521.5"/><path d="M3030.5 411.5L3039.5 504.5L3033.5 555.5L3024.5 453.5z"/><path class="l" d="M3037.5 521.5L3030.4 520.8"/><path class="l" d="M3034.6 454.3L3024.5 453.2"/><path d="M3018.5 366.5L3030.5 411.5L3024.5 453.5L3012.5 378.5z"/><path class="l" d="M3024.5 453.2L3024.5 453.2"/><path class="l" d="M3024.4 388.5L3013.6 385.4"/><path d="M3009.5 384.5L3018.5 366.5L3012.5 378.5L3003.5 363.5z"/><path d="M2997.5 465.5L3009.5 384.5L3003.5 363.5L2994.5 417.5z"/><path class="l" d="M2997.5 465.2L2997.5 465.2"/><path class="l" d="M3008.4 392L2999.1 389.9"/><path d="M2988.5 573.5L2997.5 465.5L2994.5 417.5L2982.5 513.5z"/><path class="l" d="M2991.6 536.7L2984.5 533.5"/><path class="l" d="M2997.5 465.2L2989 461.7"/><path d="M2979.5 675.5L2988.5 573.5L2982.5 513.5L2973.5 624.5z"/><path class="l" d="M2985.4 608.5L2975 605.6"/><path class="l" d="M2984.5 533.5L2981 532.3"/><path d="M2967.5 747.5L2979.5 675.5L2973.5 624.5L2964.5 711.5z"/><path class="l" d="M2978.7 680.6L2968.1 676.7"/><path d="M2958.5 792.5L2967.5 747.5L2964.5 711.5L2952.5 771.5z"/><path class="l" d="M2966.7 751.3L2956.9 749.3"/><path d="M2949.5 816.5L2958.5 792.5L2952.5 771.5L2943.5 801.5z"/><path d="M2937.5 825.5L2949.5 816.5L2943.5 801.5L2934.5 819.5z"/><path d="M2928.5 831.5L2937.5 825.5L2934.5 819.5L2922.5 825.5z"/><path d="M2919.5 834.5L2928.5 831.5L2922.5 825.5L2913.5 831.5z"/><path d="M2907.5 837.5L2919.5 834.5L2913.5 831.5L2904.5 834.5z"/><path d="M2898.5 840.5L2907.5 837.5L2904.5 834.5L2892.5 837.5z"/><path d="M2889.5 843.5L2898.5 840.5L2892.5 837.5L2883.5 840.5z"/><path d="M2877.5 846.5L2889.5 843.5L2883.5 840.5L2874.5 843.5z"/><path d="M2868.5 849.5L2877.5 846.5L2874.5 843.5L2862.5 843.5z"/><path d="M2859.5 852.5L2868.5 849.5L2862.5 843.5L2853.5 846.5z"/><path d="M2847.5 855.5L2859.5 852.5L2853.5 846.5L2841.5 849.5z"/><path d="M2838.5 858.5L2847.5 855.5L2841.5 849.5L2832.5 852.5z"/><path d="M2829.5 861.5L2838.5 858.5L2832.5 852.5L2823.5 855.5z"/><path d="M2817.5 864.5L2829.5 861.5L2823.5 855.5L2811.5 858.5z"/><path d="M2808.5 867.5L2817.5 864.5L2811.5 858.5L2802.5 861.5z"/><path d="M2799.5 870.5L2808.5 867.5L2802.5 861.5L2793.5 864.5z"/><path d="M3285.5 738.5L3294.5 735.5L3288.5 732.5L3279.5 735.5z"/><path d="M3276.5 741.5L3285.5 738.5L3279.5 735.5L3270.5 738.5z"/><path d="M3264.5 744.5L3276.5 741.5L3270.5 738.5L3258.5 741.5z"/><path d="M3255.5 747.5L3264.5 744.5L3258.5 741.5L3249.5 741.5z"/><path d="M3246.5 750.5L3255.5 747.5L3249.5 741.5L3240.5 744.5z"/><path d="M3234.5 753.5L3246.5 750.5L3240.5 744.5L3228.5 747.5z"/><path d="M3225.5 756.5L3234.5 753.5L3228.5 747.5L3219.5 750.5z"/><path d="M3216.5 759.5L3225.5 756.5L3219.5 750.5L3210.5 753.5z"/><path d="M3204.5 762.5L3216.5 759.5L3210.5 753.5L3198.5 756.5z"/><path d="M3195.5 765.5L3204.5 762.5L3198.5 756.5L3189.5 759.5z"/><path d="M3183.5 768.5L3195.5 765.5L3189.5 759.5L3180.5 762.5z"/><path d="M3174.5 771.5L3183.5 768.5L3180.5 762.5L3168.5 765.5z"/><path d="M3165.5 774.5L3174.5 771.5L3168.5 765.5L3159.5 768.5z"/><path d="M3153.5 777.5L3165.5 774.5L3159.5 768.5L3150.5 771.5z"/><path d="M3144.5 777.5L3153.5 777.5L3150.5 771.5L3138.5 774.5z"/><path d="M3135.5 780.5L3144.5 777.5L3138.5 774.5L3129.5 777.5z"/><path d="M3123.5 783.5L3135.5 780.5L3129.5 777.5L3120.5 780.5z"/><path d="M3114.5 786.5L3123.5 783.5L3120.5 780.5L3108.5 780.5z"/><path d="M3105.5 786.5L3114.5 786.5L3108.5 780.5L3099.5 783.5z"/><path d="M3093.5 780.5L3105.5 786.5L3099.5 783.5L3090.5 780.5z"/><path d="M3084.5 765.5L3093.5 780.5L3090.5 780.5L3078.5 771.5z"/><path d="M3075.5 726.5L3084.5 765.5L3078.5 771.5L3069.5 744.5z"/><path class="l" d="M3076.3 729.8L3074.6 729.1"/><path d="M3063.5 657.5L3075.5 726.5L3069.5 744.5L3060.5 690.5z"/><path class="l" d="M3074.6 729.1L3066.2 724.5"/><path class="l" d="M3064.3 662.4L3063.1 661.7"/><path d="M3054.5 561.5L3063.5 657.5L3060.5 690.5L3048.5 609.5z"/><path class="l" d="M3063.1 661.7L3055.7 658.1"/><path class="l" d="M3057.6 594.5L3050.6 592.8"/><path d="M3045.5 459.5L3054.5 561.5L3048.5 609.5L3039.5 504.5z"/><path class="l" d="M3050.6 592.8L3047 591.6"/><path class="l" d="M3051.4 526.8L3041 522.3"/><path d="M3033.5 384.5L3045.5 459.5L3039.5 504.5L3030.5 411.5z"/><path class="l" d="M3045.5 459.2L3034.6 454.3"/><path class="l" d="M3034.6 391.4L3032.8 390.4"/><path d="M3024.5 369.5L3033.5 384.5L3030.5 411.5L3018.5 366.5z"/><path class="l" d="M3032.8 390.4L3024.4 388.5"/><path d="M3015.5 423.5L3024.5 369.5L3018.5 366.5L3009.5 384.5z"/><path class="l" d="M3020.1 395.9L3010.8 393"/><path d="M3003.5 522.5L3015.5 423.5L3009.5 384.5L2997.5 465.5z"/><path class="l" d="M3010 469.1L2997.5 465.2"/><path class="l" d="M3010.8 393L3008.4 392"/><path d="M2994.5 630.5L3003.5 522.5L2997.5 465.5L2988.5 573.5z"/><path class="l" d="M2996 612.1L2992.4 610.7"/><path class="l" d="M3002 540.8L2991.6 536.7"/><path d="M2985.5 720.5L2994.5 630.5L2988.5 573.5L2979.5 675.5z"/><path class="l" d="M2989.1 684.5L2980.3 681.2"/><path class="l" d="M2992.4 610.7L2985.4 608.5"/><path d="M2973.5 777.5L2985.5 720.5L2979.5 675.5L2967.5 747.5z"/><path class="l" d="M2977.9 756.4L2968.4 751.8"/><path class="l" d="M2980.3 681.2L2978.7 680.6"/><path d="M2964.5 810.5L2973.5 777.5L2967.5 747.5L2958.5 792.5z"/><path class="l" d="M2968.4 751.8L2966.7 751.3"/><path d="M2955.5 825.5L2964.5 810.5L2958.5 792.5L2949.5 816.5z"/><path d="M2943.5 834.5L2955.5 825.5L2949.5 816.5L2937.5 825.5z"/><path d="M2934.5 837.5L2943.5 834.5L2937.5 825.5L2928.5 831.5z"/><path d="M2925.5 840.5L2934.5 837.5L2928.5 831.5L2919.5 834.5z"/><path d="M2913.5 843.5L2925.5 840.5L2919.5 834.5L2907.5 837.5z"/><path d="M2904.5 846.5L2913.5 843.5L2907.5 837.5L2898.5 840.5z"/><path d="M2895.5 849.5L2904.5 846.5L2898.5 840.5L2889.5 843.5z"/><path d="M2883.5 852.5L2895.5 849.5L2889.5 843.5L2877.5 846.5z"/><path d="M2874.5 855.5L2883.5 852.5L2877.5 846.5L2868.5 849.5z"/><path d="M2865.5 858.5L2874.5 855.5L2868.5 849.5L2859.5 852.5z"/><path d="M2853.5 861.5L2865.5 858.5L2859.5 852.5L2847.5 855.5z"/><path d="M2844.5 864.5L2853.5 861.5L2847.5 855.5L2838.5 858.5z"/><path d="M2835.5 864.5L2844.5 864.5L2838.5 858.5L2829.5 861.5z"/><path d="M2823.5 867.5L2835.5 864.5L2829.5 861.5L2817.5 864.5z"/><path d="M2814.5 870.5L2823.5 867.5L2817.5 864.5L2808.5 867.5z"/><path d="M2805.5 873.5L2814.5 870.5L2808.5 867.5L2799.5 870.5z"/><path d="M3291.5 744.5L3300.5 741.5L3294.5 735.5L3285.5 738.5z"/><path d="M3279.5 747.5L3291.5 744.5L3285.5 738.5L3276.5 741.5z"/><path d="M3270.5 750.5L3279.5 747.5L3276.5 741.5L3264.5 744.5z"/><path d="M3261.5 753.5L3270.5 750.5L3264.5 744.5L3255.5 747.5z"/><path d="M3249.5 756.5L3261.5 753.5L3255.5 747.5L3246.5 750.5z"/><path d="M3240.5 759.5L3249.5 756.5L3246.5 750.5L3234.5 753.5z"/><path d="M3231.5 762.5L3240.5 759.5L3234.5 753.5L3225.5 756.5z"/><path d="M3219.5 765.5L3231.5 762.5L3225.5 756.5L3216.5 759.5z"/><path d="M3210.5 765.5L3219.5 765.5L3216.5 759.5L3204.5 762.5z"/><path d="M3201.5 768.5L3210.5 765.5L3204.5 762.5L3195.5 765.5z"/><path d="M3189.5 771.5L3201.5 768.5L3195.5 765.5L3183.5 768.5z"/><path d="M3180.5 774.5L3189.5 771.5L3183.5 768.5L3174.5 771.5z"/><path d="M3171.5 777.5L3180.5 774.5L3174.5 771.5L3165.5 774.5z"/><path d="M3159.5 780.5L3171.5 777.5L3165.5 774.5L3153.5 777.5z"/><path d="M3150.5 783.5L3159.5 780.5L3153.5 777.5L3144.5 777.5z"/><path d="M3141.5 786.5L3150.5 783.5L3144.5 777.5L3135.5 780.5z"/><path d="M3129.5 789.5L3141.5 786.5L3135.5 780.5L3123.5 783.5z"/><path d="M3120.5 789.5L3129.5 789.5L3123.5 783.5L3114.5 786.5z"/><path d="M3111.5 789.5L3120.5 789.5L3114.5 786.5L3105.5 786.5z"/><path d="M3099.5 777.5L3111.5 789.5L3105.5 786.5L3093.5 780.5z"/><path d="M3090.5 750.5L3099.5 777.5L3093.5 780.5L3084.5 765.5z"/><path d="M3081.5 699.5L3090.5 750.5L3084.5 765.5L3075.5 726.5z"/><path class="l" d="M3087.2 731.6L3076.3 729.8"/><path d="M3069.5 615.5L3081.5 699.5L3075.5 726.5L3063.5 657.5z"/><path class="l" d="M3076.7 665.9L3064.3 662.4"/><path d="M3060.5 513.5L3069.5 615.5L3063.5 657.5L3054.5 561.5z"/><path class="l" d="M3068 598.1L3057.6 594.5"/><path class="l" d="M3062 530.8L3058.5 529.5"/><path d="M3051.5 420.5L3060.5 513.5L3054.5 561.5L3045.5 459.5z"/><path class="l" d="M3058.5 529.5L3051.4 526.8"/><path class="l" d="M3055.6 463.3L3045.5 459.3"/><path d="M3039.5 372.5L3051.5 420.5L3045.5 459.5L3033.5 384.5z"/><path class="l" d="M3045.5 459.3L3045.5 459.2"/><path class="l" d="M3045.4 396L3034.6 391.4"/><path d="M3030.5 393.5L3039.5 372.5L3033.5 384.5L3024.5 369.5z"/><path d="M3021.5 471.5L3030.5 393.5L3024.5 369.5L3015.5 423.5z"/><path class="l" d="M3021.5 471.2L3021.5 471.2"/><path class="l" d="M3029.7 400.7L3020.1 395.9"/><path d="M3009.5 579.5L3021.5 471.5L3015.5 423.5L3003.5 522.5z"/><path class="l" d="M3013.6 542.7L3005.5 541.5"/><path class="l" d="M3021.5 471.2L3010 469.1"/><path d="M3000.5 681.5L3009.5 579.5L3003.5 522.5L2994.5 630.5z"/><path class="l" d="M3006.4 614.5L2996 612.1"/><path class="l" d="M3005.5 541.5L3002 540.8"/><path d="M2991.5 756.5L3000.5 681.5L2994.5 630.5L2985.5 720.5z"/><path class="l" d="M2999.9 686.8L2989.1 684.5"/><path d="M2979.5 798.5L2991.5 756.5L2985.5 720.5L2973.5 777.5z"/><path class="l" d="M2990.5 760L2977.9 756.4"/><path d="M2970.5 822.5L2979.5 798.5L2973.5 777.5L2964.5 810.5z"/><path d="M2961.5 834.5L2970.5 822.5L2964.5 810.5L2955.5 825.5z"/><path d="M2949.5 837.5L2961.5 834.5L2955.5 825.5L2943.5 834.5z"/><path d="M2940.5 843.5L2949.5 837.5L2943.5 834.5L2934.5 837.5z"/><path d="M2931.5 846.5L2940.5 843.5L2934.5 837.5L2925.5 840.5z"/><path d="M2919.5 849.5L2931.5 846.5L2925.5 840.5L2913.5 843.5z"/><path d="M2910.5 852.5L2919.5 849.5L2913.5 843.5L2904.5 846.5z"/><path d="M2901.5 852.5L2910.5 852.5L2904.5 846.5L2895.5 849.5z"/><path d="M2889.5 855.5L2901.5 852.5L2895.5 849.5L2883.5 852.5z"/><path d="M2880.5 858.5L2889.5 855.5L2883.5 852.5L2874.5 855.5z"/><path d="M2871.5 861.5L2880.5 858.5L2874.5 855.5L2865.5 858.5z"/><path d="M2859.5 864.5L2871.5 861.5L2865.5 858.5L2853.5 861.5z"/><path d="M2850.5 867.5L2859.5 864.5L2853.5 861.5L2844.5 864.5z"/><path d="M2841.5 870.5L2850.5 867.5L2844.5 864.5L2835.5 864.5z"/><path d="M2829.5 873.5L2841.5 870.5L2835.5 864.5L2823.5 867.5z"/><path d="M2820.5 876.5L2829.5 873.5L2823.5 867.5L2814.5 870.5z"/><path d="M2811.5 879.5L2820.5 876.5L2814.5 870.5L2805.5 873.5z"/><path d="M3297.5 750.5L3306.5 747.5L3300.5 741.5L3291.5 744.5z"/><path d="M3285.5 753.5L3297.5 750.5L3291.5 744.5L3279.5 747.5z"/><path d="M3276.5 753.5L3285.5 753.5L3279.5 747.5L3270.5 750.5z"/><path d="M3267.5 756.5L3276.5 753.5L3270.5 750.5L3261.5 753.5z"/><path d="M3255.5 759.5L3267.5 756.5L3261.5 753.5L3249.5 756.5z"/><path d="M3246.5 762.5L3255.5 759.5L3249.5 756.5L3240.5 759.5z"/><path d="M3237.5 765.5L3246.5 762.5L3240.5 759.5L3231.5 762.5z"/><path d="M3225.5 768.5L3237.5 765.5L3231.5 762.5L3219.5 765.5z"/><path d="M3216.5 771.5L3225.5 768.5L3219.5 765.5L3210.5 765.5z"/><path d="M3207.5 774.5L3216.5 771.5L3210.5 765.5L3201.5 768.5z"/><path d="M3195.5 777.5L3207.5 774.5L3201.5 768.5L3189.5 771.5z"/><path d="M3186.5 780.5L3195.5 777.5L3189.5 771.5L3180.5 774.5z"/><path d="M3177.5 783.5L3186.5 780.5L3180.5 774.5L3171.5 777.5z"/><path d="M3165.5 786.5L3177.5 783.5L3171.5 777.5L3159.5 780.5z"/><path d="M3156.5 789.5L3165.5 786.5L3159.5 780.5L3150.5 783.5z"/><path d="M3147.5 792.5L3156.5 789.5L3150.5 783.5L3141.5 786.5z"/><path d="M3135.5 792.5L3147.5 792.5L3141.5 786.5L3129.5 789.5z"/><path d="M3126.5 792.5L3135.5 792.5L3129.5 789.5L3120.5 789.5z"/><path d="M3117.5 789.5L3126.5 792.5L3120.5 789.5L3111.5 789.5z"/><path d="M3105.5 771.5L3117.5 789.5L3111.5 789.5L3099.5 777.5z"/><path d="M3096.5 732.5L3105.5 771.5L3099.5 777.5L3090.5 750.5z"/><path class="l" d="M3097.3 735.8L3095.6 735.1"/><path d="M3087.5 663.5L3096.5 732.5L3090.5 750.5L3081.5 699.5z"/><path class="l" d="M3095.6 735.1L3087.2 731.6"/><path class="l" d="M3088.1 668.4L3086.7 668.1"/><path d="M3075.5 567.5L3087.5 663.5L3081.5 699.5L3069.5 615.5z"/><path class="l" d="M3086.7 668.1L3076.7 665.9"/><path class="l" d="M3079.6 600.5L3071.6 598.8"/><path d="M3066.5 465.5L3075.5 567.5L3069.5 615.5L3060.5 513.5z"/><path class="l" d="M3071.6 598.8L3068 598.1"/><path class="l" d="M3072.4 532.8L3062 530.8"/><path d="M3057.5 393.5L3066.5 465.5L3060.5 513.5L3051.5 420.5z"/><path class="l" d="M3066.5 465.2L3055.6 463.3"/><path class="l" d="M3058.3 400.1L3056.2 399.4"/><path d="M3045.5 378.5L3057.5 393.5L3051.5 420.5L3039.5 372.5z"/><path class="l" d="M3056.2 399.4L3045.4 396"/><path d="M3036.5 429.5L3045.5 378.5L3039.5 372.5L3030.5 393.5z"/><path class="l" d="M3041.1 403.4L3031.8 401.3"/><path d="M3027.5 528.5L3036.5 429.5L3030.5 393.5L3021.5 471.5z"/><path class="l" d="M3032.4 475.1L3021.5 471.2"/><path class="l" d="M3031.8 401.3L3029.7 400.7"/><path d="M3015.5 636.5L3027.5 528.5L3021.5 471.5L3009.5 579.5z"/><path class="l" d="M3017.5 618.1L3013.4 616.7"/><path class="l" d="M3025.5 546.8L3013.6 542.7"/><path d="M3006.5 726.5L3015.5 636.5L3009.5 579.5L3000.5 681.5z"/><path class="l" d="M3010.1 690.5L3001.3 687.2"/><path class="l" d="M3013.4 616.7L3006.4 614.5"/><path d="M2997.5 783.5L3006.5 726.5L3000.5 681.5L2991.5 756.5z"/><path class="l" d="M3000.8 762.4L2992.4 760.4"/><path class="l" d="M3001.3 687.2L2999.9 686.8"/><path d="M2985.5 816.5L2997.5 783.5L2991.5 756.5L2979.5 798.5z"/><path class="l" d="M2992.4 760.4L2990.5 760"/><path d="M2976.5 831.5L2985.5 816.5L2979.5 798.5L2970.5 822.5z"/><path d="M2967.5 840.5L2976.5 831.5L2970.5 822.5L2961.5 834.5z"/><path d="M2955.5 843.5L2967.5 840.5L2961.5 834.5L2949.5 837.5z"/><path d="M2946.5 846.5L2955.5 843.5L2949.5 837.5L2940.5 843.5z"/><path d="M2937.5 849.5L2946.5 846.5L2940.5 843.5L2931.5 846.5z"/><path d="M2925.5 852.5L2937.5 849.5L2931.5 846.5L2919.5 849.5z"/><path d="M2916.5 855.5L2925.5 852.5L2919.5 849.5L2910.5 852.5z"/><path d="M2907.5 858.5L2916.5 855.5L2910.5 852.5L2901.5 852.5z"/><path d="M2895.5 861.5L2907.5 858.5L2901.5 852.5L2889.5 855.5z"/><path d="M2886.5 864.5L2895.5 861.5L2889.5 855.5L2880.5 858.5z"/><path d="M2877.5 867.5L2886.5 864.5L2880.5 858.5L2871.5 861.5z"/><path d="M2865.5 870.5L2877.5 867.5L2871.5 861.5L2859.5 864.5z"/><path d="M2856.5 873.5L2865.5 870.5L2859.5 864.5L2850.5 867.5z"/><path d="M2844.5 876.5L2856.5 873.5L2850.5 867.5L2841.5 870.5z"/><path d="M2835.5 879.5L2844.5 876.5L2841.5 870.5L2829.5 873.5z"/><path d="M2826.5 882.5L2835.5 879.5L2829.5 873.5L2820.5 876.5z"/><path d="M2814.5 885.5L2826.5 882.5L2820.5 876.5L2811.5 879.5z"/><path d="M3303.5 753.5L3312.5 750.5L3306.5 747.5L3297.5 750.5z"/><path d="M3291.5 756.5L3303.5 753.5L3297.5 750.5L3285.5 753.5z"/><path d="M3282.5 759.5L3291.5 756.5L3285.5 753.5L3276.5 753.5z"/><path d="M3273.5 762.5L3282.5 759.5L3276.5 753.5L3267.5 756.5z"/><path d="M3261.5 765.5L3273.5 762.5L3267.5 756.5L3255.5 759.5z"/><path d="M3252.5 768.5L3261.5 765.5L3255.5 759.5L3246.5 762.5z"/><path d="M3243.5 771.5L3252.5 768.5L3246.5 762.5L3237.5 765.5z"/><path d="M3231.5 774.5L3243.5 771.5L3237.5 765.5L3225.5 768.5z"/><path d="M3222.5 777.5L3231.5 774.5L3225.5 768.5L3216.5 771.5z"/><path d="M3213.5 780.5L3222.5 777.5L3216.5 771.5L3207.5 774.5z"/><path d="M3201.5 783.5L3213.5 780.5L3207.5 774.5L3195.5 777.5z"/><path d="M3192.5 786.5L3201.5 783.5L3195.5 777.5L3186.5 780.5z"/><path d="M3183.5 786.5L3192.5 786.5L3186.5 780.5L3177.5 783.5z"/><path d="M3171.5 789.5L3183.5 786.5L3177.5 783.5L3165.5 786.5z"/><path d="M3162.5 792.5L3171.5 789.5L3165.5 786.5L3156.5 789.5z"/><path d="M3153.5 795.5L3162.5 792.5L3156.5 789.5L3147.5 792.5z"/><path d="M3141.5 798.5L3153.5 795.5L3147.5 792.5L3135.5 792.5z"/><path d="M3132.5 795.5L3141.5 798.5L3135.5 792.5L3126.5 792.5z"/><path d="M3123.5 786.5L3132.5 795.5L3126.5 792.5L3117.5 789.5z"/><path d="M3111.5 759.5L3123.5 786.5L3117.5 789.5L3105.5 771.5z"/><path d="M3102.5 705.5L3111.5 759.5L3105.5 771.5L3096.5 732.5z"/><path class="l" d="M3108.2 739.5L3097.3 735.8"/><path d="M3093.5 621.5L3102.5 705.5L3096.5 732.5L3087.5 663.5z"/><path class="l" d="M3098.9 671.9L3088.1 668.4"/><path d="M3081.5 519.5L3093.5 621.5L3087.5 663.5L3075.5 567.5z"/><path class="l" d="M3091.5 604.1L3079.6 600.5"/><path class="l" d="M3083.5 536.8L3079.5 535.5"/><path d="M3072.5 426.5L3081.5 519.5L3075.5 567.5L3066.5 465.5z"/><path class="l" d="M3079.5 535.5L3072.4 532.8"/><path class="l" d="M3076.6 469.3L3066.5 465.3"/><path d="M3063.5 378.5L3072.5 426.5L3066.5 465.5L3057.5 393.5z"/><path class="l" d="M3066.5 465.3L3066.5 465.2"/><path class="l" d="M3067.9 402L3058.3 400.1"/><path d="M3051.5 399.5L3063.5 378.5L3057.5 393.5L3045.5 378.5z"/><path d="M3042.5 480.5L3051.5 399.5L3045.5 378.5L3036.5 429.5z"/><path class="l" d="M3042.5 480.2L3042.5 480.2"/><path class="l" d="M3050.7 407L3041.1 403.4"/><path d="M3030.5 588.5L3042.5 480.5L3036.5 429.5L3027.5 528.5z"/><path class="l" d="M3034.6 551.7L3028.5 548.5"/><path class="l" d="M3042.5 480.2L3032.4 475.1"/><path d="M3021.5 687.5L3030.5 588.5L3027.5 528.5L3015.5 636.5z"/><path class="l" d="M3027.4 622.5L3017.5 618.1"/><path class="l" d="M3028.5 548.5L3025.5 546.8"/><path d="M3012.5 762.5L3021.5 687.5L3015.5 636.5L3006.5 726.5z"/><path class="l" d="M3020.9 692.8L3010.1 690.5"/><path d="M3000.5 807.5L3012.5 762.5L3006.5 726.5L2997.5 783.5z"/><path class="l" d="M3011.5 766.3L3000.8 762.4"/><path d="M2991.5 828.5L3000.5 807.5L2997.5 783.5L2985.5 816.5z"/><path d="M2982.5 840.5L2991.5 828.5L2985.5 816.5L2976.5 831.5z"/><path d="M2970.5 846.5L2982.5 840.5L2976.5 831.5L2967.5 840.5z"/><path d="M2961.5 849.5L2970.5 846.5L2967.5 840.5L2955.5 843.5z"/><path d="M2952.5 852.5L2961.5 849.5L2955.5 843.5L2946.5 846.5z"/><path d="M2940.5 855.5L2952.5 852.5L2946.5 846.5L2937.5 849.5z"/><path d="M2931.5 858.5L2940.5 855.5L2937.5 849.5L2925.5 852.5z"/><path d="M2922.5 861.5L2931.5 858.5L2925.5 852.5L2916.5 855.5z"/><path d="M2910.5 864.5L2922.5 861.5L2916.5 855.5L2907.5 858.5z"/><path d="M2901.5 867.5L2910.5 864.5L2907.5 858.5L2895.5 861.5z"/><path d="M2892.5 870.5L2901.5 867.5L2895.5 861.5L2886.5 864.5z"/><path d="M2880.5 873.5L2892.5 870.5L2886.5 864.5L2877.5 867.5z"/><path d="M2871.5 876.5L2880.5 873.5L2877.5 867.5L2865.5 870.5z"/><path d="M2862.5 876.5L2871.5 876.5L2865.5 870.5L2856.5 873.5z"/><path d="M2850.5 879.5L2862.5 876.5L2856.5 873.5L2844.5 876.5z"/><path d="M2841.5 882.5L2850.5 879.5L2844.5 876.5L2835.5 879.5z"/><path d="M2832.5 885.5L2841.5 882.5L2835.5 879.5L2826.5 882.5z"/><path d="M2820.5 888.5L2832.5 885.5L2826.5 882.5L2814.5 885.5z"/><path d="M3309.5 759.5L3318.5 756.5L3312.5 750.5L3303.5 753.5z"/><path d="M3297.5 762.5L3309.5 759.5L3303.5 753.5L3291.5 756.5z"/><path d="M3288.5 765.5L3297.5 762.5L3291.5 756.5L3282.5 759.5z"/><path d="M3279.5 768.5L3288.5 765.5L3282.5 759.5L3273.5 762.5z"/><path d="M3267.5 771.5L3279.5 768.5L3273.5 762.5L3261.5 765.5z"/><path d="M3258.5 774.5L3267.5 771.5L3261.5 765.5L3252.5 768.5z"/><path d="M3249.5 774.5L3258.5 774.5L3252.5 768.5L3243.5 771.5z"/><path d="M3237.5 777.5L3249.5 774.5L3243.5 771.5L3231.5 774.5z"/><path d="M3228.5 780.5L3237.5 777.5L3231.5 774.5L3222.5 777.5z"/><path d="M3216.5 783.5L3228.5 780.5L3222.5 777.5L3213.5 780.5z"/><path d="M3207.5 786.5L3216.5 783.5L3213.5 780.5L3201.5 783.5z"/><path d="M3198.5 789.5L3207.5 786.5L3201.5 783.5L3192.5 786.5z"/><path d="M3186.5 792.5L3198.5 789.5L3192.5 786.5L3183.5 786.5z"/><path d="M3177.5 795.5L3186.5 792.5L3183.5 786.5L3171.5 789.5z"/><path d="M3168.5 798.5L3177.5 795.5L3171.5 789.5L3162.5 792.5z"/><path d="M3156.5 801.5L3168.5 798.5L3162.5 792.5L3153.5 795.5z"/><path d="M3147.5 801.5L3156.5 801.5L3153.5 795.5L3141.5 798.5z"/><path d="M3138.5 795.5L3147.5 801.5L3141.5 798.5L3132.5 795.5z"/><path d="M3126.5 777.5L3138.5 795.5L3132.5 795.5L3123.5 786.5z"/><path d="M3117.5 738.5L3126.5 777.5L3123.5 786.5L3111.5 759.5z"/><path class="l" d="M3118.3 741.8L3116.6 741.5"/><path d="M3108.5 672.5L3117.5 738.5L3111.5 759.5L3102.5 705.5z"/><path class="l" d="M3116.6 741.5L3108.2 739.5"/><path class="l" d="M3109.1 677.2L3107.7 676.7"/><path d="M3096.5 576.5L3108.5 672.5L3102.5 705.5L3093.5 621.5z"/><path class="l" d="M3107.7 676.7L3098.9 671.9"/><path class="l" d="M3100.6 609.5L3094.5 605.9"/><path d="M3087.5 474.5L3096.5 576.5L3093.5 621.5L3081.5 519.5z"/><path class="l" d="M3094.5 605.9L3091.5 604.1"/><path class="l" d="M3093.4 541.8L3083.5 536.8"/><path d="M3078.5 399.5L3087.5 474.5L3081.5 519.5L3072.5 426.5z"/><path class="l" d="M3087.5 474.2L3076.6 469.3"/><path class="l" d="M3079.3 406.4L3077.2 405.4"/><path d="M3066.5 384.5L3078.5 399.5L3072.5 426.5L3063.5 378.5z"/><path class="l" d="M3077.2 405.4L3067.9 402"/><path d="M3057.5 438.5L3066.5 384.5L3063.5 378.5L3051.5 399.5z"/><path class="l" d="M3062.1 410.9L3052.8 408"/><path d="M3048.5 534.5L3057.5 438.5L3051.5 399.5L3042.5 480.5z"/><path class="l" d="M3053.4 482.7L3042.5 480.2"/><path class="l" d="M3052.8 408L3050.7 407"/><path d="M3036.5 645.5L3048.5 534.5L3042.5 480.5L3030.5 588.5z"/><path class="l" d="M3038.5 626.6L3034.4 625.7"/><path class="l" d="M3046.5 553.3L3034.6 551.7"/><path d="M3027.5 732.5L3036.5 645.5L3030.5 588.5L3021.5 687.5z"/><path class="l" d="M3031.1 697.7L3022.3 693.2"/><path class="l" d="M3034.4 625.7L3027.4 622.5"/><path d="M3018.5 792.5L3027.5 732.5L3021.5 687.5L3012.5 762.5z"/><path class="l" d="M3021.8 770.3L3013.4 766.8"/><path class="l" d="M3022.3 693.2L3020.9 692.8"/><path d="M3006.5 822.5L3018.5 792.5L3012.5 762.5L3000.5 807.5z"/><path class="l" d="M3013.4 766.8L3011.5 766.3"/><path d="M2997.5 840.5L3006.5 822.5L3000.5 807.5L2991.5 828.5z"/><path d="M2988.5 846.5L2997.5 840.5L2991.5 828.5L2982.5 840.5z"/><path d="M2976.5 852.5L2988.5 846.5L2982.5 840.5L2970.5 846.5z"/><path d="M2967.5 855.5L2976.5 852.5L2970.5 846.5L2961.5 849.5z"/><path d="M2958.5 858.5L2967.5 855.5L2961.5 849.5L2952.5 852.5z"/><path d="M2946.5 861.5L2958.5 858.5L2952.5 852.5L2940.5 855.5z"/><path d="M2937.5 864.5L2946.5 861.5L2940.5 855.5L2931.5 858.5z"/><path d="M2928.5 864.5L2937.5 864.5L2931.5 858.5L2922.5 861.5z"/><path d="M2916.5 867.5L2928.5 864.5L2922.5 861.5L2910.5 864.5z"/><path d="M2907.5 870.5L2916.5 867.5L2910.5 864.5L2901.5 867.5z"/><path d="M2898.5 873.5L2907.5 870.5L2901.5 867.5L2892.5 870.5z"/><path d="M2886.5 876.5L2898.5 873.5L2892.5 870.5L2880.5 873.5z"/><path d="M2877.5 879.5L2886.5 876.5L2880.5 873.5L2871.5 876.5z"/><path d="M2868.5 882.5L2877.5 879.5L2871.5 876.5L2862.5 876.5z"/><path d="M2856.5 885.5L2868.5 882.5L2862.5 876.5L2850.5 879.5z"/><path d="M2847.5 888.5L2856.5 885.5L2850.5 879.5L2841.5 882.5z"/><path d="M2838.5 891.5L2847.5 888.5L2841.5 882.5L2832.5 885.5z"/><path d="M2826.5 894.5L2838.5 891.5L2832.5 885.5L2820.5 888.5z"/><path d="M3312.5 765.5L3324.5 762.5L3318.5 756.5L3309.5 759.5z"/><path d="M3303.5 765.5L3312.5 765.5L3309.5 759.5L3297.5 762.5z"/><path d="M3294.5 768.5L3303.5 765.5L3297.5 762.5L3288.5 765.5z"/><path d="M3282.5 771.5L3294.5 768.5L3288.5 765.5L3279.5 768.5z"/><path d="M3273.5 774.5L3282.5 771.5L3279.5 768.5L3267.5 771.5z"/><path d="M3264.5 777.5L3273.5 774.5L3267.5 771.5L3258.5 774.5z"/><path d="M3252.5 780.5L3264.5 777.5L3258.5 774.5L3249.5 774.5z"/><path d="M3243.5 783.5L3252.5 780.5L3249.5 774.5L3237.5 777.5z"/><path d="M3234.5 786.5L3243.5 783.5L3237.5 777.5L3228.5 780.5z"/><path d="M3222.5 789.5L3234.5 786.5L3228.5 780.5L3216.5 783.5z"/><path d="M3213.5 792.5L3222.5 789.5L3216.5 783.5L3207.5 786.5z"/><path d="M3204.5 795.5L3213.5 792.5L3207.5 786.5L3198.5 789.5z"/><path d="M3192.5 798.5L3204.5 795.5L3198.5 789.5L3186.5 792.5z"/><path d="M3183.5 801.5L3192.5 798.5L3186.5 792.5L3177.5 795.5z"/><path d="M3174.5 801.5L3183.5 801.5L3177.5 795.5L3168.5 798.5z"/><path d="M3162.5 804.5L3174.5 801.5L3168.5 798.5L3156.5 801.5z"/><path d="M3153.5 801.5L3162.5 804.5L3156.5 801.5L3147.5 801.5z"/><path d="M3144.5 792.5L3153.5 801.5L3147.5 801.5L3138.5 795.5z"/><path d="M3132.5 765.5L3144.5 792.5L3138.5 795.5L3126.5 777.5z"/><path d="M3123.5 711.5L3132.5 765.5L3126.5 777.5L3117.5 738.5z"/><path class="l" d="M3129.2 745.5L3118.3 741.8"/><path d="M3114.5 630.5L3123.5 711.5L3117.5 738.5L3108.5 672.5z"/><path class="l" d="M3119.9 679.1L3109.1 677.2"/><path d="M3102.5 525.5L3114.5 630.5L3108.5 672.5L3096.5 576.5z"/><path class="l" d="M3112.5 612.6L3100.6 609.5"/><path class="l" d="M3104.5 543.3L3100.5 542.5"/><path d="M3093.5 432.5L3102.5 525.5L3096.5 576.5L3087.5 474.5z"/><path class="l" d="M3100.5 542.5L3093.4 541.8"/><path class="l" d="M3097.6 475.3L3087.5 474.2"/><path d="M3084.5 387.5L3093.5 432.5L3087.5 474.5L3078.5 399.5z"/><path class="l" d="M3087.5 474.2L3087.5 474.2"/><path class="l" d="M3088.9 409.5L3079.3 406.4"/><path d="M3072.5 405.5L3084.5 387.5L3078.5 399.5L3066.5 384.5z"/><path d="M3063.5 486.5L3072.5 405.5L3066.5 384.5L3057.5 438.5z"/><path class="l" d="M3063.5 486.2L3063.5 486.2"/><path class="l" d="M3071.7 413L3062.1 410.9"/><path d="M3054.5 594.5L3063.5 486.5L3057.5 438.5L3048.5 534.5z"/><path class="l" d="M3057.6 557.7L3050.5 554.5"/><path class="l" d="M3063.5 486.2L3053.4 482.7"/><path d="M3042.5 696.5L3054.5 594.5L3048.5 534.5L3036.5 645.5z"/><path class="l" d="M3050.4 629.5L3038.5 626.6"/><path class="l" d="M3050.5 554.5L3046.5 553.3"/><path d="M3033.5 768.5L3042.5 696.5L3036.5 645.5L3027.5 732.5z"/><path class="l" d="M3041.9 701.6L3031.1 697.7"/><path d="M3024.5 813.5L3033.5 768.5L3027.5 732.5L3018.5 792.5z"/><path class="l" d="M3032.7 772.3L3021.8 770.3"/><path d="M3012.5 837.5L3024.5 813.5L3018.5 792.5L3006.5 822.5z"/><path d="M3003.5 846.5L3012.5 837.5L3006.5 822.5L2997.5 840.5z"/><path d="M2994.5 852.5L3003.5 846.5L2997.5 840.5L2988.5 846.5z"/><path d="M2982.5 855.5L2994.5 852.5L2988.5 846.5L2976.5 852.5z"/><path d="M2973.5 858.5L2982.5 855.5L2976.5 852.5L2967.5 855.5z"/><path d="M2964.5 861.5L2973.5 858.5L2967.5 855.5L2958.5 858.5z"/><path d="M2952.5 864.5L2964.5 861.5L2958.5 858.5L2946.5 861.5z"/><path d="M2943.5 867.5L2952.5 864.5L2946.5 861.5L2937.5 864.5z"/><path d="M2934.5 870.5L2943.5 867.5L2937.5 864.5L2928.5 864.5z"/><path d="M2922.5 873.5L2934.5 870.5L2928.5 864.5L2916.5 867.5z"/><path d="M2913.5 876.5L2922.5 873.5L2916.5 867.5L2907.5 870.5z"/><path d="M2904.5 879.5L2913.5 876.5L2907.5 870.5L2898.5 873.5z"/><path d="M2892.5 882.5L2904.5 879.5L2898.5 873.5L2886.5 876.5z"/><path d="M2883.5 885.5L2892.5 882.5L2886.5 876.5L2877.5 879.5z"/><path d="M2874.5 888.5L2883.5 885.5L2877.5 879.5L2868.5 882.5z"/><path d="M2862.5 891.5L2874.5 888.5L2868.5 882.5L2856.5 885.5z"/><path d="M2853.5 894.5L2862.5 891.5L2856.5 885.5L2847.5 888.5z"/><path d="M2844.5 897.5L2853.5 894.5L2847.5 888.5L2838.5 891.5z"/><path d="M2832.5 897.5L2844.5 897.5L2838.5 891.5L2826.5 894.5z"/><path d="M3318.5 768.5L3330.5 765.5L3324.5 762.5L3312.5 765.5z"/><path d="M3309.5 771.5L3318.5 768.5L3312.5 765.5L3303.5 765.5z"/><path d="M3300.5 774.5L3309.5 771.5L3303.5 765.5L3294.5 768.5z"/><path d="M3288.5 777.5L3300.5 774.5L3294.5 768.5L3282.5 771.5z"/><path d="M3279.5 780.5L3288.5 777.5L3282.5 771.5L3273.5 774.5z"/><path d="M3270.5 783.5L3279.5 780.5L3273.5 774.5L3264.5 777.5z"/><path d="M3258.5 786.5L3270.5 783.5L3264.5 777.5L3252.5 780.5z"/><path d="M3249.5 789.5L3258.5 786.5L3252.5 780.5L3243.5 783.5z"/><path d="M3240.5 792.5L3249.5 789.5L3243.5 783.5L3234.5 786.5z"/><path d="M3228.5 795.5L3240.5 792.5L3234.5 786.5L3222.5 789.5z"/><path d="M3219.5 798.5L3228.5 795.5L3222.5 789.5L3213.5 792.5z"/><path d="M3210.5 798.5L3219.5 798.5L3213.5 792.5L3204.5 795.5z"/><path d="M3198.5 801.5L3210.5 798.5L3204.5 795.5L3192.5 798.5z"/><path d="M3189.5 804.5L3198.5 801.5L3192.5 798.5L3183.5 801.5z"/><path d="M3180.5 807.5L3189.5 804.5L3183.5 801.5L3174.5 801.5z"/><path d="M3168.5 807.5L3180.5 807.5L3174.5 801.5L3162.5 804.5z"/><path d="M3159.5 801.5L3168.5 807.5L3162.5 804.5L3153.5 801.5z"/><path d="M3150.5 786.5L3159.5 801.5L3153.5 801.5L3144.5 792.5z"/><path d="M3138.5 747.5L3150.5 786.5L3144.5 792.5L3132.5 765.5z"/><path class="l" d="M3139.5 750.8L3137.6 750.1"/><path d="M3129.5 678.5L3138.5 747.5L3132.5 765.5L3123.5 711.5z"/><path class="l" d="M3137.6 750.1L3129.2 745.5"/><path class="l" d="M3130.1 683.4L3128.7 682.7"/><path d="M3120.5 582.5L3129.5 678.5L3123.5 711.5L3114.5 630.5z"/><path class="l" d="M3128.7 682.7L3119.9 679.1"/><path class="l" d="M3123.6 615.5L3116.6 613.8"/><path d="M3108.5 480.5L3120.5 582.5L3114.5 630.5L3102.5 525.5z"/><path class="l" d="M3116.6 613.8L3112.5 612.6"/><path class="l" d="M3116.4 547.8L3104.5 543.3"/><path d="M3099.5 405.5L3108.5 480.5L3102.5 525.5L3093.5 432.5z"/><path class="l" d="M3108.5 480.2L3097.6 475.3"/><path class="l" d="M3100.3 412.4L3098.2 411.4"/><path d="M3090.5 390.5L3099.5 405.5L3093.5 432.5L3084.5 387.5z"/><path class="l" d="M3098.2 411.4L3088.9 409.5"/><path d="M3078.5 444.5L3090.5 390.5L3084.5 387.5L3072.5 405.5z"/><path class="l" d="M3084.6 416.9L3073.8 414"/><path d="M3069.5 543.5L3078.5 444.5L3072.5 405.5L3063.5 486.5z"/><path class="l" d="M3074.4 490.1L3063.5 486.2"/><path class="l" d="M3073.8 414L3071.7 413"/><path d="M3060.5 651.5L3069.5 543.5L3063.5 486.5L3054.5 594.5z"/><path class="l" d="M3062 633.1L3058.4 631.7"/><path class="l" d="M3068 561.8L3057.6 557.7"/><path d="M3048.5 741.5L3060.5 651.5L3054.5 594.5L3042.5 696.5z"/><path class="l" d="M3053.3 705.5L3043.3 702.2"/><path class="l" d="M3058.4 631.7L3050.4 629.5"/><path d="M3039.5 798.5L3048.5 741.5L3042.5 696.5L3033.5 768.5z"/><path class="l" d="M3042.8 777.4L3034.4 772.8"/><path class="l" d="M3043.3 702.2L3041.9 701.6"/><path d="M3030.5 831.5L3039.5 798.5L3033.5 768.5L3024.5 813.5z"/><path class="l" d="M3034.4 772.8L3032.7 772.3"/><path d="M3018.5 846.5L3030.5 831.5L3024.5 813.5L3012.5 837.5z"/><path d="M3009.5 855.5L3018.5 846.5L3012.5 837.5L3003.5 846.5z"/><path d="M3000.5 858.5L3009.5 855.5L3003.5 846.5L2994.5 852.5z"/><path d="M2988.5 861.5L3000.5 858.5L2994.5 852.5L2982.5 855.5z"/><path d="M2979.5 864.5L2988.5 861.5L2982.5 855.5L2973.5 858.5z"/><path d="M2970.5 867.5L2979.5 864.5L2973.5 858.5L2964.5 861.5z"/><path d="M2958.5 870.5L2970.5 867.5L2964.5 861.5L2952.5 864.5z"/><path d="M2949.5 873.5L2958.5 870.5L2952.5 864.5L2943.5 867.5z"/><path d="M2940.5 876.5L2949.5 873.5L2943.5 867.5L2934.5 870.5z"/><path d="M2928.5 879.5L2940.5 876.5L2934.5 870.5L2922.5 873.5z"/><path d="M2919.5 882.5L2928.5 879.5L2922.5 873.5L2913.5 876.5z"/><path d="M2910.5 885.5L2919.5 882.5L2913.5 876.5L2904.5 879.5z"/><path d="M2898.5 885.5L2910.5 885.5L2904.5 879.5L2892.5 882.5z"/><path d="M2889.5 888.5L2898.5 885.5L2892.5 882.5L2883.5 885.5z"/><path d="M2880.5 891.5L2889.5 888.5L2883.5 885.5L2874.5 888.5z"/><path d="M2868.5 894.5L2880.5 891.5L2874.5 888.5L2862.5 891.5z"/><path d="M2859.5 897.5L2868.5 894.5L2862.5 891.5L2853.5 894.5z"/><path d="M2847.5 900.5L2859.5 897.5L2853.5 894.5L2844.5 897.5z"/><path d="M2838.5 903.5L2847.5 900.5L2844.5 897.5L2832.5 897.5z"/><path d="M3324.5 774.5L3336.5 771.5L3330.5 765.5L3318.5 768.5z"/><path d="M3315.5 777.5L3324.5 774.5L3318.5 768.5L3309.5 771.5z"/><path d="M3306.5 780.5L3315.5 777.5L3309.5 771.5L3300.5 774.5z"/><path d="M3294.5 783.5L3306.5 780.5L3300.5 774.5L3288.5 777.5z"/><path d="M3285.5 786.5L3294.5 783.5L3288.5 777.5L3279.5 780.5z"/><path d="M3276.5 786.5L3285.5 786.5L3279.5 780.5L3270.5 783.5z"/><path d="M3264.5 789.5L3276.5 786.5L3270.5 783.5L3258.5 786.5z"/><path d="M3255.5 792.5L3264.5 789.5L3258.5 786.5L3249.5 789.5z"/><path d="M3246.5 795.5L3255.5 792.5L3249.5 789.5L3240.5 792.5z"/><path d="M3234.5 798.5L3246.5 795.5L3240.5 792.5L3228.5 795.5z"/><path d="M3225.5 801.5L3234.5 798.5L3228.5 795.5L3219.5 798.5z"/><path d="M3216.5 804.5L3225.5 801.5L3219.5 798.5L3210.5 798.5z"/><path d="M3204.5 807.5L3216.5 804.5L3210.5 798.5L3198.5 801.5z"/><path d="M3195.5 810.5L3204.5 807.5L3198.5 801.5L3189.5 804.5z"/><path d="M3186.5 810.5L3195.5 810.5L3189.5 804.5L3180.5 807.5z"/><path d="M3174.5 810.5L3186.5 810.5L3180.5 807.5L3168.5 807.5z"/><path d="M3165.5 798.5L3174.5 810.5L3168.5 807.5L3159.5 801.5z"/><path d="M3156.5 771.5L3165.5 798.5L3159.5 801.5L3150.5 786.5z"/><path d="M3144.5 720.5L3156.5 771.5L3150.5 786.5L3138.5 747.5z"/><path class="l" d="M3152.1 752.6L3139.5 750.8"/><path d="M3135.5 636.5L3144.5 720.5L3138.5 747.5L3129.5 678.5z"/><path class="l" d="M3140.9 686.9L3130.1 683.4"/><path d="M3126.5 534.5L3135.5 636.5L3129.5 678.5L3120.5 582.5z"/><path class="l" d="M3134 619.1L3123.6 615.5"/><path class="l" d="M3128 551.8L3124.5 550.5"/><path d="M3114.5 441.5L3126.5 534.5L3120.5 582.5L3108.5 480.5z"/><path class="l" d="M3124.5 550.5L3116.4 547.8"/><path class="l" d="M3120 484.3L3108.5 480.3"/><path d="M3105.5 393.5L3114.5 441.5L3108.5 480.5L3099.5 405.5z"/><path class="l" d="M3108.5 480.3L3108.5 480.2"/><path class="l" d="M3109.9 417L3100.3 412.4"/><path d="M3096.5 414.5L3105.5 393.5L3099.5 405.5L3090.5 390.5z"/><path d="M3084.5 492.5L3096.5 414.5L3090.5 390.5L3078.5 444.5z"/><path class="l" d="M3084.5 492.2L3084.5 492.2"/><path class="l" d="M3095.4 421.7L3084.6 416.9"/><path d="M3075.5 600.5L3084.5 492.5L3078.5 444.5L3069.5 543.5z"/><path class="l" d="M3078.6 563.7L3071.5 562.5"/><path class="l" d="M3084.5 492.2L3074.4 490.1"/><path d="M3066.5 702.5L3075.5 600.5L3069.5 543.5L3060.5 651.5z"/><path class="l" d="M3072.4 635.5L3062 633.1"/><path class="l" d="M3071.5 562.5L3068 561.8"/><path d="M3054.5 777.5L3066.5 702.5L3060.5 651.5L3048.5 741.5z"/><path class="l" d="M3065.7 707.8L3053.3 705.5"/><path d="M3045.5 822.5L3054.5 777.5L3048.5 741.5L3039.5 798.5z"/><path class="l" d="M3053.7 781.3L3042.8 777.4"/><path d="M3033.5 843.5L3045.5 822.5L3039.5 798.5L3030.5 831.5z"/><path d="M3024.5 855.5L3033.5 843.5L3030.5 831.5L3018.5 846.5z"/><path d="M3015.5 861.5L3024.5 855.5L3018.5 846.5L3009.5 855.5z"/><path d="M3003.5 864.5L3015.5 861.5L3009.5 855.5L3000.5 858.5z"/><path d="M2994.5 867.5L3003.5 864.5L3000.5 858.5L2988.5 861.5z"/><path d="M2985.5 870.5L2994.5 867.5L2988.5 861.5L2979.5 864.5z"/><path d="M2973.5 873.5L2985.5 870.5L2979.5 864.5L2970.5 867.5z"/><path d="M2964.5 876.5L2973.5 873.5L2970.5 867.5L2958.5 870.5z"/><path d="M2955.5 876.5L2964.5 876.5L2958.5 870.5L2949.5 873.5z"/><path d="M2943.5 879.5L2955.5 876.5L2949.5 873.5L2940.5 876.5z"/><path d="M2934.5 882.5L2943.5 879.5L2940.5 876.5L2928.5 879.5z"/><path d="M2925.5 885.5L2934.5 882.5L2928.5 879.5L2919.5 882.5z"/><path d="M2913.5 888.5L2925.5 885.5L2919.5 882.5L2910.5 885.5z"/><path d="M2904.5 891.5L2913.5 888.5L2910.5 885.5L2898.5 885.5z"/><path d="M2895.5 894.5L2904.5 891.5L2898.5 885.5L2889.5 888.5z"/><path d="M2883.5 897.5L2895.5 894.5L2889.5 888.5L2880.5 891.5z"/><path d="M2874.5 900.5L2883.5 897.5L2880.5 891.5L2868.5 894.5z"/><path d="M2865.5 903.5L2874.5 900.5L2868.5 894.5L2859.5 897.5z"/><path d="M2853.5 906.5L2865.5 903.5L2859.5 897.5L2847.5 900.5z"/><path d="M2844.5 909.5L2853.5 906.5L2847.5 900.5L2838.5 903.5z"/><path d="M3330.5 777.5L3342.5 774.5L3336.5 771.5L3324.5 774.5z"/><path d="M3321.5 780.5L3330.5 777.5L3324.5 774.5L3315.5 777.5z"/><path d="M3312.5 783.5L3321.5 780.5L3315.5 777.5L3306.5 780.5z"/><path d="M3300.5 786.5L3312.5 783.5L3306.5 780.5L3294.5 783.5z"/><path d="M3291.5 789.5L3300.5 786.5L3294.5 783.5L3285.5 786.5z"/><path d="M3282.5 792.5L3291.5 789.5L3285.5 786.5L3276.5 786.5z"/><path d="M3270.5 795.5L3282.5 792.5L3276.5 786.5L3264.5 789.5z"/><path d="M3261.5 798.5L3270.5 795.5L3264.5 789.5L3255.5 792.5z"/><path d="M3252.5 801.5L3261.5 798.5L3255.5 792.5L3246.5 795.5z"/><path d="M3240.5 804.5L3252.5 801.5L3246.5 795.5L3234.5 798.5z"/><path d="M3231.5 807.5L3240.5 804.5L3234.5 798.5L3225.5 801.5z"/><path d="M3219.5 810.5L3231.5 807.5L3225.5 801.5L3216.5 804.5z"/><path d="M3210.5 813.5L3219.5 810.5L3216.5 804.5L3204.5 807.5z"/><path d="M3201.5 813.5L3210.5 813.5L3204.5 807.5L3195.5 810.5z"/><path d="M3189.5 813.5L3201.5 813.5L3195.5 810.5L3186.5 810.5z"/><path d="M3180.5 810.5L3189.5 813.5L3186.5 810.5L3174.5 810.5z"/><path d="M3171.5 792.5L3180.5 810.5L3174.5 810.5L3165.5 798.5z"/><path d="M3159.5 753.5L3171.5 792.5L3165.5 798.5L3156.5 771.5z"/><path class="l" d="M3160.5 756.8L3159.1 756.1"/><path d="M3150.5 684.5L3159.5 753.5L3156.5 771.5L3144.5 720.5z"/><path class="l" d="M3159.1 756.1L3152.1 752.6"/><path class="l" d="M3151.1 689.4L3149.7 689.1"/><path d="M3141.5 588.5L3150.5 684.5L3144.5 720.5L3135.5 636.5z"/><path class="l" d="M3149.7 689.1L3140.9 686.9"/><path class="l" d="M3144.6 621.5L3137.6 619.8"/><path d="M3129.5 486.5L3141.5 588.5L3135.5 636.5L3126.5 534.5z"/><path class="l" d="M3137.6 619.8L3134 619.1"/><path class="l" d="M3137.4 553.8L3128 551.8"/><path d="M3120.5 414.5L3129.5 486.5L3126.5 534.5L3114.5 441.5z"/><path class="l" d="M3129.5 486.2L3120 484.3"/><path class="l" d="M3121.3 421.1L3119.2 420.4"/><path d="M3111.5 399.5L3120.5 414.5L3114.5 441.5L3105.5 393.5z"/><path class="l" d="M3119.2 420.4L3109.9 417"/><path d="M3099.5 450.5L3111.5 399.5L3105.5 393.5L3096.5 414.5z"/><path class="l" d="M3105.6 424.4L3097.2 422.3"/><path d="M3090.5 549.5L3099.5 450.5L3096.5 414.5L3084.5 492.5z"/><path class="l" d="M3095.4 496.1L3084.5 492.2"/><path class="l" d="M3097.2 422.3L3095.4 421.7"/><path d="M3081.5 657.5L3090.5 549.5L3084.5 492.5L3075.5 600.5z"/><path class="l" d="M3083 639.1L3079.4 637.7"/><path class="l" d="M3089 567.8L3078.6 563.7"/><path d="M3069.5 747.5L3081.5 657.5L3075.5 600.5L3066.5 702.5z"/><path class="l" d="M3074.3 711.5L3066.9 708.2"/><path class="l" d="M3079.4 637.7L3072.4 635.5"/><path d="M3060.5 804.5L3069.5 747.5L3066.5 702.5L3054.5 777.5z"/><path class="l" d="M3063.8 783.4L3055.4 781.4"/><path class="l" d="M3066.9 708.2L3065.7 707.8"/><path d="M3051.5 837.5L3060.5 804.5L3054.5 777.5L3045.5 822.5z"/><path class="l" d="M3055.4 781.4L3053.7 781.3"/><path d="M3039.5 852.5L3051.5 837.5L3045.5 822.5L3033.5 843.5z"/><path d="M3030.5 861.5L3039.5 852.5L3033.5 843.5L3024.5 855.5z"/><path d="M3021.5 864.5L3030.5 861.5L3024.5 855.5L3015.5 861.5z"/><path d="M3009.5 867.5L3021.5 864.5L3015.5 861.5L3003.5 864.5z"/><path d="M3000.5 870.5L3009.5 867.5L3003.5 864.5L2994.5 867.5z"/><path d="M2991.5 873.5L3000.5 870.5L2994.5 867.5L2985.5 870.5z"/><path d="M2979.5 876.5L2991.5 873.5L2985.5 870.5L2973.5 873.5z"/><path d="M2970.5 879.5L2979.5 876.5L2973.5 873.5L2964.5 876.5z"/><path d="M2961.5 882.5L2970.5 879.5L2964.5 876.5L2955.5 876.5z"/><path d="M2949.5 885.5L2961.5 882.5L2955.5 876.5L2943.5 879.5z"/><path d="M2940.5 888.5L2949.5 885.5L2943.5 879.5L2934.5 882.5z"/><path d="M2931.5 891.5L2940.5 888.5L2934.5 882.5L2925.5 885.5z"/><path d="M2919.5 894.5L2931.5 891.5L2925.5 885.5L2913.5 888.5z"/><path d="M2910.5 897.5L2919.5 894.5L2913.5 888.5L2904.5 891.5z"/><path d="M2901.5 900.5L2910.5 897.5L2904.5 891.5L2895.5 894.5z"/><path d="M2889.5 903.5L2901.5 900.5L2895.5 894.5L2883.5 897.5z"/><path d="M2880.5 906.5L2889.5 903.5L2883.5 897.5L2874.5 900.5z"/><path d="M2871.5 909.5L2880.5 906.5L2874.5 900.5L2865.5 903.5z"/><path d="M2859.5 909.5L2871.5 909.5L2865.5 903.5L2853.5 906.5z"/><path d="M2850.5 912.5L2859.5 909.5L2853.5 906.5L2844.5 909.5z"/><path d="M3336.5 783.5L3345.5 780.5L3342.5 774.5L3330.5 777.5z"/><path d="M3327.5 786.5L3336.5 783.5L3330.5 777.5L3321.5 780.5z"/><path d="M3315.5 789.5L3327.5 786.5L3321.5 780.5L3312.5 783.5z"/><path d="M3306.5 792.5L3315.5 789.5L3312.5 783.5L3300.5 786.5z"/><path d="M3297.5 795.5L3306.5 792.5L3300.5 786.5L3291.5 789.5z"/><path d="M3285.5 798.5L3297.5 795.5L3291.5 789.5L3282.5 792.5z"/><path d="M3276.5 801.5L3285.5 798.5L3282.5 792.5L3270.5 795.5z"/><path d="M3267.5 804.5L3276.5 801.5L3270.5 795.5L3261.5 798.5z"/><path d="M3255.5 807.5L3267.5 804.5L3261.5 798.5L3252.5 801.5z"/><path d="M3246.5 810.5L3255.5 807.5L3252.5 801.5L3240.5 804.5z"/><path d="M3237.5 810.5L3246.5 810.5L3240.5 804.5L3231.5 807.5z"/><path d="M3225.5 813.5L3237.5 810.5L3231.5 807.5L3219.5 810.5z"/><path d="M3216.5 816.5L3225.5 813.5L3219.5 810.5L3210.5 813.5z"/><path d="M3207.5 819.5L3216.5 816.5L3210.5 813.5L3201.5 813.5z"/><path d="M3195.5 816.5L3207.5 819.5L3201.5 813.5L3189.5 813.5z"/><path d="M3186.5 807.5L3195.5 816.5L3189.5 813.5L3180.5 810.5z"/><path d="M3177.5 780.5L3186.5 807.5L3180.5 810.5L3171.5 792.5z"/><path d="M3165.5 726.5L3177.5 780.5L3171.5 792.5L3159.5 753.5z"/><path class="l" d="M3173.1 760.5L3160.5 756.8"/><path d="M3156.5 642.5L3165.5 726.5L3159.5 753.5L3150.5 684.5z"/><path class="l" d="M3161.9 692.9L3151.1 689.4"/><path d="M3147.5 540.5L3156.5 642.5L3150.5 684.5L3141.5 588.5z"/><path class="l" d="M3155 625.1L3144.6 621.5"/><path class="l" d="M3149 557.8L3145.5 556.5"/><path d="M3135.5 447.5L3147.5 540.5L3141.5 588.5L3129.5 486.5z"/><path class="l" d="M3145.5 556.5L3137.4 553.8"/><path class="l" d="M3141 490.3L3129.5 486.3"/><path d="M3126.5 399.5L3135.5 447.5L3129.5 486.5L3120.5 414.5z"/><path class="l" d="M3129.5 486.3L3129.5 486.2"/><path class="l" d="M3130.9 423L3121.3 421.1"/><path d="M3117.5 420.5L3126.5 399.5L3120.5 414.5L3111.5 399.5z"/><path d="M3105.5 501.5L3117.5 420.5L3111.5 399.5L3099.5 450.5z"/><path class="l" d="M3105.5 501.2L3105.5 501.2"/><path class="l" d="M3116.4 428L3105.6 424.4"/><path d="M3096.5 609.5L3105.5 501.5L3099.5 450.5L3090.5 549.5z"/><path class="l" d="M3099.6 572.7L3092.5 569.5"/><path class="l" d="M3105.5 501.2L3095.4 496.1"/><path d="M3087.5 708.5L3096.5 609.5L3090.5 549.5L3081.5 657.5z"/><path class="l" d="M3093.4 643.5L3083 639.1"/><path class="l" d="M3092.5 569.5L3089 567.8"/><path d="M3075.5 783.5L3087.5 708.5L3081.5 657.5L3069.5 747.5z"/><path class="l" d="M3086.7 713.8L3074.3 711.5"/><path d="M3066.5 828.5L3075.5 783.5L3069.5 747.5L3060.5 804.5z"/><path class="l" d="M3074.7 787.3L3063.8 783.4"/><path d="M3057.5 849.5L3066.5 828.5L3060.5 804.5L3051.5 837.5z"/><path d="M3045.5 861.5L3057.5 849.5L3051.5 837.5L3039.5 852.5z"/><path d="M3036.5 867.5L3045.5 861.5L3039.5 852.5L3030.5 861.5z"/><path d="M3027.5 870.5L3036.5 867.5L3030.5 861.5L3021.5 864.5z"/><path d="M3015.5 873.5L3027.5 870.5L3021.5 864.5L3009.5 867.5z"/><path d="M3006.5 876.5L3015.5 873.5L3009.5 867.5L3000.5 870.5z"/><path d="M2997.5 879.5L3006.5 876.5L3000.5 870.5L2991.5 873.5z"/><path d="M2985.5 882.5L2997.5 879.5L2991.5 873.5L2979.5 876.5z"/><path d="M2976.5 885.5L2985.5 882.5L2979.5 876.5L2970.5 879.5z"/><path d="M2967.5 888.5L2976.5 885.5L2970.5 879.5L2961.5 882.5z"/><path d="M2955.5 891.5L2967.5 888.5L2961.5 882.5L2949.5 885.5z"/><path d="M2946.5 894.5L2955.5 891.5L2949.5 885.5L2940.5 888.5z"/><path d="M2937.5 897.5L2946.5 894.5L2940.5 888.5L2931.5 891.5z"/><path d="M2925.5 897.5L2937.5 897.5L2931.5 891.5L2919.5 894.5z"/><path d="M2916.5 900.5L2925.5 897.5L2919.5 894.5L2910.5 897.5z"/><path d="M2907.5 903.5L2916.5 900.5L2910.5 897.5L2901.5 900.5z"/><path d="M2895.5 906.5L2907.5 903.5L2901.5 900.5L2889.5 903.5z"/><path d="M2886.5 909.5L2895.5 906.5L2889.5 903.5L2880.5 906.5z"/><path d="M2877.5 912.5L2886.5 909.5L2880.5 906.5L2871.5 909.5z"/><path d="M2865.5 915.5L2877.5 912.5L2871.5 909.5L2859.5 909.5z"/><path d="M2856.5 918.5L2865.5 915.5L2859.5 909.5L2850.5 912.5z"/><path d="M3342.5 789.5L3351.5 786.5L3345.5 780.5L3336.5 783.5z"/><path d="M3333.5 792.5L3342.5 789.5L3336.5 783.5L3327.5 786.5z"/><path d="M3321.5 795.5L3333.5 792.5L3327.5 786.5L3315.5 789.5z"/><path d="M3312.5 798.5L3321.5 795.5L3315.5 789.5L3306.5 792.5z"/><path d="M3303.5 798.5L3312.5 798.5L3306.5 792.5L3297.5 795.5z"/><path d="M3291.5 801.5L3303.5 798.5L3297.5 795.5L3285.5 798.5z"/><path d="M3282.5 804.5L3291.5 801.5L3285.5 798.5L3276.5 801.5z"/><path d="M3273.5 807.5L3282.5 804.5L3276.5 801.5L3267.5 804.5z"/><path d="M3261.5 810.5L3273.5 807.5L3267.5 804.5L3255.5 807.5z"/><path d="M3252.5 813.5L3261.5 810.5L3255.5 807.5L3246.5 810.5z"/><path d="M3243.5 816.5L3252.5 813.5L3246.5 810.5L3237.5 810.5z"/><path d="M3231.5 819.5L3243.5 816.5L3237.5 810.5L3225.5 813.5z"/><path d="M3222.5 822.5L3231.5 819.5L3225.5 813.5L3216.5 816.5z"/><path d="M3213.5 822.5L3222.5 822.5L3216.5 816.5L3207.5 819.5z"/><path d="M3201.5 816.5L3213.5 822.5L3207.5 819.5L3195.5 816.5z"/><path d="M3192.5 798.5L3201.5 816.5L3195.5 816.5L3186.5 807.5z"/><path d="M3183.5 759.5L3192.5 798.5L3186.5 807.5L3177.5 780.5z"/><path class="l" d="M3184.3 762.8L3182.6 762.5"/><path d="M3171.5 693.5L3183.5 759.5L3177.5 780.5L3165.5 726.5z"/><path class="l" d="M3182.6 762.5L3173.1 760.5"/><path class="l" d="M3172.3 698.2L3170.7 697.7"/><path d="M3162.5 597.5L3171.5 693.5L3165.5 726.5L3156.5 642.5z"/><path class="l" d="M3170.7 697.7L3161.9 692.9"/><path class="l" d="M3165.6 630.5L3158.6 626.9"/><path d="M3153.5 495.5L3162.5 597.5L3156.5 642.5L3147.5 540.5z"/><path class="l" d="M3158.6 626.9L3155 625.1"/><path class="l" d="M3159.4 562.8L3149 557.8"/><path d="M3141.5 420.5L3153.5 495.5L3147.5 540.5L3135.5 447.5z"/><path class="l" d="M3153.5 495.2L3141 490.3"/><path class="l" d="M3142.6 427.4L3140.2 426.4"/><path d="M3132.5 405.5L3141.5 420.5L3135.5 447.5L3126.5 399.5z"/><path class="l" d="M3140.2 426.4L3130.9 423"/><path d="M3123.5 459.5L3132.5 405.5L3126.5 399.5L3117.5 420.5z"/><path class="l" d="M3128.1 431.9L3118.8 429"/><path d="M3111.5 555.5L3123.5 459.5L3117.5 420.5L3105.5 501.5z"/><path class="l" d="M3118 503.7L3105.5 501.2"/><path class="l" d="M3118.8 429L3116.4 428"/><path d="M3102.5 666.5L3111.5 555.5L3105.5 501.5L3096.5 609.5z"/><path class="l" d="M3104 647.6L3100.4 646.7"/><path class="l" d="M3110 574.3L3099.6 572.7"/><path d="M3093.5 753.5L3102.5 666.5L3096.5 609.5L3087.5 708.5z"/><path class="l" d="M3097.1 718.7L3088.3 714.2"/><path class="l" d="M3100.4 646.7L3093.4 643.5"/><path d="M3081.5 813.5L3093.5 753.5L3087.5 708.5L3075.5 783.5z"/><path class="l" d="M3085.9 791.3L3076.4 787.8"/><path class="l" d="M3088.3 714.2L3086.7 713.8"/><path d="M3072.5 843.5L3081.5 813.5L3075.5 783.5L3066.5 828.5z"/><path class="l" d="M3076.4 787.8L3074.7 787.3"/><path d="M3063.5 861.5L3072.5 843.5L3066.5 828.5L3057.5 849.5z"/><path d="M3051.5 867.5L3063.5 861.5L3057.5 849.5L3045.5 861.5z"/><path d="M3042.5 873.5L3051.5 867.5L3045.5 861.5L3036.5 867.5z"/><path d="M3033.5 876.5L3042.5 873.5L3036.5 867.5L3027.5 870.5z"/><path d="M3021.5 879.5L3033.5 876.5L3027.5 870.5L3015.5 873.5z"/><path d="M3012.5 882.5L3021.5 879.5L3015.5 873.5L3006.5 876.5z"/><path d="M3003.5 885.5L3012.5 882.5L3006.5 876.5L2997.5 879.5z"/><path d="M2991.5 885.5L3003.5 885.5L2997.5 879.5L2985.5 882.5z"/><path d="M2982.5 888.5L2991.5 885.5L2985.5 882.5L2976.5 885.5z"/><path d="M2973.5 891.5L2982.5 888.5L2976.5 885.5L2967.5 888.5z"/><path d="M2961.5 894.5L2973.5 891.5L2967.5 888.5L2955.5 891.5z"/><path d="M2952.5 897.5L2961.5 894.5L2955.5 891.5L2946.5 894.5z"/><path d="M2943.5 900.5L2952.5 897.5L2946.5 894.5L2937.5 897.5z"/><path d="M2931.5 903.5L2943.5 900.5L2937.5 897.5L2925.5 897.5z"/><path d="M2922.5 906.5L2931.5 903.5L2925.5 897.5L2916.5 900.5z"/><path d="M2913.5 909.5L2922.5 906.5L2916.5 900.5L2907.5 903.5z"/><path d="M2901.5 912.5L2913.5 909.5L2907.5 903.5L2895.5 906.5z"/><path d="M2892.5 915.5L2901.5 912.5L2895.5 906.5L2886.5 909.5z"/><path d="M2883.5 918.5L2892.5 915.5L2886.5 909.5L2877.5 912.5z"/><path d="M2871.5 921.5L2883.5 918.5L2877.5 912.5L2865.5 915.5z"/><path d="M2862.5 924.5L2871.5 921.5L2865.5 915.5L2856.5 918.5z"/><path d="M3348.5 792.5L3357.5 789.5L3351.5 786.5L3342.5 789.5z"/><path d="M3339.5 795.5L3348.5 792.5L3342.5 789.5L3333.5 792.5z"/><path d="M3327.5 798.5L3339.5 795.5L3333.5 792.5L3321.5 795.5z"/><path d="M3318.5 801.5L3327.5 798.5L3321.5 795.5L3312.5 798.5z"/><path d="M3309.5 804.5L3318.5 801.5L3312.5 798.5L3303.5 798.5z"/><path d="M3297.5 807.5L3309.5 804.5L3303.5 798.5L3291.5 801.5z"/><path d="M3288.5 810.5L3297.5 807.5L3291.5 801.5L3282.5 804.5z"/><path d="M3279.5 813.5L3288.5 810.5L3282.5 804.5L3273.5 807.5z"/><path d="M3267.5 816.5L3279.5 813.5L3273.5 807.5L3261.5 810.5z"/><path d="M3258.5 819.5L3267.5 816.5L3261.5 810.5L3252.5 813.5z"/><path d="M3249.5 822.5L3258.5 819.5L3252.5 813.5L3243.5 816.5z"/><path d="M3237.5 822.5L3249.5 822.5L3243.5 816.5L3231.5 819.5z"/><path d="M3228.5 825.5L3237.5 822.5L3231.5 819.5L3222.5 822.5z"/><path d="M3219.5 822.5L3228.5 825.5L3222.5 822.5L3213.5 822.5z"/><path d="M3207.5 813.5L3219.5 822.5L3213.5 822.5L3201.5 816.5z"/><path d="M3198.5 786.5L3207.5 813.5L3201.5 816.5L3192.5 798.5z"/><path d="M3189.5 732.5L3198.5 786.5L3192.5 798.5L3183.5 759.5z"/><path class="l" d="M3195.2 766.5L3184.3 762.8"/><path d="M3177.5 651.5L3189.5 732.5L3183.5 759.5L3171.5 693.5z"/><path class="l" d="M3184.7 700.1L3172.3 698.2"/><path d="M3168.5 546.5L3177.5 651.5L3171.5 693.5L3162.5 597.5z"/><path class="l" d="M3176 633.6L3165.6 630.5"/><path class="l" d="M3170 564.3L3166.5 563.5"/><path d="M3159.5 453.5L3168.5 546.5L3162.5 597.5L3153.5 495.5z"/><path class="l" d="M3166.5 563.5L3159.4 562.8"/><path class="l" d="M3163.6 496.3L3153.5 495.2"/><path d="M3147.5 408.5L3159.5 453.5L3153.5 495.5L3141.5 420.5z"/><path class="l" d="M3153.5 495.2L3153.5 495.2"/><path class="l" d="M3153.4 430.5L3142.6 427.4"/><path d="M3138.5 426.5L3147.5 408.5L3141.5 420.5L3132.5 405.5z"/><path d="M3129.5 507.5L3138.5 426.5L3132.5 405.5L3123.5 459.5z"/><path class="l" d="M3129.5 507.2L3129.5 507.2"/><path class="l" d="M3137.7 434L3128.1 431.9"/><path d="M3117.5 615.5L3129.5 507.5L3123.5 459.5L3111.5 555.5z"/><path class="l" d="M3121.6 578.7L3113.5 575.5"/><path class="l" d="M3129.5 507.2L3118 503.7"/><path d="M3108.5 717.5L3117.5 615.5L3111.5 555.5L3102.5 666.5z"/><path class="l" d="M3114.4 650.5L3104 647.6"/><path class="l" d="M3113.5 575.5L3110 574.3"/><path d="M3099.5 789.5L3108.5 717.5L3102.5 666.5L3093.5 753.5z"/><path class="l" d="M3107.9 722.6L3097.1 718.7"/><path d="M3087.5 834.5L3099.5 789.5L3093.5 753.5L3081.5 813.5z"/><path class="l" d="M3098.5 793.3L3085.9 791.3"/><path d="M3078.5 858.5L3087.5 834.5L3081.5 813.5L3072.5 843.5z"/><path d="M3069.5 867.5L3078.5 858.5L3072.5 843.5L3063.5 861.5z"/><path d="M3057.5 873.5L3069.5 867.5L3063.5 861.5L3051.5 867.5z"/><path d="M3048.5 876.5L3057.5 873.5L3051.5 867.5L3042.5 873.5z"/><path d="M3036.5 879.5L3048.5 876.5L3042.5 873.5L3033.5 876.5z"/><path d="M3027.5 882.5L3036.5 879.5L3033.5 876.5L3021.5 879.5z"/><path d="M3018.5 885.5L3027.5 882.5L3021.5 879.5L3012.5 882.5z"/><path d="M3006.5 888.5L3018.5 885.5L3012.5 882.5L3003.5 885.5z"/><path d="M2997.5 891.5L3006.5 888.5L3003.5 885.5L2991.5 885.5z"/><path d="M2988.5 894.5L2997.5 891.5L2991.5 885.5L2982.5 888.5z"/><path d="M2976.5 897.5L2988.5 894.5L2982.5 888.5L2973.5 891.5z"/><path d="M2967.5 900.5L2976.5 897.5L2973.5 891.5L2961.5 894.5z"/><path d="M2958.5 903.5L2967.5 900.5L2961.5 894.5L2952.5 897.5z"/><path d="M2946.5 906.5L2958.5 903.5L2952.5 897.5L2943.5 900.5z"/><path d="M2937.5 909.5L2946.5 906.5L2943.5 900.5L2931.5 903.5z"/><path d="M2928.5 912.5L2937.5 909.5L2931.5 903.5L2922.5 906.5z"/><path d="M2916.5 915.5L2928.5 912.5L2922.5 906.5L2913.5 909.5z"/><path d="M2907.5 918.5L2916.5 915.5L2913.5 909.5L2901.5 912.5z"/><path d="M2898.5 918.5L2907.5 918.5L2901.5 912.5L2892.5 915.5z"/><path d="M2886.5 921.5L2898.5 918.5L2892.5 915.5L2883.5 918.5z"/><path d="M2877.5 924.5L2886.5 921.5L2883.5 918.5L2871.5 921.5z"/><path d="M2868.5 927.5L2877.5 924.5L2871.5 921.5L2862.5 924.5z"/><path d="M3354.5 798.5L3363.5 795.5L3357.5 789.5L3348.5 792.5z"/><path d="M3345.5 801.5L3354.5 798.5L3348.5 792.5L3339.5 795.5z"/><path d="M3333.5 804.5L3345.5 801.5L3339.5 795.5L3327.5 798.5z"/><path d="M3324.5 807.5L3333.5 804.5L3327.5 798.5L3318.5 801.5z"/><path d="M3315.5 810.5L3324.5 807.5L3318.5 801.5L3309.5 804.5z"/><path d="M3303.5 813.5L3315.5 810.5L3309.5 804.5L3297.5 807.5z"/><path d="M3294.5 816.5L3303.5 813.5L3297.5 807.5L3288.5 810.5z"/><path d="M3285.5 819.5L3294.5 816.5L3288.5 810.5L3279.5 813.5z"/><path d="M3273.5 819.5L3285.5 819.5L3279.5 813.5L3267.5 816.5z"/><path d="M3264.5 822.5L3273.5 819.5L3267.5 816.5L3258.5 819.5z"/><path d="M3255.5 825.5L3264.5 822.5L3258.5 819.5L3249.5 822.5z"/><path d="M3243.5 828.5L3255.5 825.5L3249.5 822.5L3237.5 822.5z"/><path d="M3234.5 828.5L3243.5 828.5L3237.5 822.5L3228.5 825.5z"/><path d="M3222.5 822.5L3234.5 828.5L3228.5 825.5L3219.5 822.5z"/><path d="M3213.5 807.5L3222.5 822.5L3219.5 822.5L3207.5 813.5z"/><path d="M3204.5 768.5L3213.5 807.5L3207.5 813.5L3198.5 786.5z"/><path class="l" d="M3205.3 771.8L3203.6 771.1"/><path d="M3192.5 699.5L3204.5 768.5L3198.5 786.5L3189.5 732.5z"/><path class="l" d="M3203.6 771.1L3195.2 766.5"/><path class="l" d="M3193.3 704.4L3192.1 703.7"/><path d="M3183.5 603.5L3192.5 699.5L3189.5 732.5L3177.5 651.5z"/><path class="l" d="M3192.1 703.7L3184.7 700.1"/><path class="l" d="M3186.6 636.5L3179.6 634.8"/><path d="M3174.5 501.5L3183.5 603.5L3177.5 651.5L3168.5 546.5z"/><path class="l" d="M3179.6 634.8L3176 633.6"/><path class="l" d="M3180.4 568.8L3170 564.3"/><path d="M3162.5 426.5L3174.5 501.5L3168.5 546.5L3159.5 453.5z"/><path class="l" d="M3174.5 501.2L3163.6 496.3"/><path class="l" d="M3163.6 433.4L3161.8 432.4"/><path d="M3153.5 411.5L3162.5 426.5L3159.5 453.5L3147.5 408.5z"/><path class="l" d="M3161.8 432.4L3153.4 430.5"/><path d="M3144.5 465.5L3153.5 411.5L3147.5 408.5L3138.5 426.5z"/><path class="l" d="M3149.1 437.9L3139.8 435"/><path d="M3132.5 564.5L3144.5 465.5L3138.5 426.5L3129.5 507.5z"/><path class="l" d="M3139 511.1L3129.5 507.2"/><path class="l" d="M3139.8 435L3137.7 434"/><path d="M3123.5 672.5L3132.5 564.5L3129.5 507.5L3117.5 615.5z"/><path class="l" d="M3125 654.1L3121.4 652.7"/><path class="l" d="M3131 582.8L3121.6 578.7"/><path d="M3114.5 762.5L3123.5 672.5L3117.5 615.5L3108.5 717.5z"/><path class="l" d="M3118.1 726.5L3109.3 723.2"/><path class="l" d="M3121.4 652.7L3114.4 650.5"/><path d="M3102.5 819.5L3114.5 762.5L3108.5 717.5L3099.5 789.5z"/><path class="l" d="M3106.9 798.4L3099.9 793.8"/><path class="l" d="M3109.3 723.2L3107.9 722.6"/><path d="M3093.5 852.5L3102.5 819.5L3099.5 789.5L3087.5 834.5z"/><path class="l" d="M3099.9 793.8L3098.5 793.3"/><path d="M3084.5 867.5L3093.5 852.5L3087.5 834.5L3078.5 858.5z"/><path d="M3072.5 876.5L3084.5 867.5L3078.5 858.5L3069.5 867.5z"/><path d="M3063.5 879.5L3072.5 876.5L3069.5 867.5L3057.5 873.5z"/><path d="M3054.5 882.5L3063.5 879.5L3057.5 873.5L3048.5 876.5z"/><path d="M3042.5 885.5L3054.5 882.5L3048.5 876.5L3036.5 879.5z"/><path d="M3033.5 888.5L3042.5 885.5L3036.5 879.5L3027.5 882.5z"/><path d="M3024.5 891.5L3033.5 888.5L3027.5 882.5L3018.5 885.5z"/><path d="M3012.5 894.5L3024.5 891.5L3018.5 885.5L3006.5 888.5z"/><path d="M3003.5 897.5L3012.5 894.5L3006.5 888.5L2997.5 891.5z"/><path d="M2994.5 900.5L3003.5 897.5L2997.5 891.5L2988.5 894.5z"/><path d="M2982.5 903.5L2994.5 900.5L2988.5 894.5L2976.5 897.5z"/><path d="M2973.5 906.5L2982.5 903.5L2976.5 897.5L2967.5 900.5z"/><path d="M2964.5 909.5L2973.5 906.5L2967.5 900.5L2958.5 903.5z"/><path d="M2952.5 909.5L2964.5 909.5L2958.5 903.5L2946.5 906.5z"/><path d="M2943.5 912.5L2952.5 909.5L2946.5 906.5L2937.5 909.5z"/><path d="M2934.5 915.5L2943.5 912.5L2937.5 909.5L2928.5 912.5z"/><path d="M2922.5 918.5L2934.5 915.5L2928.5 912.5L2916.5 915.5z"/><path d="M2913.5 921.5L2922.5 918.5L2916.5 915.5L2907.5 918.5z"/><path d="M2904.5 924.5L2913.5 921.5L2907.5 918.5L2898.5 918.5z"/><path d="M2892.5 927.5L2904.5 924.5L2898.5 918.5L2886.5 921.5z"/><path d="M2883.5 930.5L2892.5 927.5L2886.5 921.5L2877.5 924.5z"/><path d="M2874.5 933.5L2883.5 930.5L2877.5 924.5L2868.5 927.5z"/><path d="M3360.5 804.5L3369.5 801.5L3363.5 795.5L3354.5 798.5z"/><path d="M3348.5 807.5L3360.5 804.5L3354.5 798.5L3345.5 801.5z"/><path d="M3339.5 810.5L3348.5 807.5L3345.5 801.5L3333.5 804.5z"/><path d="M3330.5 810.5L3339.5 810.5L3333.5 804.5L3324.5 807.5z"/><path d="M3318.5 813.5L3330.5 810.5L3324.5 807.5L3315.5 810.5z"/><path d="M3309.5 816.5L3318.5 813.5L3315.5 810.5L3303.5 813.5z"/><path d="M3300.5 819.5L3309.5 816.5L3303.5 813.5L3294.5 816.5z"/><path d="M3288.5 822.5L3300.5 819.5L3294.5 816.5L3285.5 819.5z"/><path d="M3279.5 825.5L3288.5 822.5L3285.5 819.5L3273.5 819.5z"/><path d="M3270.5 828.5L3279.5 825.5L3273.5 819.5L3264.5 822.5z"/><path d="M3258.5 831.5L3270.5 828.5L3264.5 822.5L3255.5 825.5z"/><path d="M3249.5 831.5L3258.5 831.5L3255.5 825.5L3243.5 828.5z"/><path d="M3240.5 831.5L3249.5 831.5L3243.5 828.5L3234.5 828.5z"/><path d="M3228.5 819.5L3240.5 831.5L3234.5 828.5L3222.5 822.5z"/><path d="M3219.5 792.5L3228.5 819.5L3222.5 822.5L3213.5 807.5z"/><path d="M3210.5 741.5L3219.5 792.5L3213.5 807.5L3204.5 768.5z"/><path class="l" d="M3216.2 773.6L3205.3 771.8"/><path d="M3198.5 657.5L3210.5 741.5L3204.5 768.5L3192.5 699.5z"/><path class="l" d="M3205.7 707.9L3193.3 704.4"/><path d="M3189.5 555.5L3198.5 657.5L3192.5 699.5L3183.5 603.5z"/><path class="l" d="M3197 640.1L3186.6 636.5"/><path class="l" d="M3191 572.8L3187.5 571.5"/><path d="M3180.5 462.5L3189.5 555.5L3183.5 603.5L3174.5 501.5z"/><path class="l" d="M3187.5 571.5L3180.4 568.8"/><path class="l" d="M3184.6 505.3L3174.5 501.3"/><path d="M3168.5 414.5L3180.5 462.5L3174.5 501.5L3162.5 426.5z"/><path class="l" d="M3174.5 501.3L3174.5 501.2"/><path class="l" d="M3174.4 438L3163.6 433.4"/><path d="M3159.5 435.5L3168.5 414.5L3162.5 426.5L3153.5 411.5z"/><path d="M3150.5 513.5L3159.5 435.5L3153.5 411.5L3144.5 465.5z"/><path class="l" d="M3150.5 513.2L3150.5 513.2"/><path class="l" d="M3158.7 442.7L3149.1 437.9"/><path d="M3138.5 621.5L3150.5 513.5L3144.5 465.5L3132.5 564.5z"/><path class="l" d="M3142.6 584.7L3134.5 583.5"/><path class="l" d="M3150.5 513.2L3139 511.1"/><path d="M3129.5 723.5L3138.5 621.5L3132.5 564.5L3123.5 672.5z"/><path class="l" d="M3135.4 656.5L3125 654.1"/><path class="l" d="M3134.5 583.5L3131 582.8"/><path d="M3120.5 798.5L3129.5 723.5L3123.5 672.5L3114.5 762.5z"/><path class="l" d="M3128.9 728.8L3118.1 726.5"/><path d="M3108.5 843.5L3120.5 798.5L3114.5 762.5L3102.5 819.5z"/><path class="l" d="M3119.5 802.3L3106.9 798.4"/><path d="M3099.5 864.5L3108.5 843.5L3102.5 819.5L3093.5 852.5z"/><path d="M3090.5 876.5L3099.5 864.5L3093.5 852.5L3084.5 867.5z"/><path d="M3078.5 882.5L3090.5 876.5L3084.5 867.5L3072.5 876.5z"/><path d="M3069.5 885.5L3078.5 882.5L3072.5 876.5L3063.5 879.5z"/><path d="M3060.5 888.5L3069.5 885.5L3063.5 879.5L3054.5 882.5z"/><path d="M3048.5 891.5L3060.5 888.5L3054.5 882.5L3042.5 885.5z"/><path d="M3039.5 894.5L3048.5 891.5L3042.5 885.5L3033.5 888.5z"/><path d="M3030.5 897.5L3039.5 894.5L3033.5 888.5L3024.5 891.5z"/><path d="M3018.5 897.5L3030.5 897.5L3024.5 891.5L3012.5 894.5z"/><path d="M3009.5 900.5L3018.5 897.5L3012.5 894.5L3003.5 897.5z"/><path d="M3000.5 903.5L3009.5 900.5L3003.5 897.5L2994.5 900.5z"/><path d="M2988.5 906.5L3000.5 903.5L2994.5 900.5L2982.5 903.5z"/><path d="M2979.5 909.5L2988.5 906.5L2982.5 903.5L2973.5 906.5z"/><path d="M2970.5 912.5L2979.5 909.5L2973.5 906.5L2964.5 909.5z"/><path d="M2958.5 915.5L2970.5 912.5L2964.5 909.5L2952.5 909.5z"/><path d="M2949.5 918.5L2958.5 915.5L2952.5 909.5L2943.5 912.5z"/><path d="M2940.5 921.5L2949.5 918.5L2943.5 912.5L2934.5 915.5z"/><path d="M2928.5 924.5L2940.5 921.5L2934.5 915.5L2922.5 918.5z"/><path d="M2919.5 927.5L2928.5 924.5L2922.5 918.5L2913.5 921.5z"/><path d="M2910.5 930.5L2919.5 927.5L2913.5 921.5L2904.5 924.5z"/><path d="M2898.5 933.5L2910.5 930.5L2904.5 924.5L2892.5 927.5z"/><path d="M2889.5 936.5L2898.5 933.5L2892.5 927.5L2883.5 930.5z"/><path d="M2880.5 939.5L2889.5 936.5L2883.5 930.5L2874.5 933.5z"/><path d="M3366.5 807.5L3375.5 804.5L3369.5 801.5L3360.5 804.5z"/><path d="M3354.5 810.5L3366.5 807.5L3360.5 804.5L3348.5 807.5z"/><path d="M3345.5 813.5L3354.5 810.5L3348.5 807.5L3339.5 810.5z"/><path d="M3336.5 816.5L3345.5 813.5L3339.5 810.5L3330.5 810.5z"/><path d="M3324.5 819.5L3336.5 816.5L3330.5 810.5L3318.5 813.5z"/><path d="M3315.5 822.5L3324.5 819.5L3318.5 813.5L3309.5 816.5z"/><path d="M3306.5 825.5L3315.5 822.5L3309.5 816.5L3300.5 819.5z"/><path d="M3294.5 828.5L3306.5 825.5L3300.5 819.5L3288.5 822.5z"/><path d="M3285.5 831.5L3294.5 828.5L3288.5 822.5L3279.5 825.5z"/><path d="M3276.5 834.5L3285.5 831.5L3279.5 825.5L3270.5 828.5z"/><path d="M3264.5 834.5L3276.5 834.5L3270.5 828.5L3258.5 831.5z"/><path d="M3255.5 834.5L3264.5 834.5L3258.5 831.5L3249.5 831.5z"/><path d="M3246.5 831.5L3255.5 834.5L3249.5 831.5L3240.5 831.5z"/><path d="M3234.5 813.5L3246.5 831.5L3240.5 831.5L3228.5 819.5z"/><path d="M3225.5 774.5L3234.5 813.5L3228.5 819.5L3219.5 792.5z"/><path class="l" d="M3226.3 777.8L3224.6 777.1"/><path d="M3216.5 705.5L3225.5 774.5L3219.5 792.5L3210.5 741.5z"/><path class="l" d="M3224.6 777.1L3216.2 773.6"/><path class="l" d="M3217.1 710.4L3215.7 710.1"/><path d="M3204.5 609.5L3216.5 705.5L3210.5 741.5L3198.5 657.5z"/><path class="l" d="M3215.7 710.1L3205.7 707.9"/><path class="l" d="M3208.6 642.5L3200.6 640.8"/><path d="M3195.5 507.5L3204.5 609.5L3198.5 657.5L3189.5 555.5z"/><path class="l" d="M3200.6 640.8L3197 640.1"/><path class="l" d="M3201.4 574.8L3191 572.8"/><path d="M3186.5 435.5L3195.5 507.5L3189.5 555.5L3180.5 462.5z"/><path class="l" d="M3195.5 507.2L3184.6 505.3"/><path class="l" d="M3187.3 442.1L3185.2 441.4"/><path d="M3174.5 420.5L3186.5 435.5L3180.5 462.5L3168.5 414.5z"/><path class="l" d="M3185.2 441.4L3174.4 438"/><path d="M3165.5 471.5L3174.5 420.5L3168.5 414.5L3159.5 435.5z"/><path class="l" d="M3170.1 445.4L3160.8 443.3"/><path d="M3156.5 570.5L3165.5 471.5L3159.5 435.5L3150.5 513.5z"/><path class="l" d="M3161.4 517.1L3150.5 513.2"/><path class="l" d="M3160.8 443.3L3158.7 442.7"/><path d="M3144.5 678.5L3156.5 570.5L3150.5 513.5L3138.5 621.5z"/><path class="l" d="M3146.5 660.1L3142.4 658.7"/><path class="l" d="M3154.5 588.8L3142.6 584.7"/><path d="M3135.5 768.5L3144.5 678.5L3138.5 621.5L3129.5 723.5z"/><path class="l" d="M3139.1 732.5L3130.3 729.2"/><path class="l" d="M3142.4 658.7L3135.4 656.5"/><path d="M3126.5 825.5L3135.5 768.5L3129.5 723.5L3120.5 798.5z"/><path class="l" d="M3129.8 804.4L3121.4 802.4"/><path class="l" d="M3130.3 729.2L3128.9 728.8"/><path d="M3114.5 858.5L3126.5 825.5L3120.5 798.5L3108.5 843.5z"/><path class="l" d="M3121.4 802.4L3119.5 802.3"/><path d="M3105.5 873.5L3114.5 858.5L3108.5 843.5L3099.5 864.5z"/><path d="M3096.5 882.5L3105.5 873.5L3099.5 864.5L3090.5 876.5z"/><path d="M3084.5 885.5L3096.5 882.5L3090.5 876.5L3078.5 882.5z"/><path d="M3075.5 888.5L3084.5 885.5L3078.5 882.5L3069.5 885.5z"/><path d="M3066.5 891.5L3075.5 888.5L3069.5 885.5L3060.5 888.5z"/><path d="M3054.5 894.5L3066.5 891.5L3060.5 888.5L3048.5 891.5z"/><path d="M3045.5 897.5L3054.5 894.5L3048.5 891.5L3039.5 894.5z"/><path d="M3036.5 900.5L3045.5 897.5L3039.5 894.5L3030.5 897.5z"/><path d="M3024.5 903.5L3036.5 900.5L3030.5 897.5L3018.5 897.5z"/><path d="M3015.5 906.5L3024.5 903.5L3018.5 897.5L3009.5 900.5z"/><path d="M3006.5 909.5L3015.5 906.5L3009.5 900.5L3000.5 903.5z"/><path d="M2994.5 912.5L3006.5 909.5L3000.5 903.5L2988.5 906.5z"/><path d="M2985.5 915.5L2994.5 912.5L2988.5 906.5L2979.5 909.5z"/><path d="M2976.5 918.5L2985.5 915.5L2979.5 909.5L2970.5 912.5z"/><path d="M2964.5 921.5L2976.5 918.5L2970.5 912.5L2958.5 915.5z"/><path d="M2955.5 924.5L2964.5 921.5L2958.5 915.5L2949.5 918.5z"/><path d="M2946.5 927.5L2955.5 924.5L2949.5 918.5L2940.5 921.5z"/><path d="M2934.5 930.5L2946.5 927.5L2940.5 921.5L2928.5 924.5z"/><path d="M2925.5 930.5L2934.5 930.5L2928.5 924.5L2919.5 927.5z"/><path d="M2916.5 933.5L2925.5 930.5L2919.5 927.5L2910.5 930.5z"/><path d="M2904.5 936.5L2916.5 933.5L2910.5 930.5L2898.5 933.5z"/><path d="M2895.5 939.5L2904.5 936.5L2898.5 933.5L2889.5 936.5z"/><path d="M2883.5 942.5L2895.5 939.5L2889.5 936.5L2880.5 939.5z"/><path d="M3372.5 813.5L3381.5 810.5L3375.5 804.5L3366.5 807.5z"/><path d="M3360.5 816.5L3372.5 813.5L3366.5 807.5L3354.5 810.5z"/><path d="M3351.5 819.5L3360.5 816.5L3354.5 810.5L3345.5 813.5z"/><path d="M3342.5 822.5L3351.5 819.5L3345.5 813.5L3336.5 816.5z"/><path d="M3330.5 825.5L3342.5 822.5L3336.5 816.5L3324.5 819.5z"/><path d="M3321.5 828.5L3330.5 825.5L3324.5 819.5L3315.5 822.5z"/><path d="M3312.5 831.5L3321.5 828.5L3315.5 822.5L3306.5 825.5z"/><path d="M3300.5 831.5L3312.5 831.5L3306.5 825.5L3294.5 828.5z"/><path d="M3291.5 834.5L3300.5 831.5L3294.5 828.5L3285.5 831.5z"/><path d="M3282.5 837.5L3291.5 834.5L3285.5 831.5L3276.5 834.5z"/><path d="M3270.5 840.5L3282.5 837.5L3276.5 834.5L3264.5 834.5z"/><path d="M3261.5 837.5L3270.5 840.5L3264.5 834.5L3255.5 834.5z"/><path d="M3252.5 828.5L3261.5 837.5L3255.5 834.5L3246.5 831.5z"/><path d="M3240.5 801.5L3252.5 828.5L3246.5 831.5L3234.5 813.5z"/><path d="M3231.5 747.5L3240.5 801.5L3234.5 813.5L3225.5 774.5z"/><path class="l" d="M3237.2 781.5L3226.3 777.8"/><path d="M3222.5 663.5L3231.5 747.5L3225.5 774.5L3216.5 705.5z"/><path class="l" d="M3227.9 713.9L3217.1 710.4"/><path d="M3210.5 561.5L3222.5 663.5L3216.5 705.5L3204.5 609.5z"/><path class="l" d="M3220.5 646.1L3208.6 642.5"/><path class="l" d="M3212.5 578.8L3208.5 577.5"/><path d="M3201.5 468.5L3210.5 561.5L3204.5 609.5L3195.5 507.5z"/><path class="l" d="M3208.5 577.5L3201.4 574.8"/><path class="l" d="M3205.6 511.3L3195.5 507.3"/><path d="M3192.5 420.5L3201.5 468.5L3195.5 507.5L3186.5 435.5z"/><path class="l" d="M3195.5 507.3L3195.5 507.2"/><path class="l" d="M3196.9 444L3187.3 442.1"/><path d="M3180.5 441.5L3192.5 420.5L3186.5 435.5L3174.5 420.5z"/><path d="M3171.5 522.5L3180.5 441.5L3174.5 420.5L3165.5 471.5z"/><path class="l" d="M3171.5 522.2L3171.5 522.2"/><path class="l" d="M3179.7 449L3170.1 445.4"/><path d="M3162.5 630.5L3171.5 522.5L3165.5 471.5L3156.5 570.5z"/><path class="l" d="M3165.6 593.7L3158.5 590.5"/><path class="l" d="M3171.5 522.2L3161.4 517.1"/><path d="M3150.5 729.5L3162.5 630.5L3156.5 570.5L3144.5 678.5z"/><path class="l" d="M3158.4 664.5L3146.5 660.1"/><path class="l" d="M3158.5 590.5L3154.5 588.8"/><path d="M3141.5 804.5L3150.5 729.5L3144.5 678.5L3135.5 768.5z"/><path class="l" d="M3149.9 734.8L3139.1 732.5"/><path d="M3132.5 849.5L3141.5 804.5L3135.5 768.5L3126.5 825.5z"/><path class="l" d="M3140.7 808.3L3129.8 804.4"/><path d="M3120.5 870.5L3132.5 849.5L3126.5 825.5L3114.5 858.5z"/><path d="M3111.5 882.5L3120.5 870.5L3114.5 858.5L3105.5 873.5z"/><path d="M3102.5 888.5L3111.5 882.5L3105.5 873.5L3096.5 882.5z"/><path d="M3090.5 891.5L3102.5 888.5L3096.5 882.5L3084.5 885.5z"/><path d="M3081.5 894.5L3090.5 891.5L3084.5 885.5L3075.5 888.5z"/><path d="M3069.5 897.5L3081.5 894.5L3075.5 888.5L3066.5 891.5z"/><path d="M3060.5 900.5L3069.5 897.5L3066.5 891.5L3054.5 894.5z"/><path d="M3051.5 903.5L3060.5 900.5L3054.5 894.5L3045.5 897.5z"/><path d="M3039.5 906.5L3051.5 903.5L3045.5 897.5L3036.5 900.5z"/><path d="M3030.5 909.5L3039.5 906.5L3036.5 900.5L3024.5 903.5z"/><path d="M3021.5 912.5L3030.5 909.5L3024.5 903.5L3015.5 906.5z"/><path d="M3009.5 915.5L3021.5 912.5L3015.5 906.5L3006.5 909.5z"/><path d="M3000.5 918.5L3009.5 915.5L3006.5 909.5L2994.5 912.5z"/><path d="M2991.5 918.5L3000.5 918.5L2994.5 912.5L2985.5 915.5z"/><path d="M2979.5 921.5L2991.5 918.5L2985.5 915.5L2976.5 918.5z"/><path d="M2970.5 924.5L2979.5 921.5L2976.5 918.5L2964.5 921.5z"/><path d="M2961.5 927.5L2970.5 924.5L2964.5 921.5L2955.5 924.5z"/><path d="M2949.5 930.5L2961.5 927.5L2955.5 924.5L2946.5 927.5z"/><path d="M2940.5 933.5L2949.5 930.5L2946.5 927.5L2934.5 930.5z"/><path d="M2931.5 936.5L2940.5 933.5L2934.5 930.5L2925.5 930.5z"/><path d="M2919.5 939.5L2931.5 936.5L2925.5 930.5L2916.5 933.5z"/><path d="M2910.5 942.5L2919.5 939.5L2916.5 933.5L2904.5 936.5z"/><path d="M2901.5 945.5L2910.5 942.5L2904.5 936.5L2895.5 939.5z"/><path d="M2889.5 948.5L2901.5 945.5L2895.5 939.5L2883.5 942.5z"/><path d="M3378.5 819.5L3387.5 816.5L3381.5 810.5L3372.5 813.5z"/><path d="M3366.5 819.5L3378.5 819.5L3372.5 813.5L3360.5 816.5z"/><path d="M3357.5 822.5L3366.5 819.5L3360.5 816.5L3351.5 819.5z"/><path d="M3348.5 825.5L3357.5 822.5L3351.5 819.5L3342.5 822.5z"/><path d="M3336.5 828.5L3348.5 825.5L3342.5 822.5L3330.5 825.5z"/><path d="M3327.5 831.5L3336.5 828.5L3330.5 825.5L3321.5 828.5z"/><path d="M3318.5 834.5L3327.5 831.5L3321.5 828.5L3312.5 831.5z"/><path d="M3306.5 837.5L3318.5 834.5L3312.5 831.5L3300.5 831.5z"/><path d="M3297.5 840.5L3306.5 837.5L3300.5 831.5L3291.5 834.5z"/><path d="M3288.5 843.5L3297.5 840.5L3291.5 834.5L3282.5 837.5z"/><path d="M3276.5 843.5L3288.5 843.5L3282.5 837.5L3270.5 840.5z"/><path d="M3267.5 837.5L3276.5 843.5L3270.5 840.5L3261.5 837.5z"/><path d="M3258.5 819.5L3267.5 837.5L3261.5 837.5L3252.5 828.5z"/><path d="M3246.5 780.5L3258.5 819.5L3252.5 828.5L3240.5 801.5z"/><path class="l" d="M3247.5 783.8L3245.6 783.5"/><path d="M3237.5 714.5L3246.5 780.5L3240.5 801.5L3231.5 747.5z"/><path class="l" d="M3245.6 783.5L3237.2 781.5"/><path class="l" d="M3238.1 719.2L3236.7 718.7"/><path d="M3225.5 618.5L3237.5 714.5L3231.5 747.5L3222.5 663.5z"/><path class="l" d="M3236.7 718.7L3227.9 713.9"/><path class="l" d="M3229.6 651.5L3223.5 647.9"/><path d="M3216.5 516.5L3225.5 618.5L3222.5 663.5L3210.5 561.5z"/><path class="l" d="M3223.5 647.9L3220.5 646.1"/><path class="l" d="M3222.4 583.8L3212.5 578.8"/><path d="M3207.5 441.5L3216.5 516.5L3210.5 561.5L3201.5 468.5z"/><path class="l" d="M3216.5 516.2L3205.6 511.3"/><path class="l" d="M3208.3 448.4L3206.2 447.4"/><path d="M3195.5 426.5L3207.5 441.5L3201.5 468.5L3192.5 420.5z"/><path class="l" d="M3206.2 447.4L3196.9 444"/><path d="M3186.5 480.5L3195.5 426.5L3192.5 420.5L3180.5 441.5z"/><path class="l" d="M3191.1 452.9L3181.8 450"/><path d="M3177.5 579.5L3186.5 480.5L3180.5 441.5L3171.5 522.5z"/><path class="l" d="M3182.4 526.1L3171.5 522.2"/><path class="l" d="M3181.8 450L3179.7 449"/><path d="M3165.5 687.5L3177.5 579.5L3171.5 522.5L3162.5 630.5z"/><path class="l" d="M3167.5 669.1L3164.5 667.7"/><path class="l" d="M3175.5 597.8L3165.6 593.7"/><path d="M3156.5 774.5L3165.5 687.5L3162.5 630.5L3150.5 729.5z"/><path class="l" d="M3160.1 739.7L3151.3 735.2"/><path class="l" d="M3164.5 667.7L3158.4 664.5"/><path d="M3147.5 834.5L3156.5 774.5L3150.5 729.5L3141.5 804.5z"/><path class="l" d="M3150.8 812.3L3142.4 808.8"/><path class="l" d="M3151.3 735.2L3149.9 734.8"/><path d="M3135.5 867.5L3147.5 834.5L3141.5 804.5L3132.5 849.5z"/><path class="l" d="M3142.4 808.8L3140.7 808.3"/><path d="M3126.5 882.5L3135.5 867.5L3132.5 849.5L3120.5 870.5z"/><path d="M3117.5 888.5L3126.5 882.5L3120.5 870.5L3111.5 882.5z"/><path d="M3105.5 894.5L3117.5 888.5L3111.5 882.5L3102.5 888.5z"/><path d="M3096.5 897.5L3105.5 894.5L3102.5 888.5L3090.5 891.5z"/><path d="M3087.5 900.5L3096.5 897.5L3090.5 891.5L3081.5 894.5z"/><path d="M3075.5 903.5L3087.5 900.5L3081.5 894.5L3069.5 897.5z"/><path d="M3066.5 906.5L3075.5 903.5L3069.5 897.5L3060.5 900.5z"/><path d="M3057.5 909.5L3066.5 906.5L3060.5 900.5L3051.5 903.5z"/><path d="M3045.5 909.5L3057.5 909.5L3051.5 903.5L3039.5 906.5z"/><path d="M3036.5 912.5L3045.5 909.5L3039.5 906.5L3030.5 909.5z"/><path d="M3027.5 915.5L3036.5 912.5L3030.5 909.5L3021.5 912.5z"/><path d="M3015.5 918.5L3027.5 915.5L3021.5 912.5L3009.5 915.5z"/><path d="M3006.5 921.5L3015.5 918.5L3009.5 915.5L3000.5 918.5z"/><path d="M2997.5 924.5L3006.5 921.5L3000.5 918.5L2991.5 918.5z"/><path d="M2985.5 927.5L2997.5 924.5L2991.5 918.5L2979.5 921.5z"/><path d="M2976.5 930.5L2985.5 927.5L2979.5 921.5L2970.5 924.5z"/><path d="M2967.5 933.5L2976.5 930.5L2970.5 924.5L2961.5 927.5z"/><path d="M2955.5 936.5L2967.5 933.5L2961.5 927.5L2949.5 930.5z"/><path d="M2946.5 939.5L2955.5 936.5L2949.5 930.5L2940.5 933.5z"/><path d="M2937.5 942.5L2946.5 939.5L2940.5 933.5L2931.5 936.5z"/><path d="M2925.5 945.5L2937.5 942.5L2931.5 936.5L2919.5 939.5z"/><path d="M2916.5 948.5L2925.5 945.5L2919.5 939.5L2910.5 942.5z"/><path d="M2907.5 951.5L2916.5 948.5L2910.5 942.5L2901.5 945.5z"/><path d="M2895.5 954.5L2907.5 951.5L2901.5 945.5L2889.5 948.5z"/><path d="M3381.5 822.5L3393.5 819.5L3387.5 816.5L3378.5 819.5z"/><path d="M3372.5 825.5L3381.5 822.5L3378.5 819.5L3366.5 819.5z"/><path d="M3363.5 828.5L3372.5 825.5L3366.5 819.5L3357.5 822.5z"/><path d="M3351.5 831.5L3363.5 828.5L3357.5 822.5L3348.5 825.5z"/><path d="M3342.5 834.5L3351.5 831.5L3348.5 825.5L3336.5 828.5z"/><path d="M3333.5 837.5L3342.5 834.5L3336.5 828.5L3327.5 831.5z"/><path d="M3321.5 840.5L3333.5 837.5L3327.5 831.5L3318.5 834.5z"/><path d="M3312.5 843.5L3321.5 840.5L3318.5 834.5L3306.5 837.5z"/><path d="M3303.5 846.5L3312.5 843.5L3306.5 837.5L3297.5 840.5z"/><path d="M3291.5 846.5L3303.5 846.5L3297.5 840.5L3288.5 843.5z"/><path d="M3282.5 843.5L3291.5 846.5L3288.5 843.5L3276.5 843.5z"/><path d="M3273.5 834.5L3282.5 843.5L3276.5 843.5L3267.5 837.5z"/><path d="M3261.5 807.5L3273.5 834.5L3267.5 837.5L3258.5 819.5z"/><path d="M3252.5 753.5L3261.5 807.5L3258.5 819.5L3246.5 780.5z"/><path class="l" d="M3258.2 787.5L3247.5 783.8"/><path d="M3243.5 672.5L3252.5 753.5L3246.5 780.5L3237.5 714.5z"/><path class="l" d="M3248.9 721.1L3238.1 719.2"/><path d="M3231.5 567.5L3243.5 672.5L3237.5 714.5L3225.5 618.5z"/><path class="l" d="M3241.5 654.6L3229.6 651.5"/><path class="l" d="M3233.5 585.3L3229.5 584.5"/><path d="M3222.5 474.5L3231.5 567.5L3225.5 618.5L3216.5 516.5z"/><path class="l" d="M3229.5 584.5L3222.4 583.8"/><path class="l" d="M3226.6 517.3L3216.5 516.2"/><path d="M3213.5 429.5L3222.5 474.5L3216.5 516.5L3207.5 441.5z"/><path class="l" d="M3216.5 516.2L3216.5 516.2"/><path class="l" d="M3217.9 451.5L3208.3 448.4"/><path d="M3201.5 447.5L3213.5 429.5L3207.5 441.5L3195.5 426.5z"/><path d="M3192.5 528.5L3201.5 447.5L3195.5 426.5L3186.5 480.5z"/><path class="l" d="M3192.5 528.2L3192.5 528.2"/><path class="l" d="M3200.7 455L3191.1 452.9"/><path d="M3183.5 636.5L3192.5 528.5L3186.5 480.5L3177.5 579.5z"/><path class="l" d="M3186.6 599.7L3179.5 598.5"/><path class="l" d="M3192.5 528.2L3182.4 526.1"/><path d="M3171.5 738.5L3183.5 636.5L3177.5 579.5L3165.5 687.5z"/><path class="l" d="M3179.4 671.5L3167.5 669.1"/><path class="l" d="M3179.5 598.5L3175.5 597.8"/><path d="M3162.5 810.5L3171.5 738.5L3165.5 687.5L3156.5 774.5z"/><path class="l" d="M3170.9 743.6L3160.1 739.7"/><path d="M3153.5 855.5L3162.5 810.5L3156.5 774.5L3147.5 834.5z"/><path class="l" d="M3161.7 814.3L3150.8 812.3"/><path d="M3141.5 879.5L3153.5 855.5L3147.5 834.5L3135.5 867.5z"/><path d="M3132.5 888.5L3141.5 879.5L3135.5 867.5L3126.5 882.5z"/><path d="M3123.5 894.5L3132.5 888.5L3126.5 882.5L3117.5 888.5z"/><path d="M3111.5 897.5L3123.5 894.5L3117.5 888.5L3105.5 894.5z"/><path d="M3102.5 900.5L3111.5 897.5L3105.5 894.5L3096.5 897.5z"/><path d="M3093.5 903.5L3102.5 900.5L3096.5 897.5L3087.5 900.5z"/><path d="M3081.5 906.5L3093.5 903.5L3087.5 900.5L3075.5 903.5z"/><path d="M3072.5 909.5L3081.5 906.5L3075.5 903.5L3066.5 906.5z"/><path d="M3063.5 912.5L3072.5 909.5L3066.5 906.5L3057.5 909.5z"/><path d="M3051.5 915.5L3063.5 912.5L3057.5 909.5L3045.5 909.5z"/><path d="M3042.5 918.5L3051.5 915.5L3045.5 909.5L3036.5 912.5z"/><path d="M3033.5 921.5L3042.5 918.5L3036.5 912.5L3027.5 915.5z"/><path d="M3021.5 924.5L3033.5 921.5L3027.5 915.5L3015.5 918.5z"/><path d="M3012.5 927.5L3021.5 924.5L3015.5 918.5L3006.5 921.5z"/><path d="M3003.5 930.5L3012.5 927.5L3006.5 921.5L2997.5 924.5z"/><path d="M2991.5 933.5L3003.5 930.5L2997.5 924.5L2985.5 927.5z"/><path d="M2982.5 936.5L2991.5 933.5L2985.5 927.5L2976.5 930.5z"/><path d="M2973.5 939.5L2982.5 936.5L2976.5 930.5L2967.5 933.5z"/><path d="M2961.5 942.5L2973.5 939.5L2967.5 933.5L2955.5 936.5z"/><path d="M2952.5 942.5L2961.5 942.5L2955.5 936.5L2946.5 939.5z"/><path d="M2943.5 945.5L2952.5 942.5L2946.5 939.5L2937.5 942.5z"/><path d="M2931.5 948.5L2943.5 945.5L2937.5 942.5L2925.5 945.5z"/><path d="M2922.5 951.5L2931.5 948.5L2925.5 945.5L2916.5 948.5z"/><path d="M2913.5 954.5L2922.5 951.5L2916.5 948.5L2907.5 951.5z"/><path d="M2901.5 957.5L2913.5 954.5L2907.5 951.5L2895.5 954.5z"/><path d="M3387.5 828.5L3399.5 825.5L3393.5 819.5L3381.5 822.5z"/><path d="M3378.5 831.5L3387.5 828.5L3381.5 822.5L3372.5 825.5z"/><path d="M3369.5 834.5L3378.5 831.5L3372.5 825.5L3363.5 828.5z"/><path d="M3357.5 837.5L3369.5 834.5L3363.5 828.5L3351.5 831.5z"/><path d="M3348.5 840.5L3357.5 837.5L3351.5 831.5L3342.5 834.5z"/><path d="M3339.5 843.5L3348.5 840.5L3342.5 834.5L3333.5 837.5z"/><path d="M3327.5 843.5L3339.5 843.5L3333.5 837.5L3321.5 840.5z"/><path d="M3318.5 846.5L3327.5 843.5L3321.5 840.5L3312.5 843.5z"/><path d="M3309.5 849.5L3318.5 846.5L3312.5 843.5L3303.5 846.5z"/><path d="M3297.5 849.5L3309.5 849.5L3303.5 846.5L3291.5 846.5z"/><path d="M3288.5 843.5L3297.5 849.5L3291.5 846.5L3282.5 843.5z"/><path d="M3279.5 828.5L3288.5 843.5L3282.5 843.5L3273.5 834.5z"/><path d="M3267.5 789.5L3279.5 828.5L3273.5 834.5L3261.5 807.5z"/><path class="l" d="M3268.5 792.8L3266.6 792.1"/><path d="M3258.5 720.5L3267.5 789.5L3261.5 807.5L3252.5 753.5z"/><path class="l" d="M3266.6 792.1L3258.2 787.5"/><path class="l" d="M3259.1 725.4L3257.7 724.7"/><path d="M3249.5 624.5L3258.5 720.5L3252.5 753.5L3243.5 672.5z"/><path class="l" d="M3257.7 724.7L3248.9 721.1"/><path class="l" d="M3252.6 657.5L3245.6 655.8"/><path d="M3237.5 522.5L3249.5 624.5L3243.5 672.5L3231.5 567.5z"/><path class="l" d="M3245.6 655.8L3241.5 654.6"/><path class="l" d="M3245.4 589.8L3233.5 585.3"/><path d="M3228.5 447.5L3237.5 522.5L3231.5 567.5L3222.5 474.5z"/><path class="l" d="M3237.5 522.2L3226.6 517.3"/><path class="l" d="M3229.3 454.4L3227.2 453.4"/><path d="M3219.5 432.5L3228.5 447.5L3222.5 474.5L3213.5 429.5z"/><path class="l" d="M3227.2 453.4L3217.9 451.5"/><path d="M3207.5 486.5L3219.5 432.5L3213.5 429.5L3201.5 447.5z"/><path class="l" d="M3213.6 458.9L3202.8 456"/><path d="M3198.5 585.5L3207.5 486.5L3201.5 447.5L3192.5 528.5z"/><path class="l" d="M3203.4 532.1L3192.5 528.2"/><path class="l" d="M3202.8 456L3200.7 455"/><path d="M3189.5 693.5L3198.5 585.5L3192.5 528.5L3183.5 636.5z"/><path class="l" d="M3191 675.1L3187.4 673.7"/><path class="l" d="M3197 603.8L3186.6 599.7"/><path d="M3177.5 783.5L3189.5 693.5L3183.5 636.5L3171.5 738.5z"/><path class="l" d="M3182.3 747.5L3172.3 744.2"/><path class="l" d="M3187.4 673.7L3179.4 671.5"/><path d="M3168.5 840.5L3177.5 783.5L3171.5 738.5L3162.5 810.5z"/><path class="l" d="M3171.8 819.4L3163.4 814.8"/><path class="l" d="M3172.3 744.2L3170.9 743.6"/><path d="M3159.5 873.5L3168.5 840.5L3162.5 810.5L3153.5 855.5z"/><path class="l" d="M3163.4 814.8L3161.7 814.3"/><path d="M3147.5 888.5L3159.5 873.5L3153.5 855.5L3141.5 879.5z"/><path d="M3138.5 897.5L3147.5 888.5L3141.5 879.5L3132.5 888.5z"/><path d="M3129.5 900.5L3138.5 897.5L3132.5 888.5L3123.5 894.5z"/><path d="M3117.5 903.5L3129.5 900.5L3123.5 894.5L3111.5 897.5z"/><path d="M3108.5 906.5L3117.5 903.5L3111.5 897.5L3102.5 900.5z"/><path d="M3099.5 909.5L3108.5 906.5L3102.5 900.5L3093.5 903.5z"/><path d="M3087.5 912.5L3099.5 909.5L3093.5 903.5L3081.5 906.5z"/><path d="M3078.5 915.5L3087.5 912.5L3081.5 906.5L3072.5 909.5z"/><path d="M3069.5 918.5L3078.5 915.5L3072.5 909.5L3063.5 912.5z"/><path d="M3057.5 921.5L3069.5 918.5L3063.5 912.5L3051.5 915.5z"/><path d="M3048.5 924.5L3057.5 921.5L3051.5 915.5L3042.5 918.5z"/><path d="M3039.5 927.5L3048.5 924.5L3042.5 918.5L3033.5 921.5z"/><path d="M3027.5 930.5L3039.5 927.5L3033.5 921.5L3021.5 924.5z"/><path d="M3018.5 930.5L3027.5 930.5L3021.5 924.5L3012.5 927.5z"/><path d="M3009.5 933.5L3018.5 930.5L3012.5 927.5L3003.5 930.5z"/><path d="M2997.5 936.5L3009.5 933.5L3003.5 930.5L2991.5 933.5z"/><path d="M2988.5 939.5L2997.5 936.5L2991.5 933.5L2982.5 936.5z"/><path d="M2979.5 942.5L2988.5 939.5L2982.5 936.5L2973.5 939.5z"/><path d="M2967.5 945.5L2979.5 942.5L2973.5 939.5L2961.5 942.5z"/><path d="M2958.5 948.5L2967.5 945.5L2961.5 942.5L2952.5 942.5z"/><path d="M2949.5 951.5L2958.5 948.5L2952.5 942.5L2943.5 945.5z"/><path d="M2937.5 954.5L2949.5 951.5L2943.5 945.5L2931.5 948.5z"/><path d="M2928.5 957.5L2937.5 954.5L2931.5 948.5L2922.5 951.5z"/><path d="M2919.5 960.5L2928.5 957.5L2922.5 951.5L2913.5 954.5z"/><path d="M2907.5 963.5L2919.5 960.5L2913.5 954.5L2901.5 957.5z"/><path d="M3393.5 831.5L3405.5 831.5L3399.5 825.5L3387.5 828.5z"/><path d="M3384.5 834.5L3393.5 831.5L3387.5 828.5L3378.5 831.5z"/><path d="M3375.5 837.5L3384.5 834.5L3378.5 831.5L3369.5 834.5z"/><path d="M3363.5 840.5L3375.5 837.5L3369.5 834.5L3357.5 837.5z"/><path d="M3354.5 843.5L3363.5 840.5L3357.5 837.5L3348.5 840.5z"/><path d="M3345.5 846.5L3354.5 843.5L3348.5 840.5L3339.5 843.5z"/><path d="M3333.5 849.5L3345.5 846.5L3339.5 843.5L3327.5 843.5z"/><path d="M3324.5 852.5L3333.5 849.5L3327.5 843.5L3318.5 846.5z"/><path d="M3315.5 852.5L3324.5 852.5L3318.5 846.5L3309.5 849.5z"/><path d="M3303.5 852.5L3315.5 852.5L3309.5 849.5L3297.5 849.5z"/><path d="M3294.5 840.5L3303.5 852.5L3297.5 849.5L3288.5 843.5z"/><path d="M3285.5 813.5L3294.5 840.5L3288.5 843.5L3279.5 828.5z"/><path d="M3273.5 762.5L3285.5 813.5L3279.5 828.5L3267.5 789.5z"/><path class="l" d="M3281.1 794.6L3268.5 792.8"/><path d="M3264.5 678.5L3273.5 762.5L3267.5 789.5L3258.5 720.5z"/><path class="l" d="M3269.9 728.9L3259.1 725.4"/><path d="M3255.5 576.5L3264.5 678.5L3258.5 720.5L3249.5 624.5z"/><path class="l" d="M3263 661.1L3252.6 657.5"/><path class="l" d="M3257 593.8L3253.5 592.5"/><path d="M3243.5 483.5L3255.5 576.5L3249.5 624.5L3237.5 522.5z"/><path class="l" d="M3253.5 592.5L3245.4 589.8"/><path class="l" d="M3249 526.3L3237.5 522.3"/><path d="M3234.5 435.5L3243.5 483.5L3237.5 522.5L3228.5 447.5z"/><path class="l" d="M3237.5 522.3L3237.5 522.2"/><path class="l" d="M3238.9 459L3229.3 454.4"/><path d="M3225.5 456.5L3234.5 435.5L3228.5 447.5L3219.5 432.5z"/><path d="M3213.5 534.5L3225.5 456.5L3219.5 432.5L3207.5 486.5z"/><path class="l" d="M3213.5 534.2L3213.5 534.2"/><path class="l" d="M3224.4 463.7L3213.6 458.9"/><path d="M3204.5 642.5L3213.5 534.5L3207.5 486.5L3198.5 585.5z"/><path class="l" d="M3207.6 605.7L3200.5 604.5"/><path class="l" d="M3213.5 534.2L3203.4 532.1"/><path d="M3195.5 744.5L3204.5 642.5L3198.5 585.5L3189.5 693.5z"/><path class="l" d="M3201.4 677.5L3191 675.1"/><path class="l" d="M3200.5 604.5L3197 603.8"/><path d="M3183.5 819.5L3195.5 744.5L3189.5 693.5L3177.5 783.5z"/><path class="l" d="M3194.7 749.8L3182.3 747.5"/><path d="M3174.5 864.5L3183.5 819.5L3177.5 783.5L3168.5 840.5z"/><path class="l" d="M3182.7 823.3L3171.8 819.4"/><path d="M3165.5 885.5L3174.5 864.5L3168.5 840.5L3159.5 873.5z"/><path d="M3153.5 897.5L3165.5 885.5L3159.5 873.5L3147.5 888.5z"/><path d="M3144.5 903.5L3153.5 897.5L3147.5 888.5L3138.5 897.5z"/><path d="M3135.5 906.5L3144.5 903.5L3138.5 897.5L3129.5 900.5z"/><path d="M3123.5 909.5L3135.5 906.5L3129.5 900.5L3117.5 903.5z"/><path d="M3114.5 912.5L3123.5 909.5L3117.5 903.5L3108.5 906.5z"/><path d="M3105.5 915.5L3114.5 912.5L3108.5 906.5L3099.5 909.5z"/><path d="M3093.5 918.5L3105.5 915.5L3099.5 909.5L3087.5 912.5z"/><path d="M3084.5 918.5L3093.5 918.5L3087.5 912.5L3078.5 915.5z"/><path d="M3072.5 921.5L3084.5 918.5L3078.5 915.5L3069.5 918.5z"/><path d="M3063.5 924.5L3072.5 921.5L3069.5 918.5L3057.5 921.5z"/><path d="M3054.5 927.5L3063.5 924.5L3057.5 921.5L3048.5 924.5z"/><path d="M3042.5 930.5L3054.5 927.5L3048.5 924.5L3039.5 927.5z"/><path d="M3033.5 933.5L3042.5 930.5L3039.5 927.5L3027.5 930.5z"/><path d="M3024.5 936.5L3033.5 933.5L3027.5 930.5L3018.5 930.5z"/><path d="M3012.5 939.5L3024.5 936.5L3018.5 930.5L3009.5 933.5z"/><path d="M3003.5 942.5L3012.5 939.5L3009.5 933.5L2997.5 936.5z"/><path d="M2994.5 945.5L3003.5 942.5L2997.5 936.5L2988.5 939.5z"/><path d="M2982.5 948.5L2994.5 945.5L2988.5 939.5L2979.5 942.5z"/><path d="M2973.5 951.5L2982.5 948.5L2979.5 942.5L2967.5 945.5z"/><path d="M2964.5 954.5L2973.5 951.5L2967.5 945.5L2958.5 948.5z"/><path d="M2952.5 957.5L2964.5 954.5L2958.5 948.5L2949.5 951.5z"/><path d="M2943.5 960.5L2952.5 957.5L2949.5 951.5L2937.5 954.5z"/><path d="M2934.5 963.5L2943.5 960.5L2937.5 954.5L2928.5 957.5z"/><path d="M2922.5 963.5L2934.5 963.5L2928.5 957.5L2919.5 960.5z"/><path d="M2913.5 966.5L2922.5 963.5L2919.5 960.5L2907.5 963.5z"/><path d="M3399.5 837.5L3411.5 834.5L3405.5 831.5L3393.5 831.5z"/><path d="M3390.5 840.5L3399.5 837.5L3393.5 831.5L3384.5 834.5z"/><path d="M3381.5 843.5L3390.5 840.5L3384.5 834.5L3375.5 837.5z"/><path d="M3369.5 846.5L3381.5 843.5L3375.5 837.5L3363.5 840.5z"/><path d="M3360.5 849.5L3369.5 846.5L3363.5 840.5L3354.5 843.5z"/><path d="M3351.5 852.5L3360.5 849.5L3354.5 843.5L3345.5 846.5z"/><path d="M3339.5 855.5L3351.5 852.5L3345.5 846.5L3333.5 849.5z"/><path d="M3330.5 855.5L3339.5 855.5L3333.5 849.5L3324.5 852.5z"/><path d="M3321.5 855.5L3330.5 855.5L3324.5 852.5L3315.5 852.5z"/><path d="M3309.5 852.5L3321.5 855.5L3315.5 852.5L3303.5 852.5z"/><path d="M3300.5 834.5L3309.5 852.5L3303.5 852.5L3294.5 840.5z"/><path d="M3291.5 795.5L3300.5 834.5L3294.5 840.5L3285.5 813.5z"/><path class="l" d="M3292.3 798.8L3290.6 798.1"/><path d="M3279.5 726.5L3291.5 795.5L3285.5 813.5L3273.5 762.5z"/><path class="l" d="M3290.6 798.1L3281.1 794.6"/><path class="l" d="M3280.3 731.4L3278.7 731.1"/><path d="M3270.5 630.5L3279.5 726.5L3273.5 762.5L3264.5 678.5z"/><path class="l" d="M3278.7 731.1L3269.9 728.9"/><path class="l" d="M3273.6 663.5L3266.6 661.8"/><path d="M3258.5 528.5L3270.5 630.5L3264.5 678.5L3255.5 576.5z"/><path class="l" d="M3266.6 661.8L3263 661.1"/><path class="l" d="M3266.4 595.8L3257 593.8"/><path d="M3249.5 456.5L3258.5 528.5L3255.5 576.5L3243.5 483.5z"/><path class="l" d="M3258.5 528.2L3249 526.3"/><path class="l" d="M3250.3 463.1L3248.2 462.4"/><path d="M3240.5 441.5L3249.5 456.5L3243.5 483.5L3234.5 435.5z"/><path class="l" d="M3248.2 462.4L3238.9 459"/><path d="M3228.5 492.5L3240.5 441.5L3234.5 435.5L3225.5 456.5z"/><path class="l" d="M3234.6 466.4L3226.2 464.3"/><path d="M3219.5 591.5L3228.5 492.5L3225.5 456.5L3213.5 534.5z"/><path class="l" d="M3224.4 538.1L3213.5 534.2"/><path class="l" d="M3226.2 464.3L3224.4 463.7"/><path d="M3210.5 699.5L3219.5 591.5L3213.5 534.5L3204.5 642.5z"/><path class="l" d="M3212 681.1L3208.4 679.7"/><path class="l" d="M3218 609.8L3207.6 605.7"/><path d="M3198.5 789.5L3210.5 699.5L3204.5 642.5L3195.5 744.5z"/><path class="l" d="M3203.3 753.5L3195.9 750.2"/><path class="l" d="M3208.4 679.7L3201.4 677.5"/><path d="M3189.5 846.5L3198.5 789.5L3195.5 744.5L3183.5 819.5z"/><path class="l" d="M3192.8 825.4L3184.4 823.4"/><path class="l" d="M3195.9 750.2L3194.7 749.8"/><path d="M3180.5 879.5L3189.5 846.5L3183.5 819.5L3174.5 864.5z"/><path class="l" d="M3184.4 823.4L3182.7 823.3"/><path d="M3168.5 894.5L3180.5 879.5L3174.5 864.5L3165.5 885.5z"/><path d="M3159.5 903.5L3168.5 894.5L3165.5 885.5L3153.5 897.5z"/><path d="M3150.5 906.5L3159.5 903.5L3153.5 897.5L3144.5 903.5z"/><path d="M3138.5 909.5L3150.5 906.5L3144.5 903.5L3135.5 906.5z"/><path d="M3129.5 912.5L3138.5 909.5L3135.5 906.5L3123.5 909.5z"/><path d="M3120.5 915.5L3129.5 912.5L3123.5 909.5L3114.5 912.5z"/><path d="M3108.5 918.5L3120.5 915.5L3114.5 912.5L3105.5 915.5z"/><path d="M3099.5 921.5L3108.5 918.5L3105.5 915.5L3093.5 918.5z"/><path d="M3090.5 924.5L3099.5 921.5L3093.5 918.5L3084.5 918.5z"/><path d="M3078.5 927.5L3090.5 924.5L3084.5 918.5L3072.5 921.5z"/><path d="M3069.5 930.5L3078.5 927.5L3072.5 921.5L3063.5 924.5z"/><path d="M3060.5 933.5L3069.5 930.5L3063.5 924.5L3054.5 927.5z"/><path d="M3048.5 936.5L3060.5 933.5L3054.5 927.5L3042.5 930.5z"/><path d="M3039.5 939.5L3048.5 936.5L3042.5 930.5L3033.5 933.5z"/><path d="M3030.5 942.5L3039.5 939.5L3033.5 933.5L3024.5 936.5z"/><path d="M3018.5 945.5L3030.5 942.5L3024.5 936.5L3012.5 939.5z"/><path d="M3009.5 948.5L3018.5 945.5L3012.5 939.5L3003.5 942.5z"/><path d="M3000.5 951.5L3009.5 948.5L3003.5 942.5L2994.5 945.5z"/><path d="M2988.5 954.5L3000.5 951.5L2994.5 945.5L2982.5 948.5z"/><path d="M2979.5 954.5L2988.5 954.5L2982.5 948.5L2973.5 951.5z"/><path d="M2970.5 957.5L2979.5 954.5L2973.5 951.5L2964.5 954.5z"/><path d="M2958.5 960.5L2970.5 957.5L2964.5 954.5L2952.5 957.5z"/><path d="M2949.5 963.5L2958.5 960.5L2952.5 957.5L2943.5 960.5z"/><path d="M2940.5 966.5L2949.5 963.5L2943.5 960.5L2934.5 963.5z"/><path d="M2928.5 969.5L2940.5 966.5L2934.5 963.5L2922.5 963.5z"/><path d="M2919.5 972.5L2928.5 969.5L2922.5 963.5L2913.5 966.5z"/><path d="M3405.5 843.5L3414.5 840.5L3411.5 834.5L3399.5 837.5z"/><path d="M3396.5 846.5L3405.5 843.5L3399.5 837.5L3390.5 840.5z"/><path d="M3384.5 849.5L3396.5 846.5L3390.5 840.5L3381.5 843.5z"/><path d="M3375.5 852.5L3384.5 849.5L3381.5 843.5L3369.5 846.5z"/><path d="M3366.5 852.5L3375.5 852.5L3369.5 846.5L3360.5 849.5z"/><path d="M3354.5 855.5L3366.5 852.5L3360.5 849.5L3351.5 852.5z"/><path d="M3345.5 858.5L3354.5 855.5L3351.5 852.5L3339.5 855.5z"/><path d="M3336.5 861.5L3345.5 858.5L3339.5 855.5L3330.5 855.5z"/><path d="M3324.5 858.5L3336.5 861.5L3330.5 855.5L3321.5 855.5z"/><path d="M3315.5 849.5L3324.5 858.5L3321.5 855.5L3309.5 852.5z"/><path d="M3306.5 822.5L3315.5 849.5L3309.5 852.5L3300.5 834.5z"/><path d="M3294.5 768.5L3306.5 822.5L3300.5 834.5L3291.5 795.5z"/><path class="l" d="M3302.1 802.5L3292.3 798.8"/><path d="M3285.5 684.5L3294.5 768.5L3291.5 795.5L3279.5 726.5z"/><path class="l" d="M3290.9 734.9L3280.3 731.4"/><path d="M3276.5 582.5L3285.5 684.5L3279.5 726.5L3270.5 630.5z"/><path class="l" d="M3284 667.1L3273.6 663.5"/><path class="l" d="M3278 599.8L3274.5 598.5"/><path d="M3264.5 489.5L3276.5 582.5L3270.5 630.5L3258.5 528.5z"/><path class="l" d="M3274.5 598.5L3266.4 595.8"/><path class="l" d="M3270 532.3L3258.5 528.3"/><path d="M3255.5 441.5L3264.5 489.5L3258.5 528.5L3249.5 456.5z"/><path class="l" d="M3258.5 528.3L3258.5 528.2"/><path class="l" d="M3259.9 465L3250.3 463.1"/><path d="M3246.5 462.5L3255.5 441.5L3249.5 456.5L3240.5 441.5z"/><path d="M3234.5 543.5L3246.5 462.5L3240.5 441.5L3228.5 492.5z"/><path class="l" d="M3234.5 543.2L3234.5 543.2"/><path class="l" d="M3245.4 470L3234.6 466.4"/><path d="M3225.5 651.5L3234.5 543.5L3228.5 492.5L3219.5 591.5z"/><path class="l" d="M3228.6 614.7L3221.5 611.5"/><path class="l" d="M3234.5 543.2L3224.4 538.1"/><path d="M3216.5 750.5L3225.5 651.5L3219.5 591.5L3210.5 699.5z"/><path class="l" d="M3222.4 685.5L3212 681.1"/><path class="l" d="M3221.5 611.5L3218 609.8"/><path d="M3204.5 825.5L3216.5 750.5L3210.5 699.5L3198.5 789.5z"/><path class="l" d="M3215.7 755.8L3203.3 753.5"/><path d="M3195.5 870.5L3204.5 825.5L3198.5 789.5L3189.5 846.5z"/><path class="l" d="M3203.7 829.3L3192.8 825.4"/><path d="M3186.5 891.5L3195.5 870.5L3189.5 846.5L3180.5 879.5z"/><path d="M3174.5 903.5L3186.5 891.5L3180.5 879.5L3168.5 894.5z"/><path d="M3165.5 909.5L3174.5 903.5L3168.5 894.5L3159.5 903.5z"/><path d="M3156.5 912.5L3165.5 909.5L3159.5 903.5L3150.5 906.5z"/><path d="M3144.5 915.5L3156.5 912.5L3150.5 906.5L3138.5 909.5z"/><path d="M3135.5 918.5L3144.5 915.5L3138.5 909.5L3129.5 912.5z"/><path d="M3126.5 921.5L3135.5 918.5L3129.5 912.5L3120.5 915.5z"/><path d="M3114.5 924.5L3126.5 921.5L3120.5 915.5L3108.5 918.5z"/><path d="M3105.5 927.5L3114.5 924.5L3108.5 918.5L3099.5 921.5z"/><path d="M3096.5 930.5L3105.5 927.5L3099.5 921.5L3090.5 924.5z"/><path d="M3084.5 933.5L3096.5 930.5L3090.5 924.5L3078.5 927.5z"/><path d="M3075.5 936.5L3084.5 933.5L3078.5 927.5L3069.5 930.5z"/><path d="M3066.5 939.5L3075.5 936.5L3069.5 930.5L3060.5 933.5z"/><path d="M3054.5 942.5L3066.5 939.5L3060.5 933.5L3048.5 936.5z"/><path d="M3045.5 942.5L3054.5 942.5L3048.5 936.5L3039.5 939.5z"/><path d="M3036.5 945.5L3045.5 942.5L3039.5 939.5L3030.5 942.5z"/><path d="M3024.5 948.5L3036.5 945.5L3030.5 942.5L3018.5 945.5z"/><path d="M3015.5 951.5L3024.5 948.5L3018.5 945.5L3009.5 948.5z"/><path d="M3006.5 954.5L3015.5 951.5L3009.5 948.5L3000.5 951.5z"/><path d="M2994.5 957.5L3006.5 954.5L3000.5 951.5L2988.5 954.5z"/><path d="M2985.5 960.5L2994.5 957.5L2988.5 954.5L2979.5 954.5z"/><path d="M2976.5 963.5L2985.5 960.5L2979.5 954.5L2970.5 957.5z"/><path d="M2964.5 966.5L2976.5 963.5L2970.5 957.5L2958.5 960.5z"/><path d="M2955.5 969.5L2964.5 966.5L2958.5 960.5L2949.5 963.5z"/><path d="M2946.5 972.5L2955.5 969.5L2949.5 963.5L2940.5 966.5z"/><path d="M2934.5 975.5L2946.5 972.5L2940.5 966.5L2928.5 969.5z"/><path d="M2925.5 978.5L2934.5 975.5L2928.5 969.5L2919.5 972.5z"/><path d="M3411.5 846.5L3420.5 843.5L3414.5 840.5L3405.5 843.5z"/><path d="M3402.5 849.5L3411.5 846.5L3405.5 843.5L3396.5 846.5z"/><path d="M3390.5 852.5L3402.5 849.5L3396.5 846.5L3384.5 849.5z"/><path d="M3381.5 855.5L3390.5 852.5L3384.5 849.5L3375.5 852.5z"/><path d="M3372.5 858.5L3381.5 855.5L3375.5 852.5L3366.5 852.5z"/><path d="M3360.5 861.5L3372.5 858.5L3366.5 852.5L3354.5 855.5z"/><path d="M3351.5 864.5L3360.5 861.5L3354.5 855.5L3345.5 858.5z"/><path d="M3342.5 864.5L3351.5 864.5L3345.5 858.5L3336.5 861.5z"/><path d="M3330.5 858.5L3342.5 864.5L3336.5 861.5L3324.5 858.5z"/><path d="M3321.5 840.5L3330.5 858.5L3324.5 858.5L3315.5 849.5z"/><path d="M3312.5 801.5L3321.5 840.5L3315.5 849.5L3306.5 822.5z"/><path class="l" d="M3313.3 804.8L3311.6 804.5"/><path d="M3300.5 735.5L3312.5 801.5L3306.5 822.5L3294.5 768.5z"/><path class="l" d="M3311.6 804.5L3302.1 802.5"/><path class="l" d="M3301.3 740.2L3299.7 739.7"/><path d="M3291.5 639.5L3300.5 735.5L3294.5 768.5L3285.5 684.5z"/><path class="l" d="M3299.7 739.7L3290.9 734.9"/><path class="l" d="M3294.6 672.5L3287.6 668.9"/><path d="M3282.5 537.5L3291.5 639.5L3285.5 684.5L3276.5 582.5z"/><path class="l" d="M3287.6 668.9L3284 667.1"/><path class="l" d="M3288.4 604.8L3278 599.8"/><path d="M3270.5 462.5L3282.5 537.5L3276.5 582.5L3264.5 489.5z"/><path class="l" d="M3282.5 537.2L3270 532.3"/><path class="l" d="M3271.6 469.4L3269.2 468.4"/><path d="M3261.5 447.5L3270.5 462.5L3264.5 489.5L3255.5 441.5z"/><path class="l" d="M3269.2 468.4L3259.9 465"/><path d="M3252.5 501.5L3261.5 447.5L3255.5 441.5L3246.5 462.5z"/><path class="l" d="M3257.1 473.9L3247.8 471"/><path d="M3240.5 600.5L3252.5 501.5L3246.5 462.5L3234.5 543.5z"/><path class="l" d="M3247 547.1L3234.5 543.2"/><path class="l" d="M3247.8 471L3245.4 470"/><path d="M3231.5 708.5L3240.5 600.5L3234.5 543.5L3225.5 651.5z"/><path class="l" d="M3233 690.1L3229.4 688.7"/><path class="l" d="M3239 618.8L3228.6 614.7"/><path d="M3222.5 795.5L3231.5 708.5L3225.5 651.5L3216.5 750.5z"/><path class="l" d="M3226.1 760.7L3217.3 756.2"/><path class="l" d="M3229.4 688.7L3222.4 685.5"/><path d="M3210.5 855.5L3222.5 795.5L3216.5 750.5L3204.5 825.5z"/><path class="l" d="M3214.9 833.3L3205.4 829.8"/><path class="l" d="M3217.3 756.2L3215.7 755.8"/><path d="M3201.5 888.5L3210.5 855.5L3204.5 825.5L3195.5 870.5z"/><path class="l" d="M3205.4 829.8L3203.7 829.3"/><path d="M3192.5 903.5L3201.5 888.5L3195.5 870.5L3186.5 891.5z"/><path d="M3180.5 909.5L3192.5 903.5L3186.5 891.5L3174.5 903.5z"/><path d="M3171.5 915.5L3180.5 909.5L3174.5 903.5L3165.5 909.5z"/><path d="M3162.5 918.5L3171.5 915.5L3165.5 909.5L3156.5 912.5z"/><path d="M3150.5 921.5L3162.5 918.5L3156.5 912.5L3144.5 915.5z"/><path d="M3141.5 924.5L3150.5 921.5L3144.5 915.5L3135.5 918.5z"/><path d="M3132.5 927.5L3141.5 924.5L3135.5 918.5L3126.5 921.5z"/><path d="M3120.5 930.5L3132.5 927.5L3126.5 921.5L3114.5 924.5z"/><path d="M3111.5 930.5L3120.5 930.5L3114.5 924.5L3105.5 927.5z"/><path d="M3102.5 933.5L3111.5 930.5L3105.5 927.5L3096.5 930.5z"/><path d="M3090.5 936.5L3102.5 933.5L3096.5 930.5L3084.5 933.5z"/><path d="M3081.5 939.5L3090.5 936.5L3084.5 933.5L3075.5 936.5z"/><path d="M3072.5 942.5L3081.5 939.5L3075.5 936.5L3066.5 939.5z"/><path d="M3060.5 945.5L3072.5 942.5L3066.5 939.5L3054.5 942.5z"/><path d="M3051.5 948.5L3060.5 945.5L3054.5 942.5L3045.5 942.5z"/><path d="M3042.5 951.5L3051.5 948.5L3045.5 942.5L3036.5 945.5z"/><path d="M3030.5 954.5L3042.5 951.5L3036.5 945.5L3024.5 948.5z"/><path d="M3021.5 957.5L3030.5 954.5L3024.5 948.5L3015.5 951.5z"/><path d="M3012.5 960.5L3021.5 957.5L3015.5 951.5L3006.5 954.5z"/><path d="M3000.5 963.5L3012.5 960.5L3006.5 954.5L2994.5 957.5z"/><path d="M2991.5 966.5L3000.5 963.5L2994.5 957.5L2985.5 960.5z"/><path d="M2982.5 969.5L2991.5 966.5L2985.5 960.5L2976.5 963.5z"/><path d="M2970.5 972.5L2982.5 969.5L2976.5 963.5L2964.5 966.5z"/><path d="M2961.5 975.5L2970.5 972.5L2964.5 966.5L2955.5 969.5z"/><path d="M2952.5 975.5L2961.5 975.5L2955.5 969.5L2946.5 972.5z"/><path d="M2940.5 978.5L2952.5 975.5L2946.5 972.5L2934.5 975.5z"/><path d="M2931.5 981.5L2940.5 978.5L2934.5 975.5L2925.5 978.5z"/><path d="M3417.5 852.5L3426.5 849.5L3420.5 843.5L3411.5 846.5z"/><path d="M3408.5 855.5L3417.5 852.5L3411.5 846.5L3402.5 849.5z"/><path d="M3396.5 858.5L3408.5 855.5L3402.5 849.5L3390.5 852.5z"/><path d="M3387.5 861.5L3396.5 858.5L3390.5 852.5L3381.5 855.5z"/><path d="M3378.5 864.5L3387.5 861.5L3381.5 855.5L3372.5 858.5z"/><path d="M3366.5 867.5L3378.5 864.5L3372.5 858.5L3360.5 861.5z"/><path d="M3357.5 867.5L3366.5 867.5L3360.5 861.5L3351.5 864.5z"/><path d="M3348.5 864.5L3357.5 867.5L3351.5 864.5L3342.5 864.5z"/><path d="M3336.5 855.5L3348.5 864.5L3342.5 864.5L3330.5 858.5z"/><path d="M3327.5 828.5L3336.5 855.5L3330.5 858.5L3321.5 840.5z"/><path d="M3318.5 774.5L3327.5 828.5L3321.5 840.5L3312.5 801.5z"/><path class="l" d="M3324.2 808.5L3313.3 804.8"/><path d="M3306.5 693.5L3318.5 774.5L3312.5 801.5L3300.5 735.5z"/><path class="l" d="M3313.7 742.1L3301.3 740.2"/><path d="M3297.5 588.5L3306.5 693.5L3300.5 735.5L3291.5 639.5z"/><path class="l" d="M3305 675.6L3294.6 672.5"/><path class="l" d="M3299 606.3L3295.5 605.5"/><path d="M3288.5 498.5L3297.5 588.5L3291.5 639.5L3282.5 537.5z"/><path class="l" d="M3295.5 605.5L3288.4 604.8"/><path class="l" d="M3292.6 539.9L3282.5 537.3"/><path d="M3276.5 450.5L3288.5 498.5L3282.5 537.5L3270.5 462.5z"/><path class="l" d="M3282.5 537.3L3282.5 537.2"/><path class="l" d="M3282.4 474L3271.6 469.4"/><path d="M3267.5 468.5L3276.5 450.5L3270.5 462.5L3261.5 447.5z"/><path d="M3258.5 549.5L3267.5 468.5L3261.5 447.5L3252.5 501.5z"/><path class="l" d="M3258.5 549.2L3258.5 549.2"/><path class="l" d="M3266.7 476L3257.1 473.9"/><path d="M3246.5 657.5L3258.5 549.5L3252.5 501.5L3240.5 600.5z"/><path class="l" d="M3250.6 620.7L3242.5 619.5"/><path class="l" d="M3258.5 549.2L3247 547.1"/><path d="M3237.5 759.5L3246.5 657.5L3240.5 600.5L3231.5 708.5z"/><path class="l" d="M3243.4 692.5L3233 690.1"/><path class="l" d="M3242.5 619.5L3239 618.8"/><path d="M3228.5 831.5L3237.5 759.5L3231.5 708.5L3222.5 795.5z"/><path class="l" d="M3236.9 764.6L3226.1 760.7"/><path d="M3216.5 876.5L3228.5 831.5L3222.5 795.5L3210.5 855.5z"/><path class="l" d="M3227.5 835.3L3214.9 833.3"/><path d="M3207.5 900.5L3216.5 876.5L3210.5 855.5L3201.5 888.5z"/><path d="M3198.5 909.5L3207.5 900.5L3201.5 888.5L3192.5 903.5z"/><path d="M3186.5 915.5L3198.5 909.5L3192.5 903.5L3180.5 909.5z"/><path d="M3177.5 918.5L3186.5 915.5L3180.5 909.5L3171.5 915.5z"/><path d="M3168.5 921.5L3177.5 918.5L3171.5 915.5L3162.5 918.5z"/><path d="M3156.5 924.5L3168.5 921.5L3162.5 918.5L3150.5 921.5z"/><path d="M3147.5 927.5L3156.5 924.5L3150.5 921.5L3141.5 924.5z"/><path d="M3138.5 930.5L3147.5 927.5L3141.5 924.5L3132.5 927.5z"/><path d="M3126.5 933.5L3138.5 930.5L3132.5 927.5L3120.5 930.5z"/><path d="M3117.5 936.5L3126.5 933.5L3120.5 930.5L3111.5 930.5z"/><path d="M3108.5 939.5L3117.5 936.5L3111.5 930.5L3102.5 933.5z"/><path d="M3096.5 942.5L3108.5 939.5L3102.5 933.5L3090.5 936.5z"/><path d="M3087.5 945.5L3096.5 942.5L3090.5 936.5L3081.5 939.5z"/><path d="M3075.5 948.5L3087.5 945.5L3081.5 939.5L3072.5 942.5z"/><path d="M3066.5 951.5L3075.5 948.5L3072.5 942.5L3060.5 945.5z"/><path d="M3057.5 954.5L3066.5 951.5L3060.5 945.5L3051.5 948.5z"/><path d="M3045.5 957.5L3057.5 954.5L3051.5 948.5L3042.5 951.5z"/><path d="M3036.5 960.5L3045.5 957.5L3042.5 951.5L3030.5 954.5z"/><path d="M3027.5 963.5L3036.5 960.5L3030.5 954.5L3021.5 957.5z"/><path d="M3015.5 963.5L3027.5 963.5L3021.5 957.5L3012.5 960.5z"/><path d="M3006.5 966.5L3015.5 963.5L3012.5 960.5L3000.5 963.5z"/><path d="M2997.5 969.5L3006.5 966.5L3000.5 963.5L2991.5 966.5z"/><path d="M2985.5 972.5L2997.5 969.5L2991.5 966.5L2982.5 969.5z"/><path d="M2976.5 975.5L2985.5 972.5L2982.5 969.5L2970.5 972.5z"/><path d="M2967.5 978.5L2976.5 975.5L2970.5 972.5L2961.5 975.5z"/><path d="M2955.5 981.5L2967.5 978.5L2961.5 975.5L2952.5 975.5z"/><path d="M2946.5 984.5L2955.5 981.5L2952.5 975.5L2940.5 978.5z"/><path d="M2937.5 987.5L2946.5 984.5L2940.5 978.5L2931.5 981.5z"/><path d="M3423.5 858.5L3432.5 855.5L3426.5 849.5L3417.5 852.5z"/><path d="M3414.5 861.5L3423.5 858.5L3417.5 852.5L3408.5 855.5z"/><path d="M3402.5 864.5L3414.5 861.5L3408.5 855.5L3396.5 858.5z"/><path d="M3393.5 864.5L3402.5 864.5L3396.5 858.5L3387.5 861.5z"/><path d="M3384.5 867.5L3393.5 864.5L3387.5 861.5L3378.5 864.5z"/><path d="M3372.5 870.5L3384.5 867.5L3378.5 864.5L3366.5 867.5z"/><path d="M3363.5 870.5L3372.5 870.5L3366.5 867.5L3357.5 867.5z"/><path d="M3354.5 864.5L3363.5 870.5L3357.5 867.5L3348.5 864.5z"/><path d="M3342.5 849.5L3354.5 864.5L3348.5 864.5L3336.5 855.5z"/><path d="M3333.5 810.5L3342.5 849.5L3336.5 855.5L3327.5 828.5z"/><path class="l" d="M3334.3 813.8L3332.6 813.1"/><path d="M3324.5 741.5L3333.5 810.5L3327.5 828.5L3318.5 774.5z"/><path class="l" d="M3332.6 813.1L3324.2 808.5"/><path class="l" d="M3325.1 746.4L3323.7 745.7"/><path d="M3312.5 645.5L3324.5 741.5L3318.5 774.5L3306.5 693.5z"/><path class="l" d="M3323.7 745.7L3313.7 742.1"/><path class="l" d="M3316.6 678.5L3308.6 676.8"/><path d="M3303.5 543.5L3312.5 645.5L3306.5 693.5L3297.5 588.5z"/><path class="l" d="M3308.6 676.8L3305 675.6"/><path class="l" d="M3309.4 610.8L3299 606.3"/><path d="M3294.5 468.5L3303.5 543.5L3297.5 588.5L3288.5 498.5z"/><path class="l" d="M3303.5 543.2L3292.6 539.9"/><path class="l" d="M3295.3 475.4L3293.2 475"/><path d="M3282.5 453.5L3294.5 468.5L3288.5 498.5L3276.5 450.5z"/><path class="l" d="M3293.2 475L3282.4 474"/><path d="M3273.5 507.5L3282.5 453.5L3276.5 450.5L3267.5 468.5z"/><path class="l" d="M3278.1 479.9L3268.8 477"/><path d="M3261.5 606.5L3273.5 507.5L3267.5 468.5L3258.5 549.5z"/><path class="l" d="M3268 553.1L3258.5 549.2"/><path class="l" d="M3268.8 477L3266.7 476"/><path d="M3252.5 714.5L3261.5 606.5L3258.5 549.5L3246.5 657.5z"/><path class="l" d="M3254 696.1L3250.4 694.7"/><path class="l" d="M3260 624.8L3250.6 620.7"/><path d="M3243.5 804.5L3252.5 714.5L3246.5 657.5L3237.5 759.5z"/><path class="l" d="M3247.1 768.5L3238.3 765.2"/><path class="l" d="M3250.4 694.7L3243.4 692.5"/><path d="M3231.5 861.5L3243.5 804.5L3237.5 759.5L3228.5 831.5z"/><path class="l" d="M3235.9 840.4L3228.9 835.8"/><path class="l" d="M3238.3 765.2L3236.9 764.6"/><path d="M3222.5 894.5L3231.5 861.5L3228.5 831.5L3216.5 876.5z"/><path class="l" d="M3228.9 835.8L3227.5 835.3"/><path d="M3213.5 909.5L3222.5 894.5L3216.5 876.5L3207.5 900.5z"/><path d="M3201.5 918.5L3213.5 909.5L3207.5 900.5L3198.5 909.5z"/><path d="M3192.5 921.5L3201.5 918.5L3198.5 909.5L3186.5 915.5z"/><path d="M3183.5 924.5L3192.5 921.5L3186.5 915.5L3177.5 918.5z"/><path d="M3171.5 927.5L3183.5 924.5L3177.5 918.5L3168.5 921.5z"/><path d="M3162.5 930.5L3171.5 927.5L3168.5 921.5L3156.5 924.5z"/><path d="M3153.5 933.5L3162.5 930.5L3156.5 924.5L3147.5 927.5z"/><path d="M3141.5 936.5L3153.5 933.5L3147.5 927.5L3138.5 930.5z"/><path d="M3132.5 939.5L3141.5 936.5L3138.5 930.5L3126.5 933.5z"/><path d="M3123.5 942.5L3132.5 939.5L3126.5 933.5L3117.5 936.5z"/><path d="M3111.5 945.5L3123.5 942.5L3117.5 936.5L3108.5 939.5z"/><path d="M3102.5 948.5L3111.5 945.5L3108.5 939.5L3096.5 942.5z"/><path d="M3093.5 951.5L3102.5 948.5L3096.5 942.5L3087.5 945.5z"/><path d="M3081.5 951.5L3093.5 951.5L3087.5 945.5L3075.5 948.5z"/><path d="M3072.5 954.5L3081.5 951.5L3075.5 948.5L3066.5 951.5z"/><path d="M3063.5 957.5L3072.5 954.5L3066.5 951.5L3057.5 954.5z"/><path d="M3051.5 960.5L3063.5 957.5L3057.5 954.5L3045.5 957.5z"/><path d="M3042.5 963.5L3051.5 960.5L3045.5 957.5L3036.5 960.5z"/><path d="M3033.5 966.5L3042.5 963.5L3036.5 960.5L3027.5 963.5z"/><path d="M3021.5 969.5L3033.5 966.5L3027.5 963.5L3015.5 963.5z"/><path d="M3012.5 972.5L3021.5 969.5L3015.5 963.5L3006.5 966.5z"/><path d="M3003.5 975.5L3012.5 972.5L3006.5 966.5L2997.5 969.5z"/><path d="M2991.5 978.5L3003.5 975.5L2997.5 969.5L2985.5 972.5z"/><path d="M2982.5 981.5L2991.5 978.5L2985.5 972.5L2976.5 975.5z"/><path d="M2973.5 984.5L2982.5 981.5L2976.5 975.5L2967.5 978.5z"/><path d="M2961.5 987.5L2973.5 984.5L2967.5 978.5L2955.5 981.5z"/><path d="M2952.5 990.5L2961.5 987.5L2955.5 981.5L2946.5 984.5z"/><path d="M2943.5 993.5L2952.5 990.5L2946.5 984.5L2937.5 987.5z"/></g>
<path d="M2940.4 996.2L2940.4 507.2M2940.4 507.2L2652.7 261.4M2940.4 507.2L3441.1 366.7M2940.4 996.2L2652.7 750.4M2940.4 996.2L3441.1 855.7M2652.7 750.4L2652.7 261.4M2652.5 750.5H2637M2652.5 735.5H2646M2652.5 723.5H2646M2652.5 708.5H2646M2652.5 693.5H2646M2652.5 681.5H2637M2652.5 666.5H2646M2652.5 651.5H2646M2652.5 639.5H2646M2652.5 624.5H2646M2652.5 612.5H2637M2652.5 597.5H2646M2652.5 582.5H2646M2652.5 570.5H2646M2652.5 555.5H2646M2652.5 540.5H2637M2652.5 528.5H2646M2652.5 513.5H2646M2652.5 498.5H2646M2652.5 486.5H2646M2652.5 471.5H2637M2652.5 459.5H2646M2652.5 444.5H2646M2652.5 429.5H2646M2652.5 417.5H2646M2652.5 402.5H2637M2652.5 387.5H2646M2652.5 375.5H2646M2652.5 360.5H2646M2652.5 345.5H2646M2652.5 333.5H2637M2652.5 318.5H2646M2652.5 303.5H2646M2652.5 291.5H2646M2652.5 276.5H2646M2652.5 264.5H2637M2940.4 996.2L2944.2 1009.7M2950.4 993.4L2952.2 999.6M2960.4 990.6L2962.2 996.8M2970.4 987.8L2972.2 994M2980.5 985L2982.2 991.2M2990.5 982.2L2994.3 995.6M3000.5 979.3L3002.2 985.6M3010.5 976.5L3012.3 982.8M3020.5 973.7L3022.3 980M3030.5 970.9L3032.3 977.2M3040.5 968.1L3044.3 981.6M3050.6 965.3L3052.3 971.5M3060.6 962.5L3062.3 968.7M3070.6 959.7L3072.3 965.9M3080.6 956.9L3082.4 963.1M3090.6 954.1L3094.4 967.5M3100.6 951.2L3102.4 957.5M3110.6 948.4L3112.4 954.7M3120.7 945.6L3122.4 951.9M3130.7 942.8L3132.4 949.1M3140.7 940L3144.5 953.5M3150.7 937.2L3152.5 943.4M3160.7 934.4L3162.5 940.6M3170.7 931.6L3172.5 937.8M3180.7 928.8L3182.5 935M3190.8 926L3194.5 939.4M3200.8 923.1L3202.5 929.4M3210.8 920.3L3212.5 926.6M3220.8 917.5L3222.5 923.8M3230.8 914.7L3232.6 921M3240.8 911.9L3244.6 925.4M3250.8 909.1L3252.6 915.3M3260.8 906.3L3262.6 912.5M3270.9 903.5L3272.6 909.7M3280.9 900.7L3282.6 906.9M3290.9 897.9L3294.7 911.3M3300.9 895L3302.7 901.3M3310.9 892.2L3312.7 898.5M3320.9 889.4L3322.7 895.7M3330.9 886.6L3332.7 892.9M3341 883.8L3344.7 897.3M3351 881L3352.7 887.2M3361 878.2L3362.7 884.4M3371 875.4L3372.8 881.6M3381 872.6L3382.8 878.8M3391 869.8L3394.8 883.2M3401 866.9L3402.8 873.2M3411.1 864.1L3412.8 870.4M3421.1 861.3L3422.8 867.6M3431.1 858.5L3432.8 864.8M3441.1 855.7L3444.9 869.2M2940.4 996.2L2931.3 1006.8M2934.6 991.3L2930.4 996.2M2928.9 986.4L2924.7 991.3M2923.1 981.5L2918.9 986.4M2917.4 976.5L2913.2 981.5M2911.6 971.6L2902.5 982.3M2905.9 966.7L2901.7 971.6M2900.1 961.8L2895.9 966.7M2894.4 956.9L2890.1 961.8M2888.6 952L2884.4 956.9M2882.9 947L2873.8 957.7M2877.1 942.1L2872.9 947.1M2871.4 937.2L2867.1 942.1M2865.6 932.3L2861.4 937.2M2859.8 927.4L2855.6 932.3M2854.1 922.5L2845 933.1M2848.3 917.5L2844.1 922.5M2842.6 912.6L2838.4 917.6M2836.8 907.7L2832.6 912.7M2831.1 902.8L2826.9 907.7M2825.3 897.9L2816.2 908.5M2819.6 893L2815.3 897.9M2813.8 888L2809.6 893M2808.1 883.1L2803.8 888.1M2802.3 878.2L2798.1 883.2M2796.6 873.3L2787.5 883.9M2790.8 868.4L2786.6 873.3M2785 863.5L2780.8 868.4M2779.3 858.6L2775.1 863.5M2773.5 853.6L2769.3 858.6M2767.8 848.7L2758.7 859.4M2762 843.8L2757.8 848.7M2756.3 838.9L2752 843.8M2750.5 834L2746.3 838.9M2744.8 829.1L2740.5 834M2739 824.1L2729.9 834.8M2733.3 819.2L2729 824.2M2727.5 814.3L2723.3 819.2M2721.7 809.4L2717.5 814.3M2716 804.5L2711.8 809.4M2710.2 799.6L2701.1 810.2M2704.5 794.6L2700.3 799.6M2698.7 789.7L2694.5 794.7M2693 784.8L2688.8 789.8M2687.2 779.9L2683 784.8M2681.5 775L2672.4 785.6M2675.7 770.1L2671.5 775M2670 765.1L2665.7 770.1M2664.2 760.2L2660 765.2M2658.5 755.3L2654.2 760.3M2652.7 750.4L2643.6 761" fill="none" stroke="#000" stroke-width="0.99" shape-rendering="crispEdges"/>
<g font-size="35" fill="#000"><text x="2630" y="765.1" text-anchor="end">0</text><text x="2630" y="695.5" text-anchor="end">0.0005</text><text x="2630" y="625.9" text-anchor="end">0.001</text><text x="2630" y="556.3" text-anchor="end">0.0015</text><text x="2630" y="486.7" text-anchor="end">0.002</text><text x="2630" y="417.1" text-anchor="end">0.0025</text><text x="2630" y="347.5" text-anchor="end">0.003</text><text x="2630" y="277.9" text-anchor="end">0.0035</text><text x="2947.8" y="1045.9" text-anchor="middle" font-size="33.5">−5</text><text x="2912.9" y="1039.4" text-anchor="end" font-size="33.5">−5</text><text x="2997.9" y="1031.9" text-anchor="middle" font-size="33.5">−4</text><text x="2884.1" y="1014.8" text-anchor="end" font-size="33.5">−4</text><text x="3047.9" y="1017.8" text-anchor="middle" font-size="33.5">−3</text><text x="2855.4" y="990.2" text-anchor="end" font-size="33.5">−3</text><text x="3098" y="1003.8" text-anchor="middle" font-size="33.5">−2</text><text x="2826.6" y="965.7" text-anchor="end" font-size="33.5">−2</text><text x="3148.1" y="989.7" text-anchor="middle" font-size="33.5">−1</text><text x="2797.8" y="941.1" text-anchor="end" font-size="33.5">−1</text><text x="3198.2" y="975.7" text-anchor="middle" font-size="33.5">0</text><text x="2769.1" y="916.5" text-anchor="end" font-size="33.5">0</text><text x="3248.2" y="961.6" text-anchor="middle" font-size="33.5">1</text><text x="2740.3" y="891.9" text-anchor="end" font-size="33.5">1</text><text x="3298.3" y="947.6" text-anchor="middle" font-size="33.5">2</text><text x="2711.5" y="867.3" text-anchor="end" font-size="33.5">2</text><text x="3348.4" y="933.5" text-anchor="middle" font-size="33.5">3</text><text x="2682.7" y="842.8" text-anchor="end" font-size="33.5">3</text><text x="3398.4" y="919.5" text-anchor="middle" font-size="33.5">4</text><text x="2654" y="818.2" text-anchor="end" font-size="33.5">4</text><text x="3448.5" y="905.4" text-anchor="middle" font-size="33.5">5</text><text x="2625.2" y="793.6" text-anchor="end" font-size="33.5">5</text><text transform="translate(2607.5,812.2) rotate(40.5)" text-anchor="middle" y="9">y</text><text transform="translate(3444,906) rotate(-15.7)" text-anchor="middle" y="9">x</text><text transform="translate(2507,269.7) rotate(-90)" text-anchor="end" font-size="35">Events / ( 0.2 x 0.2 )</text></g>
<text x="2976" y="69" font-size="55.1" text-anchor="middle" fill="#000">Histogram of hh_model__x_y</text>
<path d="M3306.5 81.5H3531.5V345.5H3306.5ZM3306.5 126.5H3531.5" fill="#fff" stroke="#000" stroke-width="1" shape-rendering="crispEdges"/>
<text x="3416.7" y="114" font-size="27" text-anchor="middle" fill="#000">hh_model__x_y</text>
<g font-size="18.9" fill="#000"><text x="3315.5" y="156.3">Entries</text><text x="3512.5" y="156.3" text-anchor="end">2500</text><text x="3315.5" y="201.2">Mean x</text><text x="3515.5" y="201.2" text-anchor="end">−0.5</text><text x="3315.5" y="243.6">Mean y</text><text x="3515.5" y="243.6" text-anchor="end">−2.918e −06</text><text x="3315.5" y="288.5">Std Dev x</text><text x="3511" y="288.5" text-anchor="end">1.527</text><text x="3315.5" y="332.7">Std Dev y</text><text x="3511" y="332.7" text-anchor="end">2.886</text></g>
</svg>
</body></html>
